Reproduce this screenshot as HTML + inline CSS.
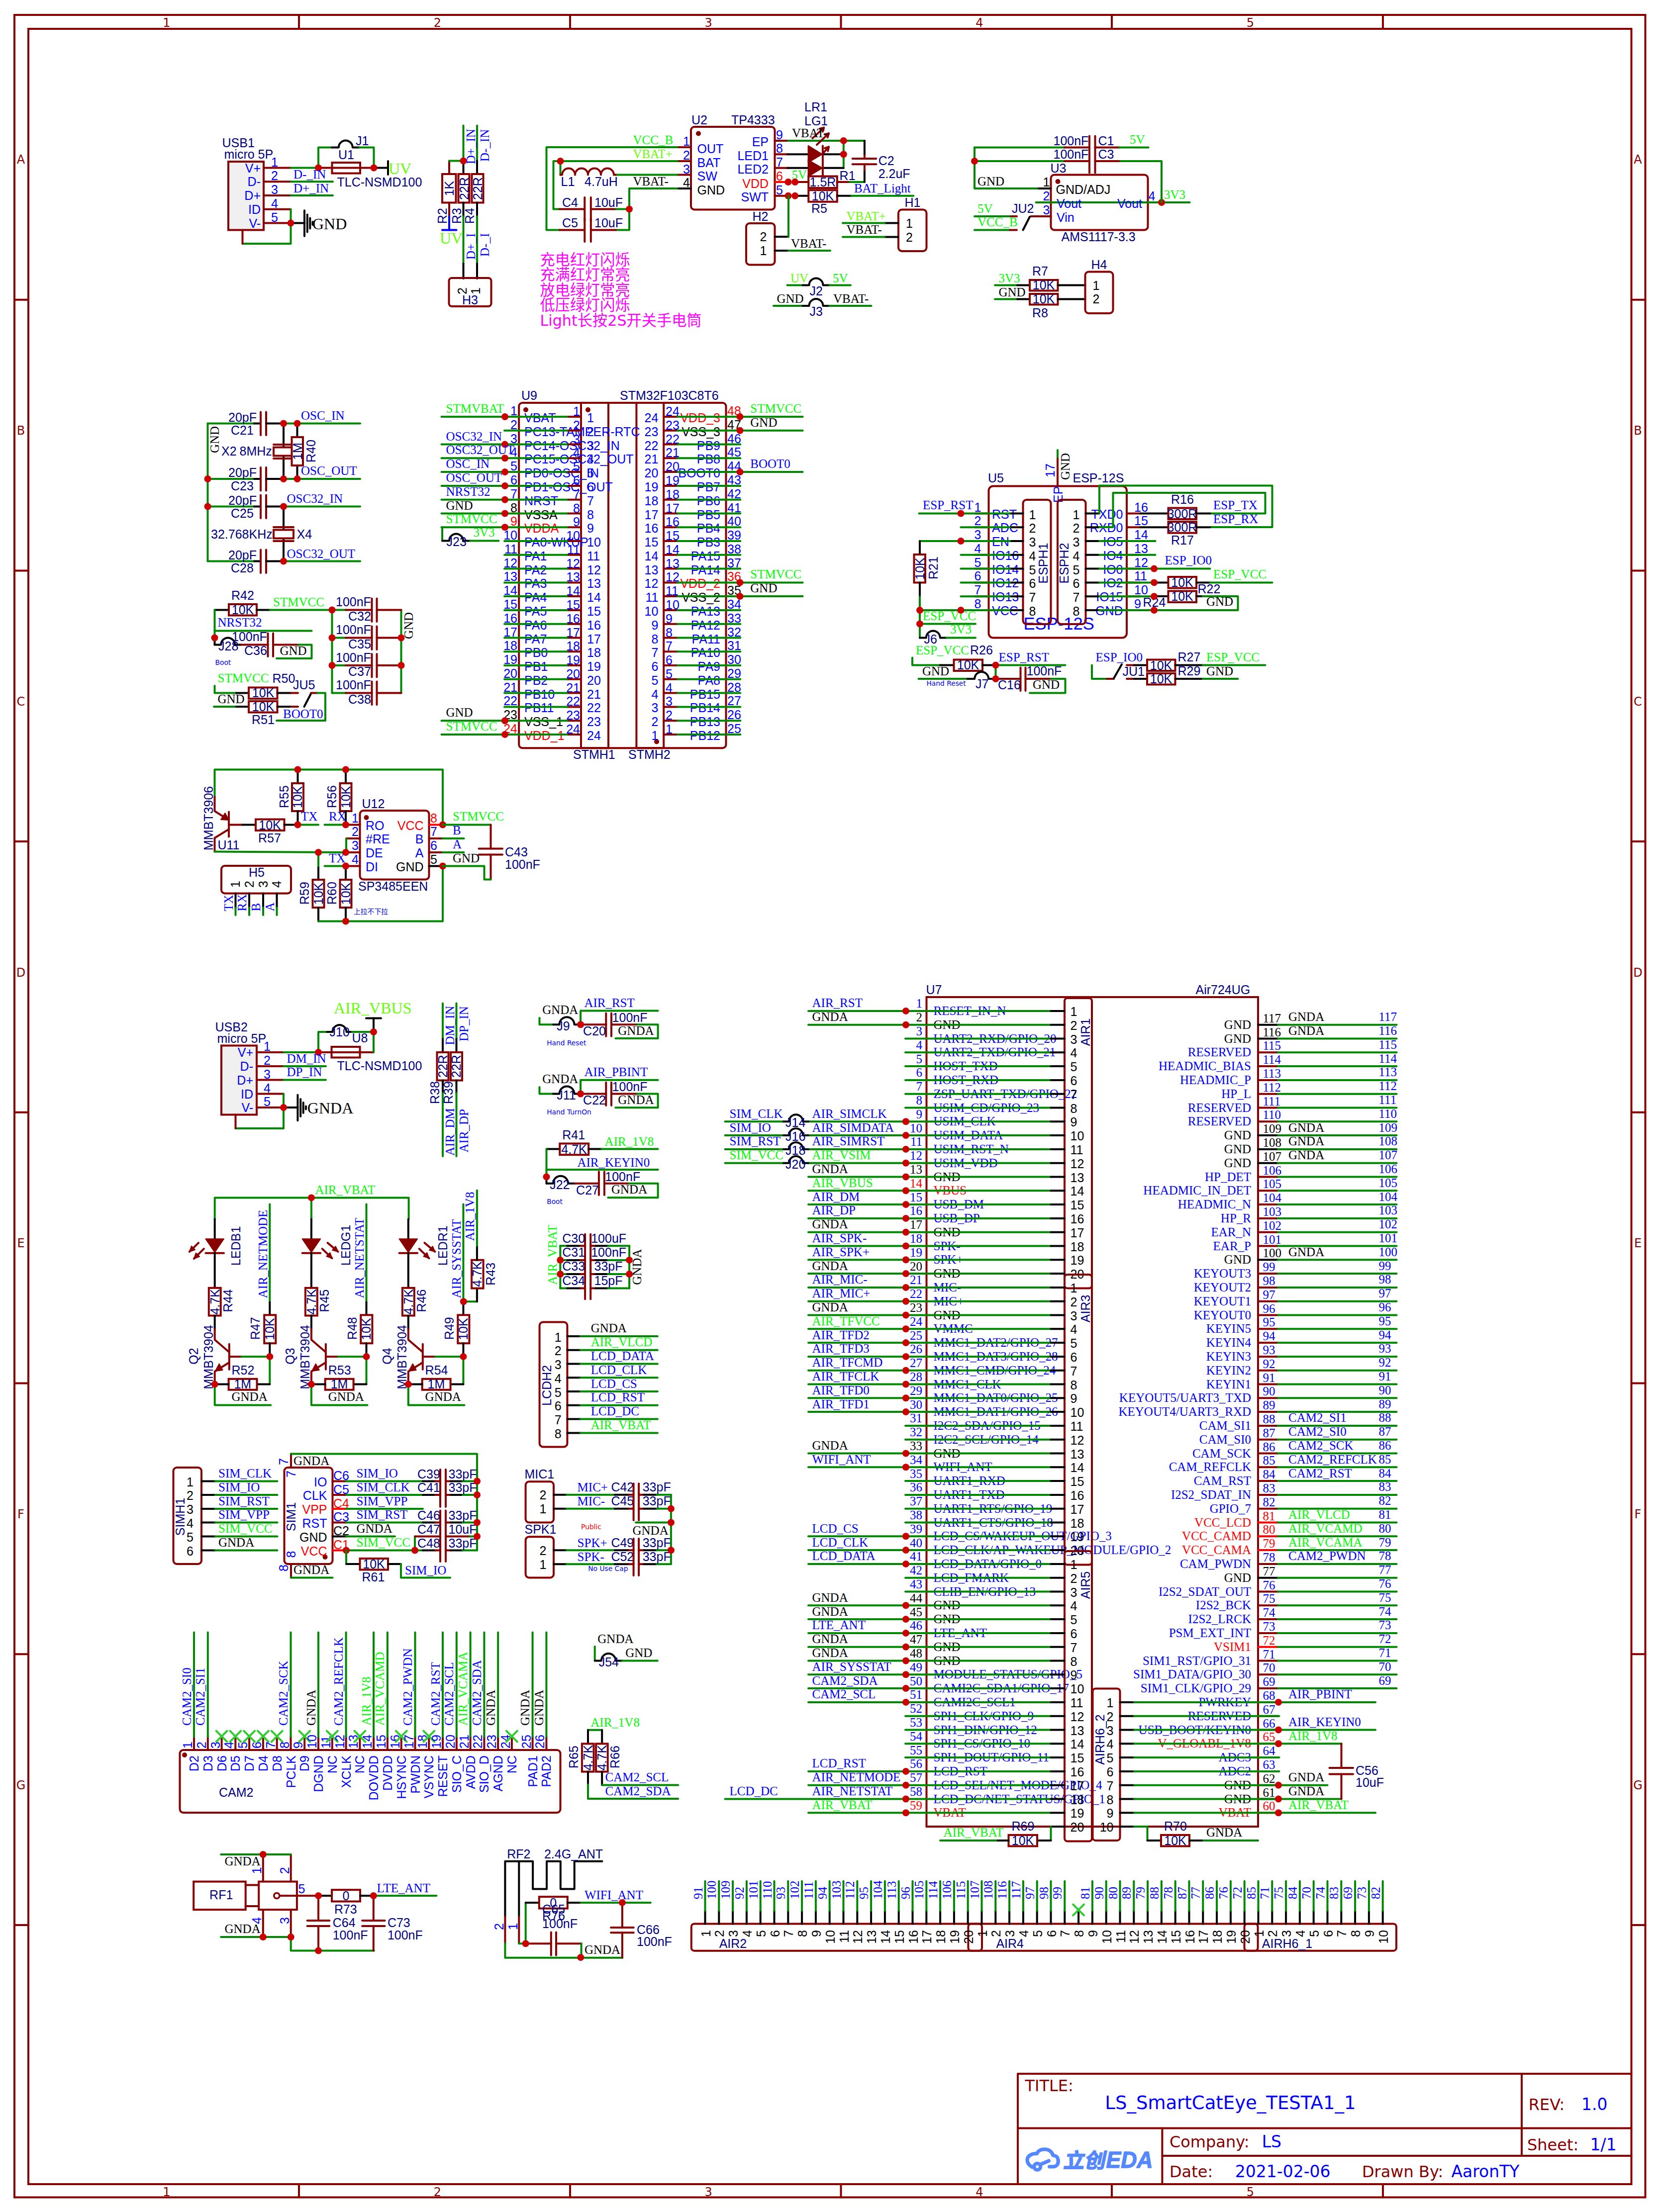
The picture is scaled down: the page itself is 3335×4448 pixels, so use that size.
<!DOCTYPE html>
<html lang="zh"><head><meta charset="utf-8"><title>LS_SmartCatEye_TESTA1_1</title>
<style>
html,body{margin:0;padding:0;background:#fff}
svg{display:block}
path,rect,polyline{fill:none;stroke-width:4;stroke-linecap:round;stroke-linejoin:round}
.g{stroke:#008800}.r{stroke:#880000}.k{stroke:#000}.b{stroke:#0000ff}.R{stroke:#ff0000}.G{stroke:#33cc33}
.j{fill:#cc0000}.fr{fill:#880000}
.tr{fill:#880000;stroke:#880000;stroke-width:2;stroke-linejoin:round}
rect{stroke-linejoin:miter}
text{font-size:25px;white-space:pre}
.s{font-family:"Liberation Sans",sans-serif}
.t{font-family:"Liberation Serif",serif}
.d{font-family:"DejaVu Sans","Liberation Sans",sans-serif}
.c{font-family:"Liberation Sans","Noto Sans CJK SC",sans-serif}
.e{font-family:"DejaVu Sans","Noto Sans CJK SC",sans-serif}
.fn{fill:#000080}.fb{fill:#0000ff}.fk{fill:#000}.fg{fill:#00ff00}.fR{fill:#ff0000}.fm{fill:#ff00ff}.fr{fill:#880000}.fl{fill:#66ff00}.fo{fill:#cc6600}
</style></head>
<body>
<svg width="3335" height="4448" viewBox="0 0 3335 4448">
<rect x="0" y="0" width="3335" height="4448" fill="#fff" stroke="none"/>
<rect class="r" x="29" y="30" width="3278.5" height="4388.5"/>
<rect class="r" x="57" y="58" width="3222.5" height="4334"/>
<path class="r" d="M601 30V58"/>
<path class="r" d="M601 4392V4418.5"/>
<path class="r" d="M1146 30V58"/>
<path class="r" d="M1146 4392V4418.5"/>
<path class="r" d="M1690.5 30V58"/>
<path class="r" d="M1690.5 4392V4418.5"/>
<path class="r" d="M2235 30V58"/>
<path class="r" d="M2235 4392V4418.5"/>
<path class="r" d="M2780 30V58"/>
<path class="r" d="M2780 4392V4418.5"/>
<text class="d fr" style="font-size:24px" text-anchor="middle" x="335" y="54">1</text>
<text class="d fr" style="font-size:24px" text-anchor="middle" x="335" y="4416">1</text>
<text class="d fr" style="font-size:24px" text-anchor="middle" x="879.5" y="54">2</text>
<text class="d fr" style="font-size:24px" text-anchor="middle" x="879.5" y="4416">2</text>
<text class="d fr" style="font-size:24px" text-anchor="middle" x="1424.2" y="54">3</text>
<text class="d fr" style="font-size:24px" text-anchor="middle" x="1424.2" y="4416">3</text>
<text class="d fr" style="font-size:24px" text-anchor="middle" x="1968.8" y="54">4</text>
<text class="d fr" style="font-size:24px" text-anchor="middle" x="1968.8" y="4416">4</text>
<text class="d fr" style="font-size:24px" text-anchor="middle" x="2513.5" y="54">5</text>
<text class="d fr" style="font-size:24px" text-anchor="middle" x="2513.5" y="4416">5</text>
<path class="r" d="M29 602.7H57"/>
<path class="r" d="M3279.5 602.7H3307.5"/>
<path class="r" d="M29 1147.4H57"/>
<path class="r" d="M3279.5 1147.4H3307.5"/>
<path class="r" d="M29 1692.1H57"/>
<path class="r" d="M3279.5 1692.1H3307.5"/>
<path class="r" d="M29 2236.8H57"/>
<path class="r" d="M3279.5 2236.8H3307.5"/>
<path class="r" d="M29 2781.5H57"/>
<path class="r" d="M3279.5 2781.5H3307.5"/>
<path class="r" d="M29 3326.2H57"/>
<path class="r" d="M3279.5 3326.2H3307.5"/>
<path class="r" d="M29 3870.9H57"/>
<path class="r" d="M3279.5 3870.9H3307.5"/>
<text class="d fr" style="font-size:24px" text-anchor="middle" x="42" y="329.4">A</text>
<text class="d fr" style="font-size:24px" text-anchor="middle" x="3292.5" y="329.4">A</text>
<text class="d fr" style="font-size:24px" text-anchor="middle" x="42" y="874.1">B</text>
<text class="d fr" style="font-size:24px" text-anchor="middle" x="3292.5" y="874.1">B</text>
<text class="d fr" style="font-size:24px" text-anchor="middle" x="42" y="1418.8">C</text>
<text class="d fr" style="font-size:24px" text-anchor="middle" x="3292.5" y="1418.8">C</text>
<text class="d fr" style="font-size:24px" text-anchor="middle" x="42" y="1963.5">D</text>
<text class="d fr" style="font-size:24px" text-anchor="middle" x="3292.5" y="1963.5">D</text>
<text class="d fr" style="font-size:24px" text-anchor="middle" x="42" y="2508.2">E</text>
<text class="d fr" style="font-size:24px" text-anchor="middle" x="3292.5" y="2508.2">E</text>
<text class="d fr" style="font-size:24px" text-anchor="middle" x="42" y="3052.9">F</text>
<text class="d fr" style="font-size:24px" text-anchor="middle" x="3292.5" y="3052.9">F</text>
<text class="d fr" style="font-size:24px" text-anchor="middle" x="42" y="3597.6">G</text>
<text class="d fr" style="font-size:24px" text-anchor="middle" x="3292.5" y="3597.6">G</text>
<path class="r" d="M2046 4392V4170H3279.5" stroke-width="3"/>
<path class="r" d="M2046 4279.4H3279.5" stroke-width="3"/>
<path class="r" d="M3059 4170V4335" stroke-width="3"/>
<path class="r" d="M2336.4 4335H3279.5" stroke-width="3"/>
<path class="r" d="M2336.4 4279.4V4392" stroke-width="3"/>
<text class="d fr" style="font-size:32px" x="2060.4" y="4205.4">TITLE:</text>
<text class="d fb" style="font-size:37px" x="2221.3" y="4240.8">LS_SmartCatEye_TESTA1_1</text>
<text class="d fr" style="font-size:32px" x="3072.7" y="4243">REV:</text>
<text class="d fb" style="font-size:33px" x="3178.9" y="4243">1.0</text>
<text class="d fr" style="font-size:32px" x="2350.9" y="4318">Company:</text>
<text class="d fb" style="font-size:33px" x="2536.7" y="4318">LS</text>
<text class="d fr" style="font-size:32px" x="3070" y="4323.6">Sheet:</text>
<text class="d fb" style="font-size:33px" x="3196.6" y="4323.6">1/1</text>
<text class="d fr" style="font-size:32px" x="2350.9" y="4378.4">Date:</text>
<text class="d fb" style="font-size:33px" x="2482.8" y="4378.4">2021-02-06</text>
<text class="d fr" style="font-size:32px" x="2737.9" y="4378.4">Drawn By:</text>
<text class="d fb" style="font-size:33px" x="2917.4" y="4378.4">AaronTY</text>
<rect class="r" x="459" y="325" width="71" height="137.5" style="fill:#f0f0f0"/>
<path class="r" d="M530 337.5H584.5"/>
<text class="s fb" text-anchor="end" x="524" y="346.5">V+</text>
<text class="s fb" x="545" y="334.5">1</text>
<path class="r" d="M530 365.3H584.5"/>
<text class="s fb" text-anchor="end" x="524" y="374.3">D-</text>
<text class="s fb" x="545" y="362.3">2</text>
<path class="r" d="M530 393.1H584.5"/>
<text class="s fb" text-anchor="end" x="524" y="402.1">D+</text>
<text class="s fb" x="545" y="390.1">3</text>
<path class="r" d="M530 420.8H584.5"/>
<text class="s fb" text-anchor="end" x="524" y="429.8">ID</text>
<text class="s fb" x="545" y="417.8">4</text>
<path class="r" d="M530 448.6H584.5"/>
<text class="s fb" text-anchor="end" x="524" y="457.6">V-</text>
<text class="s fb" x="545" y="445.6">5</text>
<text class="s fn" x="446.5" y="296">USB1</text>
<text class="s fn" x="450.5" y="318.5">micro 5P</text>
<path class="g" d="M584.5 337.5H640"/>
<path class="r" d="M640 337.5H751.5"/>
<rect class="r" x="667.5" y="327" width="56.5" height="21.5"/>
<path class="k" d="M751.5 337.5H780"/>
<path class="k" d="M780 324V351"/>
<text class="t fl" style="font-size:32px" x="781" y="350">UV</text>
<path class="g" d="M640 337.5V296.5H667"/>
<path class="k" d="M667 296.5H680.8A14 14 0 0 1 708.8 296.5H722.5"/>
<path class="g" d="M722.5 296.5H751.5V337.5"/>
<circle class="j" cx="640" cy="337.5" r="7"/>
<circle class="j" cx="751.5" cy="337.5" r="7"/>
<text class="s fn" x="715" y="291.5">J1</text>
<text class="s fn" x="680" y="320">U1</text>
<text class="s fn" x="677.5" y="375">TLC-NSMD100</text>
<path class="g" d="M584.5 365.3H669"/>
<path class="g" d="M584.5 393.1H669"/>
<text class="t fb" x="590" y="359">D-_IN</text>
<text class="t fb" x="590" y="387">D+_IN</text>
<path class="g" d="M584.5 420.8V490H487.5"/>
<path class="r" d="M487.5 490V462.5"/>
<path class="k" d="M584.5 448.6H612.5"/>
<path class="k" d="M612 423.2V474.8"/>
<path class="k" d="M617.8 431.5V466.5"/>
<path class="k" d="M623.3 438.5V459.5"/>
<path class="k" d="M628.5 446V452"/>
<text class="t fk" style="font-size:32px" x="628" y="460.5">GND</text>
<circle class="j" cx="584.5" cy="448.6" r="7"/>
<path class="g" d="M931.5 252.5V323.5"/>
<path class="k" d="M931.5 323.5V350"/>
<rect class="r" x="921.5" y="350" width="22" height="57.5" style="fill:#fff"/>
<path class="k" d="M931.5 407.5V435"/>
<path class="g" d="M931.5 435V530"/>
<path class="k" d="M931.5 530V560"/>
<path class="g" d="M959 252.5V323.5"/>
<path class="k" d="M959 323.5V350"/>
<rect class="r" x="948.5" y="350" width="23" height="57.5" style="fill:#fff"/>
<path class="k" d="M959 407.5V435"/>
<path class="g" d="M959 435V530"/>
<path class="k" d="M959 530V560"/>
<rect class="r" x="889" y="350" width="27.5" height="57.5" style="fill:#fff"/>
<path class="r" d="M903 350V323.5"/>
<path class="g" d="M903 323.5H931.5"/>
<path class="r" d="M903 407.5V435"/>
<path class="b" d="M903 435V462.5"/>
<path class="b" d="M889 462.5H917.5" stroke-width="4"/>
<circle class="j" cx="931.5" cy="323.5" r="7"/>
<text class="t fl" style="font-size:32px" x="884" y="490">UV</text>
<text class="s fn" text-anchor="middle" transform="translate(912 379) rotate(-90)">1K</text>
<text class="s fn" text-anchor="middle" transform="translate(941.5 379) rotate(-90)">22R</text>
<text class="s fn" text-anchor="middle" transform="translate(969 379) rotate(-90)">22R</text>
<text class="s fn" transform="translate(898 450) rotate(-90)">R2</text>
<text class="s fn" transform="translate(926.5 450) rotate(-90)">R3</text>
<text class="s fn" transform="translate(953 450) rotate(-90)">R4</text>
<text class="t fb" transform="translate(955 330) rotate(-90)">D+_IN</text>
<text class="t fb" transform="translate(982.5 325) rotate(-90)">D-_IN</text>
<text class="t fb" transform="translate(955 522) rotate(-90)">D+_I</text>
<text class="t fb" transform="translate(982.5 516) rotate(-90)">D-_I</text>
<rect class="r" x="902.5" y="559" width="85" height="57" rx="6"/>
<text class="s fk" transform="translate(937.5 592) rotate(-90)">2</text>
<text class="s fk" transform="translate(965 592) rotate(-90)">1</text>
<text class="s fn" text-anchor="middle" x="945" y="612">H3</text>
<rect class="r" x="1389" y="255" width="168.5" height="166.5" rx="7"/>
<circle class="fr" cx="1404" cy="268.5" r="5"/>
<path class="r" d="M1361.5 296H1389"/>
<text class="s fb" x="1401.5" y="307.5">OUT</text>
<text class="s fb" text-anchor="end" x="1387" y="293">1</text>
<path class="r" d="M1361.5 324H1389"/>
<text class="s fb" x="1401.5" y="335.5">BAT</text>
<text class="s fb" text-anchor="end" x="1387" y="321">2</text>
<path class="r" d="M1361.5 351.5H1389"/>
<text class="s fb" x="1401.5" y="363">SW</text>
<text class="s fb" text-anchor="end" x="1387" y="348.5">3</text>
<path class="k" d="M1361.5 379H1389"/>
<text class="s fk" x="1401.5" y="390.5">GND</text>
<text class="s fk" text-anchor="end" x="1387" y="376">4</text>
<path class="r" d="M1557.5 282.9H1584.5"/>
<text class="s fb" text-anchor="end" x="1545" y="294.4">EP</text>
<text class="s fb" x="1560" y="279.9">9</text>
<path class="r" d="M1557.5 310.2H1584.5"/>
<text class="s fb" text-anchor="end" x="1545" y="321.7">LED1</text>
<text class="s fb" x="1560" y="307.2">8</text>
<path class="r" d="M1557.5 337.8H1584.5"/>
<text class="s fb" text-anchor="end" x="1545" y="349.3">LED2</text>
<text class="s fb" x="1560" y="334.8">7</text>
<path class="R" d="M1557.5 366H1584.5"/>
<text class="s fR" text-anchor="end" x="1545" y="377.5">VDD</text>
<text class="s fR" x="1560" y="363">6</text>
<path class="r" d="M1557.5 393.8H1584.5"/>
<text class="s fb" text-anchor="end" x="1545" y="405.3">SWT</text>
<text class="s fb" x="1560" y="390.8">5</text>
<text class="s fn" x="1390" y="250">U2</text>
<text class="s fn" x="1470" y="250">TP4333</text>
<path class="g" d="M1361.5 296H1098.5V462.5H1125"/>
<path class="g" d="M1238.5 462.5H1265V379H1361.5"/>
<path class="r" d="M1125 462.5H1175.3"/>
<path class="r" d="M1187.8 462.5H1238.1"/>
<path class="r" d="M1175.3 439V486"/>
<path class="r" d="M1187.8 439V486"/>
<path class="g" d="M1361.5 324H1112.5V420.5H1125"/>
<path class="r" d="M1125 420.5H1175.3"/>
<path class="r" d="M1187.8 420.5H1238.1"/>
<path class="r" d="M1175.3 397V444"/>
<path class="r" d="M1187.8 397V444"/>
<path class="g" d="M1238.5 420.5H1265"/>
<path class="g" d="M1126.5 324V351.5"/>
<path class="g" d="M1237.5 351.5H1361.5"/>
<path class="r" d="M1126.5 351.5H1130A13 13 0 0 1 1156 351.5A13 13 0 0 1 1182 351.5A13 13 0 0 1 1208 351.5A13 13 0 0 1 1234 351.5H1237.5"/>
<circle class="j" cx="1126.5" cy="324" r="7"/>
<circle class="j" cx="1265" cy="420.5" r="7"/>
<text class="t fg" x="1272.5" y="290">VCC_B</text>
<text class="t fl" x="1272.5" y="317.5">VBAT+</text>
<text class="t fk" x="1272.5" y="372.5">VBAT-</text>
<text class="s fn" x="1127.5" y="374">L1</text>
<text class="s fn" x="1175" y="374">4.7uH</text>
<text class="s fn" x="1130" y="416">C4</text>
<text class="s fn" x="1195" y="416">10uF</text>
<text class="s fn" x="1130" y="456.5">C5</text>
<text class="s fn" x="1195" y="456.5">10uF</text>
<text class="e fm" style="font-size:30.2px" x="1085.5" y="532.5">充电红灯闪烁</text>
<text class="e fm" style="font-size:30.2px" x="1085.5" y="563">充满红灯常亮</text>
<text class="e fm" style="font-size:30.2px" x="1085.5" y="593.5">放电绿灯常亮</text>
<text class="e fm" style="font-size:30.2px" x="1085.5" y="624">低压绿灯闪烁</text>
<text class="e fm" style="font-size:30.2px" x="1085.5" y="654.5">Light长按2S开关手电筒</text>
<path class="g" d="M1584.5 282.9H1737.9"/>
<path class="g" d="M1695.8 282.9V337.8"/>
<path class="k" d="M1583.4 310.2H1689.7"/>
<path class="k" d="M1583.4 337.8H1695.8"/>
<polygon class="tr" points="1624.6 292.9 1624.6 327 1652.8 310.2"/>
<polygon class="tr" points="1624.6 321.5 1624.6 355.2 1652.8 337.8"/>
<path class="r" d="M1653.9 293.3V355.2"/>
<path class="r" d="M1633.3 278.1L1656.1 256.9"/>
<path class="r" d="M1656.1 256.9L1653.8 264.8"/>
<path class="r" d="M1656.1 256.9L1648 258.6"/>
<path class="r" d="M1642 291.1L1665.9 268.4"/>
<path class="r" d="M1665.9 268.4L1663.7 276.3"/>
<path class="r" d="M1665.9 268.4L1657.8 270.2"/>
<path class="r" d="M1656.1 306.3L1665.9 295.5"/>
<path class="r" d="M1665.9 295.5L1664.3 303.6"/>
<path class="r" d="M1665.9 295.5L1658 297.9"/>
<circle class="j" cx="1695.8" cy="282.9" r="7"/>
<circle class="j" cx="1695.8" cy="310.2" r="7"/>
<text class="s fn" x="1617" y="224.3">LR1</text>
<text class="s fn" x="1617" y="252">LG1</text>
<text class="t fk" x="1592" y="276">VBAT-</text>
<text class="t fg" x="1591.6" y="359.5">5V</text>
<path class="r" d="M1598.2 366H1625.7"/>
<rect class="r" x="1625.3" y="354.5" width="57.5" height="23.5" style="fill:#fff"/>
<path class="r" d="M1682.8 366H1708.2"/>
<path class="g" d="M1708.2 366H1737.9"/>
<circle class="j" cx="1584.5" cy="366" r="7"/>
<circle class="j" cx="1598.2" cy="366" r="7"/>
<text class="s fn" text-anchor="middle" x="1654" y="375">1.5R</text>
<text class="s fn" x="1687.6" y="361.7">R1</text>
<path class="k" d="M1737.9 366V342.1"/>
<path class="r" d="M1737.9 342.1V330.2"/>
<path class="r" d="M1713.6 330.2H1761.4"/>
<path class="r" d="M1713.6 318.9H1761.4"/>
<path class="r" d="M1737.9 318.9V309.6"/>
<path class="k" d="M1737.9 309.6V282.9"/>
<text class="s fn" x="1765.7" y="332">C2</text>
<text class="s fn" x="1765.7" y="358">2.2uF</text>
<path class="k" d="M1598.2 393.8H1625.7"/>
<rect class="r" x="1625.3" y="382.3" width="57.5" height="23.4" style="fill:#fff"/>
<path class="k" d="M1682.8 393.8H1711.4"/>
<path class="g" d="M1711.4 393.8H1836.2"/>
<circle class="j" cx="1584.5" cy="393.8" r="7"/>
<circle class="j" cx="1598.2" cy="393.8" r="7"/>
<text class="s fn" text-anchor="middle" x="1654" y="403">10K</text>
<text class="s fn" x="1631" y="428">R5</text>
<text class="t fb" x="1716.9" y="386.6">BAT_Light</text>
<rect class="r" x="1500" y="449" width="57.5" height="83.5" rx="7"/>
<path class="k" d="M1557.5 476H1585"/>
<path class="k" d="M1557.5 504H1585"/>
<path class="g" d="M1585 476V393.5"/>
<path class="g" d="M1585 504H1669"/>
<text class="s fk" x="1527.5" y="485">2</text>
<text class="s fk" x="1527.5" y="513">1</text>
<text class="t fk" x="1590" y="497.5">VBAT-</text>
<text class="s fn" x="1512.5" y="443.5">H2</text>
<rect class="r" x="1806" y="421.5" width="56.5" height="83.5" rx="7"/>
<path class="k" d="M1806 448.5H1778.5"/>
<path class="k" d="M1806 476.5H1778.5"/>
<path class="g" d="M1778.5 448.5H1694"/>
<path class="g" d="M1778.5 476.5H1694"/>
<text class="s fk" x="1821" y="457.5">1</text>
<text class="s fk" x="1821" y="485.5">2</text>
<text class="t fl" x="1701.5" y="442.5">VBAT+</text>
<text class="t fk" x="1701.5" y="470">VBAT-</text>
<text class="s fn" x="1818.5" y="416">H1</text>
<path class="g" d="M1582.5 573.5H1613.5"/>
<path class="k" d="M1613.5 573.5H1626.5A14 14 0 0 1 1654.5 573.5H1667.5"/>
<path class="g" d="M1667.5 573.5H1710"/>
<text class="t fl" x="1589" y="567.5">UV</text>
<text class="t fg" x="1674" y="567.5">5V</text>
<text class="s fn" x="1627.5" y="593.5">J2</text>
<path class="g" d="M1555 615H1613.5"/>
<path class="k" d="M1613.5 615H1626.5A14 14 0 0 1 1654.5 615H1667.5"/>
<path class="g" d="M1667.5 615H1751.5"/>
<text class="t fk" x="1561.5" y="608.5">GND</text>
<text class="t fk" x="1675" y="608.5">VBAT-</text>
<text class="s fn" x="1627.5" y="635">J3</text>
<rect class="r" x="2112.5" y="351.5" width="195" height="111" rx="7"/>
<circle class="fr" cx="2126.5" cy="365" r="5"/>
<path class="k" d="M2085 379H2112.5"/>
<path class="r" d="M2072.5 435H2112.5"/>
<path class="g" d="M2082.5 407H2391.5"/>
<circle class="j" cx="2335" cy="407" r="7"/>
<text class="s fk" x="2122.5" y="390">GND/ADJ</text>
<text class="s fb" x="2124" y="417.5">Vout</text>
<text class="s fb" x="2124" y="446">Vin</text>
<text class="s fb" text-anchor="end" x="2296" y="417.5">Vout</text>
<text class="s fk" x="2096.5" y="375">1</text>
<text class="s fb" x="2096.5" y="402.5">2</text>
<text class="s fb" x="2096.5" y="431">3</text>
<text class="s fb" x="2308.5" y="402.5">4</text>
<text class="s fn" x="2111.5" y="346.5">U3</text>
<text class="s fn" x="2133.5" y="485">AMS1117-3.3</text>
<path class="g" d="M1959 296.5H2140"/>
<path class="r" d="M2140 296.5H2190"/>
<path class="r" d="M2201.5 296.5H2250"/>
<path class="g" d="M2250 296.5H2308.5"/>
<path class="g" d="M1959 324H2140"/>
<path class="r" d="M2140 324H2190"/>
<path class="r" d="M2201.5 324H2252.5"/>
<path class="g" d="M2252.5 324H2335V407"/>
<path class="r" d="M2190 273.5V347.5"/>
<path class="r" d="M2201.5 273.5V347.5"/>
<path class="g" d="M1959 296.5V379H2085"/>
<circle class="j" cx="1959" cy="324" r="7"/>
<text class="s fn" x="2117.5" y="291.5">100nF</text>
<text class="s fn" x="2207.5" y="291.5">C1</text>
<text class="s fn" x="2117.5" y="319">100nF</text>
<text class="s fn" x="2207.5" y="319">C3</text>
<text class="t fg" x="2271" y="289">5V</text>
<text class="t fk" x="1965" y="372.5">GND</text>
<text class="t fg" x="2340" y="400">3V3</text>
<path class="g" d="M1959 435H2032.5"/>
<path class="r" d="M2032.5 435H2044"/>
<path class="g" d="M1959 462.5H2030"/>
<path class="r" d="M2030 462.5H2044"/>
<path class="k" d="M2056.5 462.5L2070 436" stroke-width="4.5"/>
<text class="t fg" x="1965" y="427.5">5V</text>
<text class="t fg" x="1965" y="455">VCC_B</text>
<text class="s fn" x="2034" y="427.5">JU2</text>
<path class="g" d="M2000 573.5H2045"/>
<path class="k" d="M2045 573.5H2070"/>
<rect class="r" x="2070" y="563" width="56.5" height="21.5" style="fill:#fff"/>
<path class="k" d="M2126.5 573.5H2181.5"/>
<text class="s fn" text-anchor="middle" x="2098" y="582">10K</text>
<text class="t fg" x="2007.5" y="567.5">3V3</text>
<path class="g" d="M2000 601.5H2045"/>
<path class="k" d="M2045 601.5H2070"/>
<rect class="r" x="2070" y="591" width="56.5" height="21.5" style="fill:#fff"/>
<path class="k" d="M2126.5 601.5H2181.5"/>
<text class="s fn" text-anchor="middle" x="2098" y="610">10K</text>
<text class="t fk" x="2007.5" y="595.5">GND</text>
<rect class="r" x="2181.5" y="546.5" width="56" height="83.5" rx="7"/>
<text class="s fk" x="2196.5" y="582.5">1</text>
<text class="s fk" x="2196.5" y="610">2</text>
<text class="s fn" x="2193.5" y="541">H4</text>
<text class="s fn" x="2075" y="553.5">R7</text>
<text class="s fn" x="2075" y="637.5">R8</text>
<path class="g" d="M417.5 851.5V1128.5"/>
<text class="t fk" transform="translate(440 911) rotate(-90)">GND</text>
<path class="g" d="M417.5 851.5H511"/>
<path class="k" d="M511 851.5H524"/>
<path class="r" d="M524 828.5V875"/>
<path class="r" d="M535 828.5V875"/>
<path class="k" d="M535 851.5H570"/>
<text class="s fn" x="459" y="847.5">20pF</text>
<text class="s fn" x="464" y="874">C21</text>
<path class="g" d="M570 851.5H724"/>
<path class="g" d="M417.5 963H511"/>
<path class="k" d="M511 963H524"/>
<path class="r" d="M524 940V986.5"/>
<path class="r" d="M535 940V986.5"/>
<path class="k" d="M535 963H570"/>
<text class="s fn" x="459" y="959">20pF</text>
<text class="s fn" x="464" y="985.5">C23</text>
<path class="g" d="M570 963H724"/>
<path class="g" d="M417.5 1018.5H511"/>
<path class="k" d="M511 1018.5H524"/>
<path class="r" d="M524 995.5V1042"/>
<path class="r" d="M535 995.5V1042"/>
<path class="k" d="M535 1018.5H570"/>
<text class="s fn" x="459" y="1014.5">20pF</text>
<text class="s fn" x="464" y="1041">C25</text>
<path class="g" d="M570 1018.5H724"/>
<path class="g" d="M417.5 1128.5H511"/>
<path class="k" d="M511 1128.5H524"/>
<path class="r" d="M524 1105.5V1152"/>
<path class="r" d="M535 1105.5V1152"/>
<path class="k" d="M535 1128.5H570"/>
<text class="s fn" x="459" y="1124.5">20pF</text>
<text class="s fn" x="464" y="1151">C28</text>
<path class="g" d="M570 1128.5H724"/>
<path class="k" d="M570 851.5V963"/>
<path class="k" d="M570 1018.5V1128.5"/>
<rect class="r" x="550" y="899.5" width="40" height="17" style="fill:#fff"/>
<path class="r" d="M550 894H590"/>
<path class="r" d="M550 922H590"/>
<rect class="r" x="550" y="1065.5" width="40" height="17" style="fill:#fff"/>
<path class="r" d="M550 1060H590"/>
<path class="r" d="M550 1088H590"/>
<path class="k" d="M597.5 851.5V879"/>
<path class="k" d="M597.5 936V963"/>
<rect class="r" x="586.5" y="879" width="22.5" height="57" style="fill:#fff"/>
<text class="s fn" text-anchor="middle" transform="translate(606.5 907.5) rotate(-90)">1M</text>
<text class="s fn" transform="translate(634 930) rotate(-90)">R40</text>
<circle class="j" cx="570" cy="851.5" r="7"/>
<circle class="j" cx="597.5" cy="851.5" r="7"/>
<circle class="j" cx="417.5" cy="963" r="7"/>
<circle class="j" cx="570" cy="963" r="7"/>
<circle class="j" cx="597.5" cy="963" r="7"/>
<circle class="j" cx="417.5" cy="1018.5" r="7"/>
<circle class="j" cx="570" cy="1018.5" r="7"/>
<circle class="j" cx="570" cy="1128.5" r="7"/>
<text class="s fn" x="445" y="916">X2</text>
<text class="s fn" x="481.5" y="916">8MHz</text>
<text class="s fn" x="424" y="1082.5">32.768KHz</text>
<text class="s fn" x="596.5" y="1082.5">X4</text>
<text class="t fb" x="605" y="844">OSC_IN</text>
<text class="t fb" x="605" y="955">OSC_OUT</text>
<text class="t fb" x="576.5" y="1011">OSC32_IN</text>
<text class="t fb" x="576.5" y="1121.5">OSC32_OUT</text>
<rect class="r" x="1043.2" y="810" width="416.3" height="694.2" rx="7"/>
<rect class="r" x="1168" y="810" width="55" height="694.2"/>
<rect class="r" x="1279.4" y="810" width="54.8" height="694.2"/>
<circle class="fr" cx="1057" cy="824" r="5"/>
<circle class="fr" cx="1182" cy="824" r="5"/>
<circle class="fr" cx="1320" cy="1491.4" r="5"/>
<text class="s fn" x="1048" y="804">U9</text>
<text class="s fn" x="1246" y="804">STM32F103C8T6</text>
<text class="s fn" x="1152" y="1526">STMH1</text>
<text class="s fn" x="1263" y="1526">STMH2</text>
<text class="s fb" text-anchor="end" x="1040" y="835">1</text>
<text class="s fb" x="1054" y="849">VBAT</text>
<text class="s fb" text-anchor="end" x="1166" y="836">1</text>
<text class="s fb" x="1180" y="849">1</text>
<text class="s fb" text-anchor="end" x="1323.4" y="849">24</text>
<text class="s fb" x="1338" y="836">24</text>
<text class="s fR" text-anchor="end" x="1448" y="849">VDD_3</text>
<text class="s fR" x="1462" y="835">48</text>
<path class="r" d="M1140 838H1168"/>
<path class="r" d="M1334.2 838H1362"/>
<path class="g" d="M887.5 838H1140"/>
<circle class="j" cx="1015" cy="838" r="7"/>
<text class="t fg" x="896.5" y="830">STMVBAT</text>
<path class="g" d="M1362 838H1613.6"/>
<circle class="j" cx="1487.5" cy="838" r="7"/>
<text class="t fg" x="1508.3" y="830">STMVCC</text>
<text class="s fb" text-anchor="end" x="1040" y="862.8">2</text>
<text class="s fb" x="1054" y="876.8">PC13-TAMPER-RTC</text>
<text class="s fb" text-anchor="end" x="1166" y="863.8">2</text>
<text class="s fb" x="1180" y="876.8">2</text>
<text class="s fb" text-anchor="end" x="1323.4" y="876.8">23</text>
<text class="s fb" x="1338" y="863.8">23</text>
<text class="s fk" text-anchor="end" x="1448" y="876.8">VSS_3</text>
<text class="s fk" x="1462" y="862.8">47</text>
<path class="r" d="M1140 865.8H1168"/>
<path class="r" d="M1334.2 865.8H1362"/>
<path class="g" d="M1014 865.8H1140"/>
<path class="g" d="M1362 865.8H1613.6"/>
<circle class="j" cx="1487.5" cy="865.8" r="7"/>
<text class="t fk" x="1508.3" y="857.8">GND</text>
<text class="s fb" text-anchor="end" x="1040" y="890.6">3</text>
<text class="s fb" x="1054" y="904.6">PC14-OSC32_IN</text>
<text class="s fb" text-anchor="end" x="1166" y="891.6">3</text>
<text class="s fb" x="1180" y="904.6">3</text>
<text class="s fb" text-anchor="end" x="1323.4" y="904.6">22</text>
<text class="s fb" x="1338" y="891.6">22</text>
<text class="s fb" text-anchor="end" x="1448" y="904.6">PB9</text>
<text class="s fb" x="1462" y="890.6">46</text>
<path class="r" d="M1140 893.6H1168"/>
<path class="r" d="M1334.2 893.6H1362"/>
<path class="g" d="M887.5 893.6H1140"/>
<circle class="j" cx="1015" cy="893.6" r="7"/>
<text class="t fb" x="896.5" y="885.6">OSC32_IN</text>
<path class="g" d="M1362 893.6H1488.3"/>
<text class="s fb" text-anchor="end" x="1040" y="918.3">4</text>
<text class="s fb" x="1054" y="932.3">PC15-OSC32_OUT</text>
<text class="s fb" text-anchor="end" x="1166" y="919.3">4</text>
<text class="s fb" x="1180" y="932.3">4</text>
<text class="s fb" text-anchor="end" x="1323.4" y="932.3">21</text>
<text class="s fb" x="1338" y="919.3">21</text>
<text class="s fb" text-anchor="end" x="1448" y="932.3">PB8</text>
<text class="s fb" x="1462" y="918.3">45</text>
<path class="r" d="M1140 921.3H1168"/>
<path class="r" d="M1334.2 921.3H1362"/>
<path class="g" d="M887.5 921.3H1140"/>
<circle class="j" cx="1015" cy="921.3" r="7"/>
<text class="t fb" x="896.5" y="913.3">OSC32_OUT</text>
<path class="g" d="M1362 921.3H1488.3"/>
<text class="s fb" text-anchor="end" x="1040" y="946.1">5</text>
<text class="s fb" x="1054" y="960.1">PD0-OSC_IN</text>
<text class="s fb" text-anchor="end" x="1166" y="947.1">5</text>
<text class="s fb" x="1180" y="960.1">5</text>
<text class="s fb" text-anchor="end" x="1323.4" y="960.1">20</text>
<text class="s fb" x="1338" y="947.1">20</text>
<text class="s fb" text-anchor="end" x="1448" y="960.1">BOOT0</text>
<text class="s fb" x="1462" y="946.1">44</text>
<path class="r" d="M1140 949.1H1168"/>
<path class="r" d="M1334.2 949.1H1362"/>
<path class="g" d="M887.5 949.1H1140"/>
<circle class="j" cx="1015" cy="949.1" r="7"/>
<text class="t fb" x="896.5" y="941.1">OSC_IN</text>
<path class="g" d="M1362 949.1H1613.6"/>
<circle class="j" cx="1487.5" cy="949.1" r="7"/>
<text class="t fb" x="1508.3" y="941.1">BOOT0</text>
<text class="s fb" text-anchor="end" x="1040" y="973.9">6</text>
<text class="s fb" x="1054" y="987.9">PD1-OSC_OUT</text>
<text class="s fb" text-anchor="end" x="1166" y="974.9">6</text>
<text class="s fb" x="1180" y="987.9">6</text>
<text class="s fb" text-anchor="end" x="1323.4" y="987.9">19</text>
<text class="s fb" x="1338" y="974.9">19</text>
<text class="s fb" text-anchor="end" x="1448" y="987.9">PB7</text>
<text class="s fb" x="1462" y="973.9">43</text>
<path class="r" d="M1140 976.9H1168"/>
<path class="r" d="M1334.2 976.9H1362"/>
<path class="g" d="M887.5 976.9H1140"/>
<circle class="j" cx="1015" cy="976.9" r="7"/>
<text class="t fb" x="896.5" y="968.9">OSC_OUT</text>
<path class="g" d="M1362 976.9H1488.3"/>
<text class="s fb" text-anchor="end" x="1040" y="1001.7">7</text>
<text class="s fb" x="1054" y="1015.7">NRST</text>
<text class="s fb" text-anchor="end" x="1166" y="1002.7">7</text>
<text class="s fb" x="1180" y="1015.7">7</text>
<text class="s fb" text-anchor="end" x="1323.4" y="1015.7">18</text>
<text class="s fb" x="1338" y="1002.7">18</text>
<text class="s fb" text-anchor="end" x="1448" y="1015.7">PB6</text>
<text class="s fb" x="1462" y="1001.7">42</text>
<path class="r" d="M1140 1004.7H1168"/>
<path class="r" d="M1334.2 1004.7H1362"/>
<path class="g" d="M887.5 1004.7H1140"/>
<circle class="j" cx="1015" cy="1004.7" r="7"/>
<text class="t fb" x="896.5" y="996.7">NRST32</text>
<path class="g" d="M1362 1004.7H1488.3"/>
<text class="s fk" text-anchor="end" x="1040" y="1029.5">8</text>
<text class="s fk" x="1054" y="1043.5">VSSA</text>
<text class="s fb" text-anchor="end" x="1166" y="1030.5">8</text>
<text class="s fb" x="1180" y="1043.5">8</text>
<text class="s fb" text-anchor="end" x="1323.4" y="1043.5">17</text>
<text class="s fb" x="1338" y="1030.5">17</text>
<text class="s fb" text-anchor="end" x="1448" y="1043.5">PB5</text>
<text class="s fb" x="1462" y="1029.5">41</text>
<path class="r" d="M1140 1032.5H1168"/>
<path class="r" d="M1334.2 1032.5H1362"/>
<path class="g" d="M887.5 1032.5H1140"/>
<circle class="j" cx="1015" cy="1032.5" r="7"/>
<text class="t fk" x="896.5" y="1024.5">GND</text>
<path class="g" d="M1362 1032.5H1488.3"/>
<text class="s fR" text-anchor="end" x="1040" y="1057.2">9</text>
<text class="s fR" x="1054" y="1071.2">VDDA</text>
<text class="s fb" text-anchor="end" x="1166" y="1058.2">9</text>
<text class="s fb" x="1180" y="1071.2">9</text>
<text class="s fb" text-anchor="end" x="1323.4" y="1071.2">16</text>
<text class="s fb" x="1338" y="1058.2">16</text>
<text class="s fb" text-anchor="end" x="1448" y="1071.2">PB4</text>
<text class="s fb" x="1462" y="1057.2">40</text>
<path class="r" d="M1140 1060.2H1168"/>
<path class="r" d="M1334.2 1060.2H1362"/>
<path class="g" d="M887.5 1060.2H1140"/>
<circle class="j" cx="1015" cy="1060.2" r="7"/>
<text class="t fg" x="896.5" y="1052.2">STMVCC</text>
<path class="g" d="M1362 1060.2H1488.3"/>
<text class="s fb" text-anchor="end" x="1040" y="1085">10</text>
<text class="s fb" x="1054" y="1099">PA0-WKUP</text>
<text class="s fb" text-anchor="end" x="1166" y="1086">10</text>
<text class="s fb" x="1180" y="1099">10</text>
<text class="s fb" text-anchor="end" x="1323.4" y="1099">15</text>
<text class="s fb" x="1338" y="1086">15</text>
<text class="s fb" text-anchor="end" x="1448" y="1099">PB3</text>
<text class="s fb" x="1462" y="1085">39</text>
<path class="r" d="M1140 1088H1168"/>
<path class="r" d="M1334.2 1088H1362"/>
<path class="g" d="M1014 1088H1140"/>
<path class="g" d="M1362 1088H1488.3"/>
<text class="s fb" text-anchor="end" x="1040" y="1112.8">11</text>
<text class="s fb" x="1054" y="1126.8">PA1</text>
<text class="s fb" text-anchor="end" x="1166" y="1113.8">11</text>
<text class="s fb" x="1180" y="1126.8">11</text>
<text class="s fb" text-anchor="end" x="1323.4" y="1126.8">14</text>
<text class="s fb" x="1338" y="1113.8">14</text>
<text class="s fb" text-anchor="end" x="1448" y="1126.8">PA15</text>
<text class="s fb" x="1462" y="1112.8">38</text>
<path class="r" d="M1140 1115.8H1168"/>
<path class="r" d="M1334.2 1115.8H1362"/>
<path class="g" d="M1014 1115.8H1140"/>
<path class="g" d="M1362 1115.8H1488.3"/>
<text class="s fb" text-anchor="end" x="1040" y="1140.6">12</text>
<text class="s fb" x="1054" y="1154.6">PA2</text>
<text class="s fb" text-anchor="end" x="1166" y="1141.6">12</text>
<text class="s fb" x="1180" y="1154.6">12</text>
<text class="s fb" text-anchor="end" x="1323.4" y="1154.6">13</text>
<text class="s fb" x="1338" y="1141.6">13</text>
<text class="s fb" text-anchor="end" x="1448" y="1154.6">PA14</text>
<text class="s fb" x="1462" y="1140.6">37</text>
<path class="r" d="M1140 1143.6H1168"/>
<path class="r" d="M1334.2 1143.6H1362"/>
<path class="g" d="M1014 1143.6H1140"/>
<path class="g" d="M1362 1143.6H1488.3"/>
<text class="s fb" text-anchor="end" x="1040" y="1168.4">13</text>
<text class="s fb" x="1054" y="1182.4">PA3</text>
<text class="s fb" text-anchor="end" x="1166" y="1169.4">13</text>
<text class="s fb" x="1180" y="1182.4">13</text>
<text class="s fb" text-anchor="end" x="1323.4" y="1182.4">12</text>
<text class="s fb" x="1338" y="1169.4">12</text>
<text class="s fR" text-anchor="end" x="1448" y="1182.4">VDD_2</text>
<text class="s fR" x="1462" y="1168.4">36</text>
<path class="r" d="M1140 1171.4H1168"/>
<path class="r" d="M1334.2 1171.4H1362"/>
<path class="g" d="M1014 1171.4H1140"/>
<path class="g" d="M1362 1171.4H1613.6"/>
<circle class="j" cx="1487.5" cy="1171.4" r="7"/>
<text class="t fg" x="1508.3" y="1163.4">STMVCC</text>
<text class="s fb" text-anchor="end" x="1040" y="1196.1">14</text>
<text class="s fb" x="1054" y="1210.1">PA4</text>
<text class="s fb" text-anchor="end" x="1166" y="1197.1">14</text>
<text class="s fb" x="1180" y="1210.1">14</text>
<text class="s fb" text-anchor="end" x="1323.4" y="1210.1">11</text>
<text class="s fb" x="1338" y="1197.1">11</text>
<text class="s fk" text-anchor="end" x="1448" y="1210.1">VSS_2</text>
<text class="s fk" x="1462" y="1196.1">35</text>
<path class="r" d="M1140 1199.1H1168"/>
<path class="r" d="M1334.2 1199.1H1362"/>
<path class="g" d="M1014 1199.1H1140"/>
<path class="g" d="M1362 1199.1H1613.6"/>
<circle class="j" cx="1487.5" cy="1199.1" r="7"/>
<text class="t fk" x="1508.3" y="1191.1">GND</text>
<text class="s fb" text-anchor="end" x="1040" y="1223.9">15</text>
<text class="s fb" x="1054" y="1237.9">PA5</text>
<text class="s fb" text-anchor="end" x="1166" y="1224.9">15</text>
<text class="s fb" x="1180" y="1237.9">15</text>
<text class="s fb" text-anchor="end" x="1323.4" y="1237.9">10</text>
<text class="s fb" x="1338" y="1224.9">10</text>
<text class="s fb" text-anchor="end" x="1448" y="1237.9">PA13</text>
<text class="s fb" x="1462" y="1223.9">34</text>
<path class="r" d="M1140 1226.9H1168"/>
<path class="r" d="M1334.2 1226.9H1362"/>
<path class="g" d="M1014 1226.9H1140"/>
<path class="g" d="M1362 1226.9H1488.3"/>
<text class="s fb" text-anchor="end" x="1040" y="1251.7">16</text>
<text class="s fb" x="1054" y="1265.7">PA6</text>
<text class="s fb" text-anchor="end" x="1166" y="1252.7">16</text>
<text class="s fb" x="1180" y="1265.7">16</text>
<text class="s fb" text-anchor="end" x="1323.4" y="1265.7">9</text>
<text class="s fb" x="1338" y="1252.7">9</text>
<text class="s fb" text-anchor="end" x="1448" y="1265.7">PA12</text>
<text class="s fb" x="1462" y="1251.7">33</text>
<path class="r" d="M1140 1254.7H1168"/>
<path class="r" d="M1334.2 1254.7H1362"/>
<path class="g" d="M1014 1254.7H1140"/>
<path class="g" d="M1362 1254.7H1488.3"/>
<text class="s fb" text-anchor="end" x="1040" y="1279.5">17</text>
<text class="s fb" x="1054" y="1293.5">PA7</text>
<text class="s fb" text-anchor="end" x="1166" y="1280.5">17</text>
<text class="s fb" x="1180" y="1293.5">17</text>
<text class="s fb" text-anchor="end" x="1323.4" y="1293.5">8</text>
<text class="s fb" x="1338" y="1280.5">8</text>
<text class="s fb" text-anchor="end" x="1448" y="1293.5">PA11</text>
<text class="s fb" x="1462" y="1279.5">32</text>
<path class="r" d="M1140 1282.5H1168"/>
<path class="r" d="M1334.2 1282.5H1362"/>
<path class="g" d="M1014 1282.5H1140"/>
<path class="g" d="M1362 1282.5H1488.3"/>
<text class="s fb" text-anchor="end" x="1040" y="1307.3">18</text>
<text class="s fb" x="1054" y="1321.3">PB0</text>
<text class="s fb" text-anchor="end" x="1166" y="1308.3">18</text>
<text class="s fb" x="1180" y="1321.3">18</text>
<text class="s fb" text-anchor="end" x="1323.4" y="1321.3">7</text>
<text class="s fb" x="1338" y="1308.3">7</text>
<text class="s fb" text-anchor="end" x="1448" y="1321.3">PA10</text>
<text class="s fb" x="1462" y="1307.3">31</text>
<path class="r" d="M1140 1310.3H1168"/>
<path class="r" d="M1334.2 1310.3H1362"/>
<path class="g" d="M1014 1310.3H1140"/>
<path class="g" d="M1362 1310.3H1488.3"/>
<text class="s fb" text-anchor="end" x="1040" y="1335">19</text>
<text class="s fb" x="1054" y="1349">PB1</text>
<text class="s fb" text-anchor="end" x="1166" y="1336">19</text>
<text class="s fb" x="1180" y="1349">19</text>
<text class="s fb" text-anchor="end" x="1323.4" y="1349">6</text>
<text class="s fb" x="1338" y="1336">6</text>
<text class="s fb" text-anchor="end" x="1448" y="1349">PA9</text>
<text class="s fb" x="1462" y="1335">30</text>
<path class="r" d="M1140 1338H1168"/>
<path class="r" d="M1334.2 1338H1362"/>
<path class="g" d="M1014 1338H1140"/>
<path class="g" d="M1362 1338H1488.3"/>
<text class="s fb" text-anchor="end" x="1040" y="1362.8">20</text>
<text class="s fb" x="1054" y="1376.8">PB2</text>
<text class="s fb" text-anchor="end" x="1166" y="1363.8">20</text>
<text class="s fb" x="1180" y="1376.8">20</text>
<text class="s fb" text-anchor="end" x="1323.4" y="1376.8">5</text>
<text class="s fb" x="1338" y="1363.8">5</text>
<text class="s fb" text-anchor="end" x="1448" y="1376.8">PA8</text>
<text class="s fb" x="1462" y="1362.8">29</text>
<path class="r" d="M1140 1365.8H1168"/>
<path class="r" d="M1334.2 1365.8H1362"/>
<path class="g" d="M1014 1365.8H1140"/>
<path class="g" d="M1362 1365.8H1488.3"/>
<text class="s fb" text-anchor="end" x="1040" y="1390.6">21</text>
<text class="s fb" x="1054" y="1404.6">PB10</text>
<text class="s fb" text-anchor="end" x="1166" y="1391.6">21</text>
<text class="s fb" x="1180" y="1404.6">21</text>
<text class="s fb" text-anchor="end" x="1323.4" y="1404.6">4</text>
<text class="s fb" x="1338" y="1391.6">4</text>
<text class="s fb" text-anchor="end" x="1448" y="1404.6">PB15</text>
<text class="s fb" x="1462" y="1390.6">28</text>
<path class="r" d="M1140 1393.6H1168"/>
<path class="r" d="M1334.2 1393.6H1362"/>
<path class="g" d="M1014 1393.6H1140"/>
<path class="g" d="M1362 1393.6H1488.3"/>
<text class="s fb" text-anchor="end" x="1040" y="1418.4">22</text>
<text class="s fb" x="1054" y="1432.4">PB11</text>
<text class="s fb" text-anchor="end" x="1166" y="1419.4">22</text>
<text class="s fb" x="1180" y="1432.4">22</text>
<text class="s fb" text-anchor="end" x="1323.4" y="1432.4">3</text>
<text class="s fb" x="1338" y="1419.4">3</text>
<text class="s fb" text-anchor="end" x="1448" y="1432.4">PB14</text>
<text class="s fb" x="1462" y="1418.4">27</text>
<path class="r" d="M1140 1421.4H1168"/>
<path class="r" d="M1334.2 1421.4H1362"/>
<path class="g" d="M1014 1421.4H1140"/>
<path class="g" d="M1362 1421.4H1488.3"/>
<text class="s fk" text-anchor="end" x="1040" y="1446.2">23</text>
<text class="s fk" x="1054" y="1460.2">VSS_1</text>
<text class="s fb" text-anchor="end" x="1166" y="1447.2">23</text>
<text class="s fb" x="1180" y="1460.2">23</text>
<text class="s fb" text-anchor="end" x="1323.4" y="1460.2">2</text>
<text class="s fb" x="1338" y="1447.2">2</text>
<text class="s fb" text-anchor="end" x="1448" y="1460.2">PB13</text>
<text class="s fb" x="1462" y="1446.2">26</text>
<path class="r" d="M1140 1449.2H1168"/>
<path class="r" d="M1334.2 1449.2H1362"/>
<path class="g" d="M887.5 1449.2H1140"/>
<circle class="j" cx="1015" cy="1449.2" r="7"/>
<text class="t fk" x="896.5" y="1441.2">GND</text>
<path class="g" d="M1362 1449.2H1488.3"/>
<text class="s fR" text-anchor="end" x="1040" y="1473.9">24</text>
<text class="s fR" x="1054" y="1487.9">VDD_1</text>
<text class="s fb" text-anchor="end" x="1166" y="1474.9">24</text>
<text class="s fb" x="1180" y="1487.9">24</text>
<text class="s fb" text-anchor="end" x="1323.4" y="1487.9">1</text>
<text class="s fb" x="1338" y="1474.9">1</text>
<text class="s fb" text-anchor="end" x="1448" y="1487.9">PB12</text>
<text class="s fb" x="1462" y="1473.9">25</text>
<path class="r" d="M1140 1476.9H1168"/>
<path class="r" d="M1334.2 1476.9H1362"/>
<path class="g" d="M887.5 1476.9H1140"/>
<circle class="j" cx="1015" cy="1476.9" r="7"/>
<text class="t fg" x="896.5" y="1468.9">STMVCC</text>
<path class="g" d="M1362 1476.9H1488.3"/>
<path class="g" d="M889 1060V1087.5"/>
<path class="k" d="M889 1087.5H903A14 14 0 0 1 931 1087.5H945"/>
<path class="g" d="M945 1087.5H1002.5"/>
<text class="t fg" x="951.5" y="1079">3V3</text>
<text class="s fn" x="897.5" y="1097.5">J23</text>
<path class="k" d="M431.5 1226.5H460"/>
<rect class="r" x="460" y="1215" width="56" height="22.5" style="fill:#fff"/>
<path class="k" d="M516 1226.5H542.5"/>
<path class="g" d="M542.5 1226.5H667.5"/>
<text class="s fn" text-anchor="middle" x="488" y="1235">10K</text>
<text class="s fn" x="465" y="1206">R42</text>
<text class="t fg" x="549" y="1219">STMVCC</text>
<path class="g" d="M431.5 1226.5V1282.5"/>
<path class="g" d="M431.5 1268.5H626.5"/>
<text class="t fb" x="437.5" y="1260">NRST32</text>
<path class="k" d="M431.5 1296.5H444.2A14 14 0 0 1 472.2 1296.5H485"/>
<path class="k" d="M431.5 1282.5V1296.5"/>
<path class="r" d="M485 1296.5H538.5"/>
<path class="r" d="M538.5 1273.5V1320"/>
<path class="r" d="M549 1273.5V1320"/>
<path class="r" d="M549 1296.5H600"/>
<path class="g" d="M600 1296.5H626.5V1324H556"/>
<text class="s fn" x="466" y="1289">100nF</text>
<text class="s fn" x="491" y="1316.5">C36</text>
<text class="s fn" x="439" y="1307.5">J28</text>
<text class="t fk" x="562.5" y="1316.5">GND</text>
<text class="d fb" style="font-size:13.8px" x="432.5" y="1336.5">Boot</text>
<circle class="j" cx="431.5" cy="1282.5" r="7"/>
<path class="g" d="M667.5 1226.5V1393.5"/>
<path class="g" d="M806.5 1226.5V1393.5"/>
<path class="g" d="M667.5 1226.5H695"/>
<path class="r" d="M695 1226.5H747.5"/>
<path class="r" d="M747.5 1203.5V1250"/>
<path class="r" d="M757.5 1203.5V1250"/>
<path class="r" d="M757.5 1226.5H806.5"/>
<text class="s fn" x="675" y="1219">100nF</text>
<text class="s fn" x="700" y="1247.5">C32</text>
<path class="g" d="M667.5 1282.5H695"/>
<path class="r" d="M695 1282.5H747.5"/>
<path class="r" d="M747.5 1259.5V1306"/>
<path class="r" d="M757.5 1259.5V1306"/>
<path class="r" d="M757.5 1282.5H806.5"/>
<text class="s fn" x="675" y="1275">100nF</text>
<text class="s fn" x="700" y="1303.5">C35</text>
<path class="g" d="M667.5 1338H695"/>
<path class="r" d="M695 1338H747.5"/>
<path class="r" d="M747.5 1315V1361.5"/>
<path class="r" d="M757.5 1315V1361.5"/>
<path class="r" d="M757.5 1338H806.5"/>
<text class="s fn" x="675" y="1330.5">100nF</text>
<text class="s fn" x="700" y="1359">C37</text>
<path class="g" d="M667.5 1393.5H695"/>
<path class="r" d="M695 1393.5H747.5"/>
<path class="r" d="M747.5 1370.5V1417"/>
<path class="r" d="M757.5 1370.5V1417"/>
<path class="r" d="M757.5 1393.5H806.5"/>
<text class="s fn" x="675" y="1386">100nF</text>
<text class="s fn" x="700" y="1414.5">C38</text>
<circle class="j" cx="667.5" cy="1226.5" r="7"/>
<circle class="j" cx="667.5" cy="1282.5" r="7"/>
<circle class="j" cx="667.5" cy="1338" r="7"/>
<circle class="j" cx="806.5" cy="1282.5" r="7"/>
<circle class="j" cx="806.5" cy="1338" r="7"/>
<text class="t fk" transform="translate(830 1285) rotate(-90)">GND</text>
<text class="t fg" x="437.5" y="1371.5">STMVCC</text>
<path class="g" d="M431.5 1379V1393.5H475"/>
<path class="k" d="M475 1393.5H500"/>
<rect class="r" x="500" y="1382.5" width="57.5" height="22.5" style="fill:#fff"/>
<path class="k" d="M557.5 1393.5H585"/>
<path class="r" d="M585 1393.5H599"/>
<text class="t fk" x="437.5" y="1413.5">GND</text>
<path class="g" d="M430 1421H475"/>
<path class="k" d="M475 1421H500"/>
<rect class="r" x="500" y="1410" width="57.5" height="22.5" style="fill:#fff"/>
<path class="k" d="M557.5 1421H585"/>
<path class="r" d="M585 1421H599"/>
<text class="s fn" text-anchor="middle" x="529" y="1402">10K</text>
<text class="s fn" text-anchor="middle" x="529" y="1429.5">10K</text>
<text class="s fn" x="547.5" y="1372.5">R50</text>
<text class="s fn" x="589" y="1386">JU5</text>
<text class="s fn" x="506" y="1456">R51</text>
<path class="k" d="M611.5 1421L625 1395" stroke-width="4.5"/>
<path class="r" d="M625 1393.5H637.5"/>
<path class="g" d="M637.5 1393.5H654V1449H556"/>
<text class="t fb" x="569" y="1443.5">BOOT0</text>
<rect class="r" x="1987.5" y="977.5" width="277.5" height="305" rx="9"/>
<text class="s fn" x="1986" y="970">U5</text>
<text class="s fn" x="2156.5" y="970">ESP-12S</text>
<text class="s fb" style="font-size:34.6px" x="2057.5" y="1266">ESP-12S</text>
<path class="g" d="M2126 905V922.5"/>
<path class="r" d="M2126 922.5V977.5"/>
<text class="s fb" transform="translate(2120 960) rotate(-90)">17</text>
<text class="t fk" transform="translate(2150 965) rotate(-90)">GND</text>
<text class="s fb" transform="translate(2136 1011) rotate(-90)">EP</text>
<rect class="r" x="2056.5" y="1005" width="56" height="250" rx="7"/>
<rect class="r" x="2126" y="1005" width="56.5" height="250" rx="7"/>
<text class="s fn" text-anchor="middle" transform="translate(2106 1132.5) rotate(-90)">ESPH1</text>
<text class="s fn" text-anchor="middle" transform="translate(2147.5 1132.5) rotate(-90)">ESPH2</text>
<text class="s fb" text-anchor="end" x="1972.5" y="1028.5">1</text>
<text class="s fb" x="1994" y="1042.5">RST</text>
<text class="s fk" x="2068.5" y="1043.5">1</text>
<text class="s fk" x="2156.5" y="1043.5">1</text>
<text class="s fb" text-anchor="end" x="2257.5" y="1042.5">TXD0</text>
<text class="s fb" x="2280" y="1028.5">16</text>
<path class="r" d="M1960 1032.5H1987.5"/>
<path class="r" d="M2265 1032.5H2292.5"/>
<path class="k" d="M2030 1032.5H2056.5"/>
<path class="k" d="M2182.5 1032.5H2210"/>
<text class="s fb" text-anchor="end" x="1972.5" y="1056.3">2</text>
<text class="s fb" x="1994" y="1070.3">ADC</text>
<text class="s fk" x="2068.5" y="1071.3">2</text>
<text class="s fk" x="2156.5" y="1071.3">2</text>
<text class="s fb" text-anchor="end" x="2257.5" y="1070.3">RXD0</text>
<text class="s fb" x="2280" y="1056.3">15</text>
<path class="r" d="M1960 1060.3H1987.5"/>
<path class="r" d="M2265 1060.3H2292.5"/>
<path class="k" d="M2030 1060.3H2056.5"/>
<path class="k" d="M2182.5 1060.3H2210"/>
<text class="s fb" text-anchor="end" x="1972.5" y="1084.1">3</text>
<text class="s fb" x="1994" y="1098.1">EN</text>
<text class="s fk" x="2068.5" y="1099.1">3</text>
<text class="s fk" x="2156.5" y="1099.1">3</text>
<text class="s fb" text-anchor="end" x="2257.5" y="1098.1">IO5</text>
<text class="s fb" x="2280" y="1084.1">14</text>
<path class="r" d="M1960 1088.1H1987.5"/>
<path class="r" d="M2265 1088.1H2292.5"/>
<path class="k" d="M2030 1088.1H2056.5"/>
<path class="k" d="M2182.5 1088.1H2210"/>
<text class="s fb" text-anchor="end" x="1972.5" y="1111.8">4</text>
<text class="s fb" x="1994" y="1125.8">IO16</text>
<text class="s fk" x="2068.5" y="1126.8">4</text>
<text class="s fk" x="2156.5" y="1126.8">4</text>
<text class="s fb" text-anchor="end" x="2257.5" y="1125.8">IO4</text>
<text class="s fb" x="2280" y="1111.8">13</text>
<path class="r" d="M1960 1115.8H1987.5"/>
<path class="r" d="M2265 1115.8H2292.5"/>
<path class="k" d="M2030 1115.8H2056.5"/>
<path class="k" d="M2182.5 1115.8H2210"/>
<text class="s fb" text-anchor="end" x="1972.5" y="1139.6">5</text>
<text class="s fb" x="1994" y="1153.6">IO14</text>
<text class="s fk" x="2068.5" y="1154.6">5</text>
<text class="s fk" x="2156.5" y="1154.6">5</text>
<text class="s fb" text-anchor="end" x="2257.5" y="1153.6">IO0</text>
<text class="s fb" x="2280" y="1139.6">12</text>
<path class="r" d="M1960 1143.6H1987.5"/>
<path class="r" d="M2265 1143.6H2292.5"/>
<path class="k" d="M2030 1143.6H2056.5"/>
<path class="k" d="M2182.5 1143.6H2210"/>
<text class="s fb" text-anchor="end" x="1972.5" y="1167.4">6</text>
<text class="s fb" x="1994" y="1181.4">IO12</text>
<text class="s fk" x="2068.5" y="1182.4">6</text>
<text class="s fk" x="2156.5" y="1182.4">6</text>
<text class="s fb" text-anchor="end" x="2257.5" y="1181.4">IO2</text>
<text class="s fb" x="2280" y="1167.4">11</text>
<path class="r" d="M1960 1171.4H1987.5"/>
<path class="r" d="M2265 1171.4H2292.5"/>
<path class="k" d="M2030 1171.4H2056.5"/>
<path class="k" d="M2182.5 1171.4H2210"/>
<text class="s fb" text-anchor="end" x="1972.5" y="1195.2">7</text>
<text class="s fb" x="1994" y="1209.2">IO13</text>
<text class="s fk" x="2068.5" y="1210.2">7</text>
<text class="s fk" x="2156.5" y="1210.2">7</text>
<text class="s fb" text-anchor="end" x="2257.5" y="1209.2">IO15</text>
<text class="s fb" x="2280" y="1195.2">10</text>
<path class="r" d="M1960 1199.2H1987.5"/>
<path class="r" d="M2265 1199.2H2292.5"/>
<path class="k" d="M2030 1199.2H2056.5"/>
<path class="k" d="M2182.5 1199.2H2210"/>
<text class="s fb" text-anchor="end" x="1972.5" y="1223">8</text>
<text class="s fb" x="1994" y="1237">VCC</text>
<text class="s fk" x="2068.5" y="1238">8</text>
<text class="s fk" x="2156.5" y="1238">8</text>
<text class="s fb" text-anchor="end" x="2257.5" y="1237">GND</text>
<text class="s fb" x="2280" y="1223">9</text>
<path class="r" d="M1960 1227H1987.5"/>
<path class="r" d="M2265 1227H2292.5"/>
<path class="k" d="M2030 1227H2056.5"/>
<path class="k" d="M2182.5 1227H2210"/>
<path class="g" d="M1847.5 1032.5H2030"/>
<text class="t fb" x="1855" y="1024">ESP_RST</text>
<path class="g" d="M1931.5 1060.3H2030"/>
<path class="g" d="M1931.5 1115.8H2030"/>
<path class="g" d="M1931.5 1143.6H2030"/>
<path class="g" d="M1931.5 1171.4H2030"/>
<path class="g" d="M1931.5 1199.2H2030"/>
<path class="g" d="M2030 1088.1H1849"/>
<path class="k" d="M1849 1088V1115"/>
<rect class="r" x="1837.5" y="1115" width="22.5" height="56.5" style="fill:#fff"/>
<path class="k" d="M1849 1171.5V1200"/>
<path class="g" d="M1849 1200V1282.5"/>
<text class="s fn" text-anchor="middle" transform="translate(1857.5 1143.5) rotate(-90)">10K</text>
<text class="s fn" transform="translate(1885 1165) rotate(-90)">R21</text>
<path class="g" d="M1849 1227H2030"/>
<path class="g" d="M1849 1254.5H1961"/>
<path class="k" d="M1849 1282.5H1861.8A14 14 0 0 1 1889.8 1282.5H1902.5"/>
<path class="g" d="M1902.5 1282.5H1961"/>
<text class="t fg" x="1855" y="1246.5">ESP_VCC</text>
<text class="t fg" x="1910" y="1274">3V3</text>
<text class="s fn" x="1857.5" y="1294">J6</text>
<circle class="j" cx="1931.5" cy="1032.5" r="7"/>
<circle class="j" cx="1931.5" cy="1088" r="7"/>
<circle class="j" cx="1849" cy="1227" r="7"/>
<circle class="j" cx="1931.5" cy="1227" r="7"/>
<circle class="j" cx="1849" cy="1254.5" r="7"/>
<path class="g" d="M2210 1088.1H2322.5"/>
<path class="g" d="M2210 1115.8H2322.5"/>
<path class="g" d="M2210 1143.6H2432.5"/>
<text class="t fb" x="2341.5" y="1135">ESP_IO0</text>
<path class="g" d="M2210 1171.4H2320"/>
<path class="k" d="M2320 1171.5H2348.5"/>
<rect class="r" x="2348.5" y="1160" width="56.5" height="22.5" style="fill:#fff"/>
<path class="k" d="M2405 1171.5H2432.5"/>
<path class="g" d="M2432.5 1171.5H2557.5"/>
<text class="s fn" text-anchor="middle" x="2376.5" y="1180">10K</text>
<text class="t fg" x="2439" y="1162.5">ESP_VCC</text>
<text class="s fn" x="2407.5" y="1192.5">R22</text>
<path class="g" d="M2210 1199.2H2320"/>
<path class="k" d="M2320 1199H2348.5"/>
<rect class="r" x="2348.5" y="1188.5" width="56.5" height="22.5" style="fill:#fff"/>
<path class="k" d="M2405 1199H2417.5"/>
<path class="g" d="M2417.5 1199H2488.5V1227H2210"/>
<text class="s fn" text-anchor="middle" x="2376.5" y="1208">10K</text>
<text class="t fk" x="2425" y="1217.5">GND</text>
<text class="s fn" x="2297.5" y="1220">R24</text>
<circle class="j" cx="2320" cy="1143.6" r="7"/>
<circle class="j" cx="2320" cy="1171.4" r="7"/>
<circle class="j" cx="2320" cy="1199.2" r="7"/>
<circle class="j" cx="2320" cy="1227" r="7"/>
<path class="g" d="M2210 1032.5V976.5H2557.5V1060H2432.5"/>
<path class="g" d="M2210 1060H2237.5V991H2543.5V1032.5H2432.5"/>
<path class="k" d="M2292.5 1032.5H2348.5"/>
<rect class="r" x="2348.5" y="1021.5" width="56.5" height="22.5" style="fill:#fff"/>
<path class="k" d="M2405 1032.5H2432.5"/>
<text class="s fn" text-anchor="middle" x="2376.5" y="1041.5">300R</text>
<text class="t fb" x="2439" y="1024">ESP_TX</text>
<text class="s fn" x="2354" y="1012.5">R16</text>
<path class="k" d="M2292.5 1060.2H2348.5"/>
<rect class="r" x="2348.5" y="1049.2" width="56.5" height="22.5" style="fill:#fff"/>
<path class="k" d="M2405 1060.2H2432.5"/>
<text class="s fn" text-anchor="middle" x="2376.5" y="1069.2">300R</text>
<text class="t fb" x="2439" y="1051.8">ESP_RX</text>
<text class="s fn" x="2354" y="1095">R17</text>
<text class="t fg" x="1841" y="1316">ESP_VCC</text>
<path class="g" d="M1834 1322.5V1337.5H1890"/>
<path class="k" d="M1890 1337.5H1917.5"/>
<rect class="r" x="1917.5" y="1326.5" width="57.5" height="22.5" style="fill:#fff"/>
<path class="k" d="M1975 1337.5H2001.5"/>
<path class="g" d="M2001.5 1337.5H2141.5"/>
<text class="s fn" text-anchor="middle" x="1946" y="1346">10K</text>
<text class="s fn" x="1950" y="1316">R26</text>
<text class="t fb" x="2007.5" y="1330">ESP_RST</text>
<text class="t fk" x="1854" y="1357.5">GND</text>
<path class="g" d="M1846.5 1365H1945"/>
<path class="k" d="M1945 1365H1959.2A14 14 0 0 1 1987.2 1365H2001.5"/>
<path class="g" d="M2001.5 1337.5V1365"/>
<text class="s fn" x="1961" y="1384">J7</text>
<text class="d fb" style="font-size:13.8px" x="1862.5" y="1379">Hand Reset</text>
<path class="r" d="M2001.5 1365H2051.5"/>
<path class="r" d="M2051.5 1342.5V1389"/>
<path class="r" d="M2061.5 1342.5V1389"/>
<path class="r" d="M2061.5 1365H2112.5"/>
<path class="g" d="M2112.5 1365H2141.5V1393.5H2070"/>
<text class="s fn" x="2063.5" y="1357.5">100nF</text>
<text class="s fn" x="2006" y="1386">C16</text>
<text class="t fk" x="2076" y="1385">GND</text>
<circle class="j" cx="2001.5" cy="1337.5" r="7"/>
<circle class="j" cx="2001.5" cy="1365" r="7"/>
<text class="t fb" x="2202.5" y="1330">ESP_IO0</text>
<path class="g" d="M2195 1337.5V1365H2225"/>
<path class="r" d="M2225 1365H2239"/>
<path class="k" d="M2239 1364L2255 1336" stroke-width="4.5"/>
<path class="r" d="M2265 1337.5H2280"/>
<path class="r" d="M2265 1365H2280"/>
<text class="s fn" x="2256.5" y="1359">JU1</text>
<path class="k" d="M2280 1337.5H2306"/>
<rect class="r" x="2306" y="1326.5" width="56.5" height="22.5" style="fill:#fff"/>
<path class="k" d="M2362.5 1337.5H2417.5"/>
<path class="g" d="M2417.5 1337.5H2543.5"/>
<text class="s fn" text-anchor="middle" x="2334" y="1346.5">10K</text>
<text class="s fn" x="2367.5" y="1330">R27</text>
<text class="t fg" x="2425" y="1330">ESP_VCC</text>
<path class="k" d="M2280 1365H2306"/>
<rect class="r" x="2306" y="1354" width="56.5" height="22.5" style="fill:#fff"/>
<path class="k" d="M2362.5 1365H2417.5"/>
<path class="g" d="M2417.5 1365H2488.5"/>
<text class="s fn" text-anchor="middle" x="2334" y="1374">10K</text>
<text class="s fn" x="2367.5" y="1357.5">R29</text>
<text class="t fk" x="2425" y="1357.5">GND</text>
<rect class="r" x="723.5" y="1630" width="139" height="138.5" rx="7"/>
<circle class="fr" cx="736.5" cy="1644" r="5"/>
<path class="r" d="M696 1658.5H723.5"/>
<text class="s fb" text-anchor="end" x="721" y="1653.5">1</text>
<text class="s fb" x="735" y="1668.5">RO</text>
<path class="r" d="M696 1686H723.5"/>
<text class="s fb" text-anchor="end" x="721" y="1681">2</text>
<text class="s fb" x="735" y="1696">#RE</text>
<path class="r" d="M696 1714H723.5"/>
<text class="s fb" text-anchor="end" x="721" y="1709">3</text>
<text class="s fb" x="735" y="1724">DE</text>
<path class="r" d="M696 1741.5H723.5"/>
<text class="s fb" text-anchor="end" x="721" y="1736.5">4</text>
<text class="s fb" x="735" y="1751.5">DI</text>
<path class="R" d="M862.5 1658.5H890"/>
<text class="s fR" text-anchor="end" x="851.5" y="1668.5">VCC</text>
<text class="s fR" x="865" y="1653.5">8</text>
<path class="r" d="M862.5 1686H890"/>
<text class="s fb" text-anchor="end" x="851.5" y="1696">B</text>
<text class="s fb" x="865" y="1681">7</text>
<path class="r" d="M862.5 1714H890"/>
<text class="s fb" text-anchor="end" x="851.5" y="1724">A</text>
<text class="s fb" x="865" y="1709">6</text>
<path class="k" d="M862.5 1741.5H890"/>
<text class="s fk" text-anchor="end" x="851.5" y="1751.5">GND</text>
<text class="s fk" x="865" y="1736.5">5</text>
<text class="s fn" x="727.5" y="1625">U12</text>
<text class="s fn" x="720" y="1791">SP3485EEN</text>
<path class="g" d="M431.5 1602.5V1547.5H890V1658.5"/>
<path class="r" d="M431.5 1602.5V1631L460 1649"/>
<path class="r" d="M460 1667.5L431.5 1685V1712.5"/>
<path class="r" d="M460 1632.5V1682.5" stroke-width="5"/>
<path class="r" d="M460 1658.5H487.5"/>
<polygon class="tr" points="460 1649 444 1648 452.5 1635"/>
<path class="g" d="M431.5 1712.5L696 1714"/>
<path class="k" d="M487.5 1658.5H514"/>
<rect class="r" x="514" y="1647.5" width="57.5" height="22.5" style="fill:#fff"/>
<path class="k" d="M571.5 1658.5H598.5"/>
<text class="s fn" text-anchor="middle" x="542.5" y="1667.5">10K</text>
<text class="s fn" x="519" y="1694">R57</text>
<text class="s fn" x="437.5" y="1707.5">U11</text>
<text class="s fn" transform="translate(427.5 1710) rotate(-90)">MMBT3906</text>
<path class="k" d="M598.5 1547.5V1575"/>
<rect class="r" x="587" y="1575" width="23" height="56" style="fill:#fff"/>
<path class="k" d="M598.5 1631V1658.5"/>
<text class="s fn" text-anchor="middle" transform="translate(607 1603) rotate(-90)">10K</text>
<text class="s fn" transform="translate(579.5 1625) rotate(-90)">R55</text>
<path class="k" d="M695 1547.5V1575"/>
<rect class="r" x="683.5" y="1575" width="23" height="56" style="fill:#fff"/>
<path class="k" d="M695 1631V1658.5"/>
<text class="s fn" text-anchor="middle" transform="translate(703.5 1603) rotate(-90)">10K</text>
<text class="s fn" transform="translate(676 1625) rotate(-90)">R56</text>
<path class="k" d="M640 1741.5V1769"/>
<rect class="r" x="628.5" y="1769" width="23" height="56" style="fill:#fff"/>
<path class="k" d="M640 1825V1852.5"/>
<text class="s fn" text-anchor="middle" transform="translate(648.5 1797) rotate(-90)">10K</text>
<text class="s fn" transform="translate(621 1819) rotate(-90)">R59</text>
<path class="k" d="M695 1741.5V1769"/>
<rect class="r" x="683.5" y="1769" width="23" height="56" style="fill:#fff"/>
<path class="k" d="M695 1825V1852.5"/>
<text class="s fn" text-anchor="middle" transform="translate(703.5 1797) rotate(-90)">10K</text>
<text class="s fn" transform="translate(676 1819) rotate(-90)">R60</text>
<path class="g" d="M598.5 1658.5H640"/>
<text class="t fb" x="605" y="1650">TX</text>
<path class="g" d="M652.5 1658.5H696"/>
<text class="t fb" x="661" y="1650">RX</text>
<path class="g" d="M696 1686V1714"/>
<path class="g" d="M652.5 1741.5H696"/>
<text class="t fb" x="661" y="1733.5">TX</text>
<path class="g" d="M640 1714V1741.5"/>
<path class="g" d="M640 1852.5H890V1741.5"/>
<text class="c fb" style="font-size:13.8px" x="711" y="1837.5">上拉不下拉</text>
<circle class="j" cx="598.5" cy="1547.5" r="7"/>
<circle class="j" cx="695" cy="1547.5" r="7"/>
<circle class="j" cx="598.5" cy="1658.5" r="7"/>
<circle class="j" cx="695" cy="1658.5" r="7"/>
<circle class="j" cx="640" cy="1714" r="7"/>
<circle class="j" cx="695" cy="1714" r="7"/>
<circle class="j" cx="695" cy="1741.5" r="7"/>
<circle class="j" cx="695" cy="1852.5" r="7"/>
<circle class="j" cx="890" cy="1658.5" r="7"/>
<circle class="j" cx="890" cy="1741.5" r="7"/>
<path class="g" d="M890 1658.5H986.5"/>
<path class="r" d="M986.5 1658.5V1706.5"/>
<path class="r" d="M962.5 1706.5H1010"/>
<path class="r" d="M962.5 1718.5H1010"/>
<path class="r" d="M986.5 1718.5V1768.5"/>
<path class="g" d="M986.5 1768.5H973.5V1741.5H890"/>
<path class="g" d="M890 1686H932.5"/>
<path class="g" d="M890 1714H932.5"/>
<text class="t fg" x="910" y="1650">STMVCC</text>
<text class="t fb" x="910" y="1677.5">B</text>
<text class="t fb" x="910" y="1706">A</text>
<text class="t fk" x="910" y="1733.5">GND</text>
<text class="s fn" x="1015" y="1721.5">C43</text>
<text class="s fn" x="1015" y="1746.5">100nF</text>
<rect class="r" x="445" y="1741" width="140" height="55.5" rx="7"/>
<text class="s fn" x="500" y="1762.5">H5</text>
<path class="k" d="M473.5 1796.5V1825"/>
<path class="g" d="M473.5 1825V1840"/>
<text class="s fk" transform="translate(482 1785) rotate(-90)">1</text>
<text class="t fb" transform="translate(467.5 1832.5) rotate(-90)">TX</text>
<path class="k" d="M501 1796.5V1825"/>
<path class="g" d="M501 1825V1840"/>
<text class="s fk" transform="translate(509.5 1785) rotate(-90)">2</text>
<text class="t fb" transform="translate(495 1832.5) rotate(-90)">RX</text>
<path class="k" d="M529 1796.5V1825"/>
<path class="g" d="M529 1825V1840"/>
<text class="s fk" transform="translate(537.5 1785) rotate(-90)">3</text>
<text class="t fb" transform="translate(523 1832.5) rotate(-90)">B</text>
<path class="k" d="M556.5 1796.5V1825"/>
<path class="g" d="M556.5 1825V1840"/>
<text class="s fk" transform="translate(565 1785) rotate(-90)">4</text>
<text class="t fb" transform="translate(550.5 1832.5) rotate(-90)">A</text>
<rect class="r" x="445" y="2102.5" width="71" height="139" style="fill:#f0f0f0"/>
<path class="r" d="M516 2116H570"/>
<text class="s fb" text-anchor="end" x="509" y="2125">V+</text>
<text class="s fb" x="530" y="2113">1</text>
<path class="r" d="M516 2144H570"/>
<text class="s fb" text-anchor="end" x="509" y="2153">D-</text>
<text class="s fb" x="530" y="2141">2</text>
<path class="r" d="M516 2171.5H570"/>
<text class="s fb" text-anchor="end" x="509" y="2180.5">D+</text>
<text class="s fb" x="530" y="2168.5">3</text>
<path class="r" d="M516 2199.5H570"/>
<text class="s fb" text-anchor="end" x="509" y="2208.5">ID</text>
<text class="s fb" x="530" y="2196.5">4</text>
<path class="r" d="M516 2227H570"/>
<text class="s fb" text-anchor="end" x="509" y="2236">V-</text>
<text class="s fb" x="530" y="2224">5</text>
<text class="s fn" x="432.5" y="2074">USB2</text>
<text class="s fn" x="436.5" y="2096.5">micro 5P</text>
<path class="g" d="M570 2116H640"/>
<path class="r" d="M640 2116H751"/>
<rect class="r" x="666.5" y="2105" width="57" height="21.5"/>
<path class="g" d="M751 2116V2075"/>
<path class="k" d="M751 2075V2047.5"/>
<path class="k" d="M736 2047.5H766" stroke-width="4"/>
<text class="t fl" style="font-size:32px" x="671" y="2037.5">AIR_VBUS</text>
<path class="g" d="M640 2116V2075H657.5"/>
<path class="k" d="M657.5 2075H668.5A14 14 0 0 1 696.5 2075H707.5"/>
<path class="g" d="M707.5 2075H751"/>
<text class="s fn" x="662.5" y="2084">J10</text>
<text class="s fn" x="707.5" y="2096">U8</text>
<text class="s fn" x="677.5" y="2151.5">TLC-NSMD100</text>
<circle class="j" cx="640" cy="2116" r="7"/>
<circle class="j" cx="751" cy="2075" r="7"/>
<path class="g" d="M570 2144H655"/>
<path class="g" d="M570 2171.5H655"/>
<text class="t fb" x="576.5" y="2136.5">DM_IN</text>
<text class="t fb" x="576.5" y="2164">DP_IN</text>
<path class="g" d="M570 2199.5V2269H473.5"/>
<path class="r" d="M473.5 2269V2241.5"/>
<path class="k" d="M570 2227H598.5"/>
<path class="k" d="M598.4 2201.8V2253.2"/>
<path class="k" d="M604.2 2210V2245"/>
<path class="k" d="M609.7 2217V2238"/>
<path class="k" d="M614.9 2224.5V2230.5"/>
<text class="t fk" style="font-size:32px" x="617.8" y="2238.5">GNDA</text>
<circle class="j" cx="570" cy="2227" r="7"/>
<path class="g" d="M890 2017.5V2089"/>
<path class="k" d="M890 2089V2116"/>
<rect class="r" x="878.5" y="2116" width="23" height="56.5" style="fill:#fff"/>
<path class="k" d="M890 2172.5V2197.5"/>
<path class="g" d="M890 2197.5V2325"/>
<text class="s fn" text-anchor="middle" transform="translate(898.5 2144) rotate(-90)">22R</text>
<text class="s fn" transform="translate(882.5 2220) rotate(-90)">R38</text>
<text class="t fb" transform="translate(913 2101.5) rotate(-90)">DM_IN</text>
<text class="t fb" transform="translate(913 2324) rotate(-90)">AIR_DM</text>
<path class="g" d="M917.5 2017.5V2089"/>
<path class="k" d="M917.5 2089V2116"/>
<rect class="r" x="906" y="2116" width="23" height="56.5" style="fill:#fff"/>
<path class="k" d="M917.5 2172.5V2197.5"/>
<path class="g" d="M917.5 2197.5V2325"/>
<text class="s fn" text-anchor="middle" transform="translate(926 2144) rotate(-90)">22R</text>
<text class="s fn" transform="translate(910 2220) rotate(-90)">R39</text>
<text class="t fb" transform="translate(940.5 2094) rotate(-90)">DP_IN</text>
<text class="t fb" transform="translate(940.5 2317.5) rotate(-90)">AIR_DP</text>
<text class="t fk" x="1090.2" y="2038.6">GNDA</text>
<path class="g" d="M1084.5 2047V2060.3H1111.9"/>
<path class="k" d="M1111.9 2060.3H1124.5A15 15 0 0 1 1154.5 2060.3H1167.1"/>
<path class="g" d="M1167.1 2060.3V2032.6H1322.6"/>
<text class="t fb" x="1174.4" y="2025.2">AIR_RST</text>
<path class="r" d="M1167.1 2060.3H1218.3"/>
<path class="r" d="M1218.3 2037.6V2083.7"/>
<path class="r" d="M1229 2037.6V2083.7"/>
<path class="r" d="M1229 2060.3H1280.8"/>
<path class="g" d="M1280.8 2060.3H1322.6V2088.1H1237.3"/>
<text class="s fn" x="1230.6" y="2055.3">100nF</text>
<text class="s fn" x="1172.1" y="2082.1">C20</text>
<text class="t fk" x="1242.3" y="2081.1">GNDA</text>
<text class="s fn" x="1119.3" y="2072">J9</text>
<text class="d fb" style="font-size:13.8px" x="1099.2" y="2101.5">Hand Reset</text>
<circle class="j" cx="1167.1" cy="2060.3" r="7"/>
<text class="t fk" x="1090.2" y="2177.7">GNDA</text>
<path class="g" d="M1084.5 2186.1V2199.5H1111.9"/>
<path class="k" d="M1111.9 2199.5H1124.5A15 15 0 0 1 1154.5 2199.5H1167.1"/>
<path class="g" d="M1167.1 2199.5V2171.7H1322.6"/>
<text class="t fb" x="1174.4" y="2164.3">AIR_PBINT</text>
<path class="r" d="M1167.1 2199.5H1218.3"/>
<path class="r" d="M1218.3 2176.7V2222.9"/>
<path class="r" d="M1229 2176.7V2222.9"/>
<path class="r" d="M1229 2199.5H1280.8"/>
<path class="g" d="M1280.8 2199.5H1322.6V2227.2H1237.3"/>
<text class="s fn" x="1230.6" y="2194.4">100nF</text>
<text class="s fn" x="1172.1" y="2221.2">C22</text>
<text class="t fk" x="1242.3" y="2220.2">GNDA</text>
<text class="s fn" x="1119.3" y="2211.2">J11</text>
<text class="d fb" style="font-size:13.8px" x="1099.2" y="2240.6">Hand TurnOn</text>
<circle class="j" cx="1167.1" cy="2199.5" r="7"/>
<path class="k" d="M1098.5 2310.5H1125.3"/>
<rect class="r" x="1125.3" y="2299.5" width="57.9" height="22.7" style="fill:#fff"/>
<path class="k" d="M1183.1 2310.5H1208.9"/>
<path class="g" d="M1208.9 2310.5H1322.6"/>
<text class="s fn" text-anchor="middle" x="1154" y="2319.5">4.7K</text>
<text class="s fn" x="1130.3" y="2291.1">R41</text>
<text class="t fg" x="1215.6" y="2303.8">AIR_1V8</text>
<path class="g" d="M1098.5 2310.5V2366.4"/>
<path class="g" d="M1098.5 2352H1322.6"/>
<text class="t fb" x="1160.4" y="2346.3">AIR_KEYIN0</text>
<path class="k" d="M1098.5 2366.4V2379.7"/>
<path class="k" d="M1098.5 2379.7H1112A15 15 0 0 1 1142 2379.7H1155.4"/>
<path class="r" d="M1155.4 2379.7H1203.9"/>
<path class="r" d="M1203.9 2356.3V2403.1"/>
<path class="r" d="M1214.9 2356.3V2403.1"/>
<path class="r" d="M1214.9 2379.7H1264.1"/>
<path class="g" d="M1264.1 2379.7H1322.6V2408.2H1222.3"/>
<text class="s fn" x="1216.3" y="2374.7">100nF</text>
<text class="s fn" x="1158.1" y="2401.5">C27</text>
<text class="t fk" x="1229" y="2399.8">GNDA</text>
<text class="s fn" x="1105.2" y="2391.4">J22</text>
<text class="d fb" style="font-size:13.8px" x="1099.2" y="2420.9">Boot</text>
<circle class="j" cx="1098.5" cy="2366.4" r="7"/>
<text class="t fg" transform="translate(1118.6 2583.7) rotate(-90)">AIR_VBAT</text>
<text class="t fk" transform="translate(1289.2 2583.7) rotate(-90)">GNDA</text>
<path class="g" d="M1126.3 2505.2V2590.4"/>
<path class="g" d="M1265.1 2505.2V2590.4"/>
<path class="r" d="M1176.1 2481.7V2612.2"/>
<path class="r" d="M1187.2 2481.7V2612.2"/>
<path class="g" d="M1126.3 2505.2H1140.3"/>
<path class="k" d="M1140.3 2505.2H1167.1"/>
<path class="r" d="M1167.1 2505.2H1176.1"/>
<path class="r" d="M1187.2 2505.2H1197.2"/>
<path class="k" d="M1197.2 2505.2H1222.3"/>
<path class="g" d="M1222.3 2505.2H1265.1"/>
<text class="s fn" x="1130.3" y="2498.5">C30</text>
<text class="s fn" x="1188.2" y="2498.5">100uF</text>
<path class="g" d="M1126.3 2533.9H1140.3"/>
<path class="k" d="M1140.3 2533.9H1167.1"/>
<path class="r" d="M1167.1 2533.9H1176.1"/>
<path class="r" d="M1187.2 2533.9H1197.2"/>
<path class="k" d="M1197.2 2533.9H1222.3"/>
<path class="g" d="M1222.3 2533.9H1265.1"/>
<text class="s fn" x="1130.3" y="2527.2">C31</text>
<text class="s fn" x="1188.2" y="2527.2">100nF</text>
<path class="g" d="M1126.3 2562H1140.3"/>
<path class="k" d="M1140.3 2562H1167.1"/>
<path class="r" d="M1167.1 2562H1176.1"/>
<path class="r" d="M1187.2 2562H1197.2"/>
<path class="k" d="M1197.2 2562H1222.3"/>
<path class="g" d="M1222.3 2562H1265.1"/>
<text class="s fn" x="1130.3" y="2555.3">C33</text>
<text class="s fn" x="1194.5" y="2555.3">33pF</text>
<path class="g" d="M1126.3 2590.4H1140.3"/>
<path class="k" d="M1140.3 2590.4H1167.1"/>
<path class="r" d="M1167.1 2590.4H1176.1"/>
<path class="r" d="M1187.2 2590.4H1197.2"/>
<path class="k" d="M1197.2 2590.4H1222.3"/>
<path class="g" d="M1222.3 2590.4H1265.1"/>
<text class="s fn" x="1130.3" y="2583.7">C34</text>
<text class="s fn" x="1194.5" y="2583.7">15pF</text>
<circle class="j" cx="1126.3" cy="2533.9" r="7"/>
<circle class="j" cx="1126.3" cy="2562" r="7"/>
<circle class="j" cx="1265.1" cy="2533.9" r="7"/>
<circle class="j" cx="1265.1" cy="2562" r="7"/>
<path class="g" d="M431.7 2451.4V2408.4H821.6V2451.4"/>
<path class="g" d="M625.9 2408.4V2451.4"/>
<circle class="j" cx="625.9" cy="2408.4" r="7"/>
<text class="t fg" x="633.4" y="2400.5">AIR_VBAT</text>
<path class="k" d="M431.7 2451.4V2491.2"/>
<polygon class="tr" points="413.4 2491.2 450 2491.2 431.7 2518.2"/>
<path class="r" d="M413.4 2519.8H450"/>
<path class="k" d="M431.7 2519.8V2589.8"/>
<rect class="r" x="419.8" y="2589.8" width="23.9" height="55.7" style="fill:#fff"/>
<path class="k" d="M431.7 2645.5V2672.2"/>
<text class="s fn" text-anchor="middle" transform="translate(440.5 2617.7) rotate(-90)">4.7K</text>
<text class="s fn" transform="translate(466.7 2638.4) rotate(-90)">R44</text>
<text class="s fn" transform="translate(482.6 2544.9) rotate(-90)">LEDB1</text>
<path class="r" d="M399.1 2499.1L380.8 2517"/>
<polygon class="tr" points="380.8 2517 384.9 2505.8 392.1 2513.1"/>
<path class="r" d="M409.8 2511.1L389.9 2531"/>
<polygon class="tr" points="389.9 2531 394 2519.7 401.2 2526.9"/>
<path class="r" d="M431.7 2672.2V2694.1L459.6 2717.9"/>
<path class="r" d="M460.8 2702.8V2753.7" stroke-width="5"/>
<path class="r" d="M460.8 2739.8L431.7 2757.7V2783.6"/>
<path class="r" d="M460.8 2727.9H485.4"/>
<polygon class="tr" points="432.9 2756.9 447.6 2754.9 440.5 2742.6"/>
<path class="g" d="M485.4 2727.9H542.3"/>
<path class="g" d="M542.3 2421.6V2618.5"/>
<path class="k" d="M542.3 2618.5V2644.3"/>
<rect class="r" x="531.2" y="2644.3" width="23.1" height="56.9" style="fill:#fff"/>
<path class="k" d="M542.3 2701.2V2727.9"/>
<text class="s fn" text-anchor="middle" transform="translate(551.1 2672.6) rotate(-90)">10K</text>
<text class="s fn" transform="translate(522.4 2694.1) rotate(-90)">R47</text>
<text class="t fb" transform="translate(537.1 2610.5) rotate(-90)">AIR_NETMODE</text>
<path class="g" d="M542.3 2727.9V2783.6"/>
<path class="k" d="M542.3 2783.6H516.5"/>
<rect class="r" x="459.6" y="2772.8" width="56.9" height="21.9" style="fill:#fff"/>
<path class="k" d="M459.6 2783.6H431.7"/>
<text class="s fn" text-anchor="middle" x="487.8" y="2792.3">1M</text>
<text class="s fn" x="465.5" y="2763.7">R52</text>
<path class="g" d="M431.7 2783.6V2825.4H544.3"/>
<text class="t fk" x="465.5" y="2817.4">GNDA</text>
<text class="s fn" transform="translate(397.9 2743.8) rotate(-90)">Q2</text>
<text class="s fn" transform="translate(427.7 2793.5) rotate(-90)">MMBT3904</text>
<circle class="j" cx="542.3" cy="2727.9" r="7"/>
<circle class="j" cx="431.7" cy="2783.6" r="7"/>
<path class="k" d="M625.9 2451.4V2491.2"/>
<polygon class="tr" points="607.6 2491.2 644.2 2491.2 625.9 2518.2"/>
<path class="r" d="M607.6 2519.8H644.2"/>
<path class="k" d="M625.9 2519.8V2589.8"/>
<rect class="r" x="613.9" y="2589.8" width="23.9" height="55.7" style="fill:#fff"/>
<path class="k" d="M625.9 2645.5V2672.2"/>
<text class="s fn" text-anchor="middle" transform="translate(634.6 2617.7) rotate(-90)">4.7K</text>
<text class="s fn" transform="translate(660.9 2638.4) rotate(-90)">R45</text>
<text class="s fn" transform="translate(703.8 2544.9) rotate(-90)">LEDG1</text>
<path class="r" d="M658.5 2499.1L679.6 2517"/>
<polygon class="tr" points="679.6 2517 668 2513.9 674.6 2506.2"/>
<path class="r" d="M647.7 2511.1L667.6 2530.2"/>
<polygon class="tr" points="667.6 2530.2 656.3 2526.4 663.4 2519"/>
<path class="r" d="M625.9 2672.2V2694.1L653.7 2717.9"/>
<path class="r" d="M654.9 2702.8V2753.7" stroke-width="5"/>
<path class="r" d="M654.9 2739.8L625.9 2757.7V2783.6"/>
<path class="r" d="M654.9 2727.9H679.6"/>
<polygon class="tr" points="627.1 2756.9 641.8 2754.9 634.6 2742.6"/>
<path class="g" d="M679.6 2727.9H736.5"/>
<path class="g" d="M736.5 2421.6V2618.5"/>
<path class="k" d="M736.5 2618.5V2644.3"/>
<rect class="r" x="725.3" y="2644.3" width="23.1" height="56.9" style="fill:#fff"/>
<path class="k" d="M736.5 2701.2V2727.9"/>
<text class="s fn" text-anchor="middle" transform="translate(745.2 2672.6) rotate(-90)">10K</text>
<text class="s fn" transform="translate(716.6 2694.1) rotate(-90)">R48</text>
<text class="t fb" transform="translate(731.3 2610.5) rotate(-90)">AIR_NETSTAT</text>
<path class="g" d="M736.5 2727.9V2783.6"/>
<path class="k" d="M736.5 2783.6H710.6"/>
<rect class="r" x="653.7" y="2772.8" width="56.9" height="21.9" style="fill:#fff"/>
<path class="k" d="M653.7 2783.6H625.9"/>
<text class="s fn" text-anchor="middle" x="682" y="2792.3">1M</text>
<text class="s fn" x="659.7" y="2763.7">R53</text>
<path class="g" d="M625.9 2783.6V2825.4H738.5"/>
<text class="t fk" x="659.7" y="2817.4">GNDA</text>
<text class="s fn" transform="translate(592 2743.8) rotate(-90)">Q3</text>
<text class="s fn" transform="translate(621.9 2793.5) rotate(-90)">MMBT3904</text>
<circle class="j" cx="736.5" cy="2727.9" r="7"/>
<circle class="j" cx="625.9" cy="2783.6" r="7"/>
<path class="k" d="M820.8 2451.4V2491.2"/>
<polygon class="tr" points="802.5 2491.2 839.1 2491.2 820.8 2518.2"/>
<path class="r" d="M802.5 2519.8H839.1"/>
<path class="k" d="M820.8 2519.8V2589.8"/>
<rect class="r" x="808.9" y="2589.8" width="23.9" height="55.7" style="fill:#fff"/>
<path class="k" d="M820.8 2645.5V2672.2"/>
<text class="s fn" text-anchor="middle" transform="translate(829.6 2617.7) rotate(-90)">4.7K</text>
<text class="s fn" transform="translate(855.8 2638.4) rotate(-90)">R46</text>
<text class="s fn" transform="translate(898.8 2544.9) rotate(-90)">LEDR1</text>
<path class="r" d="M853.4 2499.1L874.5 2517"/>
<polygon class="tr" points="874.5 2517 863 2513.9 869.6 2506.2"/>
<path class="r" d="M842.7 2511.1L862.6 2530.2"/>
<polygon class="tr" points="862.6 2530.2 851.3 2526.4 858.3 2519"/>
<path class="r" d="M820.8 2672.2V2694.1L848.7 2717.9"/>
<path class="r" d="M849.8 2702.8V2753.7" stroke-width="5"/>
<path class="r" d="M849.8 2739.8L820.8 2757.7V2783.6"/>
<path class="r" d="M849.8 2727.9H874.5"/>
<polygon class="tr" points="822 2756.9 836.7 2754.9 829.6 2742.6"/>
<path class="g" d="M874.5 2727.9H931.4"/>
<path class="g" d="M931.4 2421.6V2618.5"/>
<path class="k" d="M931.4 2618.5V2644.3"/>
<rect class="r" x="920.3" y="2644.3" width="23.1" height="56.9" style="fill:#fff"/>
<path class="k" d="M931.4 2701.2V2727.9"/>
<text class="s fn" text-anchor="middle" transform="translate(940.2 2672.6) rotate(-90)">10K</text>
<text class="s fn" transform="translate(911.5 2694.1) rotate(-90)">R49</text>
<text class="t fb" transform="translate(926.2 2610.5) rotate(-90)">AIR_SYSSTAT</text>
<path class="g" d="M931.4 2727.9V2783.6"/>
<path class="k" d="M931.4 2783.6H905.5"/>
<rect class="r" x="848.7" y="2772.8" width="56.9" height="21.9" style="fill:#fff"/>
<path class="k" d="M848.7 2783.6H820.8"/>
<text class="s fn" text-anchor="middle" x="876.9" y="2792.3">1M</text>
<text class="s fn" x="854.6" y="2763.7">R54</text>
<path class="g" d="M820.8 2783.6V2825.4H933.4"/>
<text class="t fk" x="854.6" y="2817.4">GNDA</text>
<text class="s fn" transform="translate(787 2743.8) rotate(-90)">Q4</text>
<text class="s fn" transform="translate(816.8 2793.5) rotate(-90)">MMBT3904</text>
<circle class="j" cx="931.4" cy="2727.9" r="7"/>
<circle class="j" cx="820.8" cy="2783.6" r="7"/>
<path class="g" d="M931.8 2617.3H958.9"/>
<circle class="j" cx="931.8" cy="2617.3" r="7"/>
<path class="k" d="M958.9 2617.3V2590.6"/>
<rect class="r" x="948.1" y="2533.7" width="23.5" height="56.9" style="fill:#fff"/>
<path class="k" d="M958.9 2533.7V2505.1"/>
<path class="g" d="M958.9 2505.1V2393.7"/>
<text class="s fn" text-anchor="middle" transform="translate(968 2562) rotate(-90)">4.7K</text>
<text class="s fn" transform="translate(994.7 2584.7) rotate(-90)">R43</text>
<text class="t fb" transform="translate(952.9 2495.2) rotate(-90)">AIR_1V8</text>
<rect class="r" x="348.5" y="2951" width="56.5" height="194" rx="7"/>
<text class="s fn" text-anchor="middle" transform="translate(371 3050) rotate(-90)">SIMH1</text>
<path class="k" d="M405 2978.5H432.5"/>
<path class="g" d="M432.5 2978.5H557.5"/>
<text class="s fk" x="375" y="2988.5">1</text>
<text class="t fb" x="439" y="2971">SIM_CLK</text>
<path class="k" d="M405 3006H432.5"/>
<path class="g" d="M432.5 3006H557.5"/>
<text class="s fk" x="375" y="3016">2</text>
<text class="t fb" x="439" y="2998.5">SIM_IO</text>
<path class="k" d="M405 3034H432.5"/>
<path class="g" d="M432.5 3034H557.5"/>
<text class="s fk" x="375" y="3044">3</text>
<text class="t fb" x="439" y="3026.5">SIM_RST</text>
<path class="k" d="M405 3061.5H432.5"/>
<path class="g" d="M432.5 3061.5H557.5"/>
<text class="s fk" x="375" y="3071.5">4</text>
<text class="t fb" x="439" y="3054">SIM_VPP</text>
<path class="k" d="M405 3089.5H432.5"/>
<path class="g" d="M432.5 3089.5H557.5"/>
<text class="s fk" x="375" y="3099.5">5</text>
<text class="t fg" x="439" y="3082">SIM_VCC</text>
<path class="k" d="M405 3117.5H432.5"/>
<path class="g" d="M432.5 3117.5H557.5"/>
<text class="s fk" x="375" y="3127.5">6</text>
<text class="t fk" x="439" y="3110">GNDA</text>
<rect class="r" x="571.5" y="2951" width="97" height="194" rx="7"/>
<circle class="fr" cx="653.5" cy="3131" r="5"/>
<text class="s fn" text-anchor="middle" transform="translate(593.5 3050) rotate(-90)">SIM1</text>
<text class="s fb" transform="translate(593.5 2971) rotate(-90)">7</text>
<text class="s fb" transform="translate(593.5 3132.5) rotate(-90)">8</text>
<text class="s fb" text-anchor="end" x="657.5" y="2988.5">IO</text>
<text class="s fb" x="670" y="2976">C6</text>
<path class="r" d="M668.5 2978.5H696"/>
<text class="s fb" text-anchor="end" x="657.5" y="3016">CLK</text>
<text class="s fb" x="670" y="3003.5">C5</text>
<path class="r" d="M668.5 3006H696"/>
<text class="s fR" text-anchor="end" x="657.5" y="3044">VPP</text>
<text class="s fR" x="670" y="3031.5">C4</text>
<path class="R" d="M668.5 3034H696"/>
<text class="s fb" text-anchor="end" x="657.5" y="3071.5">RST</text>
<text class="s fb" x="670" y="3059">C3</text>
<path class="r" d="M668.5 3061.5H696"/>
<text class="s fk" text-anchor="end" x="657.5" y="3099.5">GND</text>
<text class="s fk" x="670" y="3087">C2</text>
<path class="k" d="M668.5 3089.5H696"/>
<text class="s fR" text-anchor="end" x="657.5" y="3127.5">VCC</text>
<text class="s fR" x="670" y="3115">C1</text>
<path class="R" d="M668.5 3117.5H696"/>
<path class="r" d="M585 2951V2923.5"/>
<path class="g" d="M585 2923.5H959V3117.5"/>
<text class="s fb" transform="translate(578.5 2946) rotate(-90)">7</text>
<text class="t fk" x="590" y="2946">GNDA</text>
<path class="r" d="M585 3145V3172.5"/>
<path class="g" d="M585 3172.5H668.5"/>
<text class="s fb" transform="translate(578.5 3160) rotate(-90)">8</text>
<text class="t fk" x="590" y="3165">GNDA</text>
<text class="t fb" x="716.5" y="2971">SIM_IO</text>
<text class="t fb" x="716.5" y="2998.5">SIM_CLK</text>
<text class="t fb" x="716.5" y="3026.5">SIM_VPP</text>
<text class="t fb" x="716.5" y="3054">SIM_RST</text>
<text class="t fk" x="716.5" y="3082">GNDA</text>
<text class="t fg" x="716.5" y="3110">SIM_VCC</text>
<path class="g" d="M696 2978.5H850"/>
<path class="g" d="M696 3006H850"/>
<path class="g" d="M696 3061.5H850"/>
<path class="g" d="M696 3117.5H850"/>
<path class="g" d="M696 3034H850"/>
<path class="g" d="M696 3089.5H794"/>
<path class="k" d="M850 2978.5H875"/>
<path class="r" d="M875 2978.5H885"/>
<path class="r" d="M896 2978.5H906"/>
<path class="k" d="M906 2978.5H930"/>
<path class="g" d="M930 2978.5H959"/>
<text class="s fn" x="839" y="2972.5">C39</text>
<text class="s fn" x="901.5" y="2972.5">33pF</text>
<path class="k" d="M850 3006H875"/>
<path class="r" d="M875 3006H885"/>
<path class="r" d="M896 3006H906"/>
<path class="k" d="M906 3006H930"/>
<path class="g" d="M930 3006H959"/>
<text class="s fn" x="839" y="3000">C41</text>
<text class="s fn" x="901.5" y="3000">33pF</text>
<path class="k" d="M850 3061.5H875"/>
<path class="r" d="M875 3061.5H885"/>
<path class="r" d="M896 3061.5H906"/>
<path class="k" d="M906 3061.5H930"/>
<path class="g" d="M930 3061.5H959"/>
<text class="s fn" x="839" y="3055.5">C46</text>
<text class="s fn" x="901.5" y="3055.5">33pF</text>
<path class="k" d="M850 3117.5H875"/>
<path class="r" d="M875 3117.5H885"/>
<path class="r" d="M896 3117.5H906"/>
<path class="k" d="M906 3117.5H930"/>
<path class="g" d="M930 3117.5H959"/>
<text class="s fn" x="839" y="3111.5">C48</text>
<text class="s fn" x="901.5" y="3111.5">33pF</text>
<path class="g" d="M834 3117.5V3089.5"/>
<path class="r" d="M834 3089.5H885"/>
<path class="r" d="M896 3089.5H944"/>
<path class="g" d="M944 3089.5H959"/>
<text class="s fn" x="839" y="3083.5">C47</text>
<text class="s fn" x="901.5" y="3083.5">10uF</text>
<path class="r" d="M885 2955V3030"/>
<path class="r" d="M885 3037.5V3140"/>
<path class="r" d="M896 2955V3030"/>
<path class="r" d="M896 3037.5V3140"/>
<circle class="j" cx="959" cy="2978.5" r="7"/>
<circle class="j" cx="959" cy="3006" r="7"/>
<circle class="j" cx="959" cy="3061.5" r="7"/>
<circle class="j" cx="959" cy="3089.5" r="7"/>
<circle class="j" cx="696" cy="3117.5" r="7"/>
<circle class="j" cx="834" cy="3117.5" r="7"/>
<path class="g" d="M696 3117.5V3145"/>
<path class="k" d="M696 3145H723.5"/>
<rect class="r" x="723.5" y="3134" width="56.5" height="22.5" style="fill:#fff"/>
<path class="k" d="M780 3145H806"/>
<path class="g" d="M806 3145V3172.5H905"/>
<text class="s fn" text-anchor="middle" x="751.5" y="3154">10K</text>
<text class="t fb" x="814" y="3166">SIM_IO</text>
<text class="s fn" x="727.5" y="3180">R61</text>
<rect class="r" x="1084.6" y="2658.6" width="55.8" height="250.8" rx="7"/>
<text class="s fn" text-anchor="middle" transform="translate(1107.8 2785.8) rotate(-90)">LCDH2</text>
<path class="k" d="M1140.4 2686.9H1166.6"/>
<path class="g" d="M1166.6 2686.9H1321.8"/>
<text class="s fk" x="1114.7" y="2697.5">1</text>
<text class="t fk" x="1187.7" y="2679.4">GNDA</text>
<path class="k" d="M1140.4 2714.7H1166.6"/>
<path class="g" d="M1166.6 2714.7H1321.8"/>
<text class="s fk" x="1114.7" y="2725.2">2</text>
<text class="t fg" x="1187.7" y="2707.2">AIR_VLCD</text>
<path class="k" d="M1140.4 2742.5H1166.6"/>
<path class="g" d="M1166.6 2742.5H1321.8"/>
<text class="s fk" x="1114.7" y="2753">3</text>
<text class="t fb" x="1187.7" y="2734.9">LCD_DATA</text>
<path class="k" d="M1140.4 2770.3H1166.6"/>
<path class="g" d="M1166.6 2770.3H1321.8"/>
<text class="s fk" x="1114.7" y="2780.8">4</text>
<text class="t fb" x="1187.7" y="2762.7">LCD_CLK</text>
<path class="k" d="M1140.4 2798.1H1166.6"/>
<path class="g" d="M1166.6 2798.1H1321.8"/>
<text class="s fk" x="1114.7" y="2808.6">5</text>
<text class="t fb" x="1187.7" y="2790.5">LCD_CS</text>
<path class="k" d="M1140.4 2825.8H1166.6"/>
<path class="g" d="M1166.6 2825.8H1321.8"/>
<text class="s fk" x="1114.7" y="2836.4">6</text>
<text class="t fb" x="1187.7" y="2818.3">LCD_RST</text>
<path class="k" d="M1140.4 2853.6H1166.6"/>
<path class="g" d="M1166.6 2853.6H1321.8"/>
<text class="s fk" x="1114.7" y="2864.2">7</text>
<text class="t fb" x="1187.7" y="2846.1">LCD_DC</text>
<path class="k" d="M1140.4 2881.4H1166.6"/>
<path class="g" d="M1166.6 2881.4H1321.8"/>
<text class="s fk" x="1114.7" y="2892">8</text>
<text class="t fg" x="1187.7" y="2873.9">AIR_VBAT</text>
<text class="s fn" x="1054.5" y="2973.2">MIC1</text>
<rect class="r" x="1056.6" y="2979.3" width="56.4" height="82.3" rx="7"/>
<text class="s fk" x="1084.6" y="3015.4">2</text>
<path class="k" d="M1112.9 3005.8H1138.9"/>
<path class="g" d="M1138.9 3005.8H1235.9"/>
<path class="k" d="M1235.9 3005.8H1264.5"/>
<path class="r" d="M1264.5 3005.8H1273.6"/>
<path class="r" d="M1284.1 3005.8H1294.7"/>
<path class="k" d="M1294.7 3005.8H1320.3"/>
<path class="g" d="M1320.3 3005.8H1348.9"/>
<text class="t fb" x="1160.6" y="2999.1">MIC+</text>
<text class="s fn" x="1228.4" y="2999.1">C42</text>
<text class="s fn" x="1291.7" y="2999.1">33pF</text>
<text class="s fk" x="1084.6" y="3043.4">1</text>
<path class="k" d="M1112.9 3033.8H1138.9"/>
<path class="g" d="M1138.9 3033.8H1235.9"/>
<path class="k" d="M1235.9 3033.8H1264.5"/>
<path class="r" d="M1264.5 3033.8H1273.6"/>
<path class="r" d="M1284.1 3033.8H1294.7"/>
<path class="k" d="M1294.7 3033.8H1320.3"/>
<path class="g" d="M1320.3 3033.8H1348.9"/>
<text class="t fb" x="1160.6" y="3027.2">MIC-</text>
<text class="s fn" x="1228.4" y="3027.2">C45</text>
<text class="s fn" x="1291.7" y="3027.2">33pF</text>
<path class="r" d="M1273.6 2983.2V3057"/>
<path class="r" d="M1284.1 2983.2V3057"/>
<text class="s fn" x="1054.5" y="3084.1">SPK1</text>
<rect class="r" x="1056.6" y="3090.2" width="56.4" height="82.3" rx="7"/>
<text class="s fk" x="1084.6" y="3126.9">2</text>
<path class="k" d="M1112.9 3117.3H1138.9"/>
<path class="g" d="M1138.9 3117.3H1235.9"/>
<path class="k" d="M1235.9 3117.3H1264.5"/>
<path class="r" d="M1264.5 3117.3H1273.6"/>
<path class="r" d="M1284.1 3117.3H1294.7"/>
<path class="k" d="M1294.7 3117.3H1320.3"/>
<path class="g" d="M1320.3 3117.3H1348.9"/>
<text class="t fb" x="1160.6" y="3110.7">SPK+</text>
<text class="s fn" x="1228.4" y="3110.7">C49</text>
<text class="s fn" x="1291.7" y="3110.7">33pF</text>
<text class="s fk" x="1084.6" y="3155">1</text>
<path class="k" d="M1112.9 3145.3H1138.9"/>
<path class="g" d="M1138.9 3145.3H1235.9"/>
<path class="k" d="M1235.9 3145.3H1264.5"/>
<path class="r" d="M1264.5 3145.3H1273.6"/>
<path class="r" d="M1284.1 3145.3H1294.7"/>
<path class="k" d="M1294.7 3145.3H1320.3"/>
<path class="g" d="M1320.3 3145.3H1348.9"/>
<text class="t fb" x="1160.6" y="3138.7">SPK-</text>
<text class="s fn" x="1228.4" y="3138.7">C52</text>
<text class="s fn" x="1291.7" y="3138.7">33pF</text>
<path class="r" d="M1273.6 3094.1V3167.9"/>
<path class="r" d="M1284.1 3094.1V3167.9"/>
<path class="g" d="M1348.9 3005.8V3145.3"/>
<path class="g" d="M1278.1 3061.5H1348.9"/>
<text class="t fk" x="1271.5" y="3085.6">GNDA</text>
<circle class="j" cx="1348.9" cy="3033.8" r="7"/>
<circle class="j" cx="1348.9" cy="3061.5" r="7"/>
<circle class="j" cx="1348.9" cy="3117.3" r="7"/>
<text class="d fR" style="font-size:13.8px" x="1168.1" y="3075.1">Public</text>
<text class="d fb" style="font-size:13.8px" x="1182.3" y="3158.6">No Use Cap</text>
<rect class="r" x="361.5" y="3519" width="765" height="126" rx="7"/>
<circle class="fr" cx="371" cy="3529" r="5"/>
<text class="s fn" x="440" y="3612.5">CAM2</text>
<text class="s fb" transform="translate(386 3516) rotate(-90)">1</text>
<text class="s fb" text-anchor="end" transform="translate(399 3530) rotate(-90)">D2</text>
<path class="r" d="M390 3519V3492.5"/>
<path class="g" d="M390 3492.5V3282.5"/>
<text class="t fb" transform="translate(383.5 3470) rotate(-90)">CAM2_SI0</text>
<text class="s fb" transform="translate(413.8 3516) rotate(-90)">2</text>
<text class="s fb" text-anchor="end" transform="translate(426.8 3530) rotate(-90)">D3</text>
<path class="r" d="M417.8 3519V3492.5"/>
<path class="g" d="M417.8 3492.5V3282.5"/>
<text class="t fb" transform="translate(411.3 3470) rotate(-90)">CAM2_SI1</text>
<text class="s fb" transform="translate(441.6 3516) rotate(-90)">3</text>
<text class="s fb" text-anchor="end" transform="translate(454.6 3530) rotate(-90)">D6</text>
<path class="r" d="M445.6 3519V3492.5"/>
<path class="G" d="M434.6 3480.5L456.6 3502.5"/>
<path class="G" d="M434.6 3502.5L456.6 3480.5"/>
<text class="s fb" transform="translate(469.3 3516) rotate(-90)">4</text>
<text class="s fb" text-anchor="end" transform="translate(482.3 3530) rotate(-90)">D5</text>
<path class="r" d="M473.3 3519V3492.5"/>
<path class="G" d="M462.3 3480.5L484.3 3502.5"/>
<path class="G" d="M462.3 3502.5L484.3 3480.5"/>
<text class="s fb" transform="translate(497.1 3516) rotate(-90)">5</text>
<text class="s fb" text-anchor="end" transform="translate(510.1 3530) rotate(-90)">D7</text>
<path class="r" d="M501.1 3519V3492.5"/>
<path class="G" d="M490.1 3480.5L512.1 3502.5"/>
<path class="G" d="M490.1 3502.5L512.1 3480.5"/>
<text class="s fb" transform="translate(524.9 3516) rotate(-90)">6</text>
<text class="s fb" text-anchor="end" transform="translate(537.9 3530) rotate(-90)">D4</text>
<path class="r" d="M528.9 3519V3492.5"/>
<path class="G" d="M517.9 3480.5L539.9 3502.5"/>
<path class="G" d="M517.9 3502.5L539.9 3480.5"/>
<text class="s fb" transform="translate(552.7 3516) rotate(-90)">7</text>
<text class="s fb" text-anchor="end" transform="translate(565.7 3530) rotate(-90)">D8</text>
<path class="r" d="M556.7 3519V3492.5"/>
<path class="G" d="M545.7 3480.5L567.7 3502.5"/>
<path class="G" d="M545.7 3502.5L567.7 3480.5"/>
<text class="s fb" transform="translate(580.5 3516) rotate(-90)">8</text>
<text class="s fb" text-anchor="end" transform="translate(593.5 3530) rotate(-90)">PCLK</text>
<path class="r" d="M584.5 3519V3492.5"/>
<path class="g" d="M584.5 3492.5V3282.5"/>
<text class="t fb" transform="translate(578 3470) rotate(-90)">CAM2_SCK</text>
<text class="s fb" transform="translate(608.2 3516) rotate(-90)">9</text>
<text class="s fb" text-anchor="end" transform="translate(621.2 3530) rotate(-90)">D9</text>
<path class="r" d="M612.2 3519V3492.5"/>
<path class="G" d="M601.2 3480.5L623.2 3502.5"/>
<path class="G" d="M601.2 3502.5L623.2 3480.5"/>
<text class="s fb" transform="translate(636 3516) rotate(-90)">10</text>
<text class="s fb" text-anchor="end" transform="translate(649 3530) rotate(-90)">DGND</text>
<path class="r" d="M640 3519V3492.5"/>
<path class="g" d="M640 3492.5V3282.5"/>
<text class="t fk" transform="translate(633.5 3470) rotate(-90)">GNDA</text>
<text class="s fb" transform="translate(663.8 3516) rotate(-90)">11</text>
<text class="s fb" text-anchor="end" transform="translate(676.8 3530) rotate(-90)">NC</text>
<path class="r" d="M667.8 3519V3492.5"/>
<path class="G" d="M656.8 3480.5L678.8 3502.5"/>
<path class="G" d="M656.8 3502.5L678.8 3480.5"/>
<text class="s fb" transform="translate(691.6 3516) rotate(-90)">12</text>
<text class="s fb" text-anchor="end" transform="translate(704.6 3530) rotate(-90)">XCLK</text>
<path class="r" d="M695.6 3519V3492.5"/>
<path class="g" d="M695.6 3492.5V3282.5"/>
<text class="t fb" transform="translate(689.1 3470) rotate(-90)">CAM2_REFCLK</text>
<text class="s fb" transform="translate(719.4 3516) rotate(-90)">13</text>
<text class="s fb" text-anchor="end" transform="translate(732.4 3530) rotate(-90)">NC</text>
<path class="r" d="M723.4 3519V3492.5"/>
<path class="G" d="M712.4 3480.5L734.4 3502.5"/>
<path class="G" d="M712.4 3502.5L734.4 3480.5"/>
<text class="s fb" transform="translate(747.1 3516) rotate(-90)">14</text>
<text class="s fb" text-anchor="end" transform="translate(760.1 3530) rotate(-90)">DOVDD</text>
<path class="r" d="M751.1 3519V3492.5"/>
<path class="g" d="M751.1 3492.5V3282.5"/>
<text class="t fg" transform="translate(744.6 3470) rotate(-90)">AIR_1V8</text>
<text class="s fb" transform="translate(774.9 3516) rotate(-90)">15</text>
<text class="s fb" text-anchor="end" transform="translate(787.9 3530) rotate(-90)">DVDD</text>
<path class="r" d="M778.9 3519V3492.5"/>
<path class="g" d="M778.9 3492.5V3282.5"/>
<text class="t fg" transform="translate(772.4 3470) rotate(-90)">AIR_VCAMD</text>
<text class="s fb" transform="translate(802.7 3516) rotate(-90)">16</text>
<text class="s fb" text-anchor="end" transform="translate(815.7 3530) rotate(-90)">HSYNC</text>
<path class="r" d="M806.7 3519V3492.5"/>
<path class="G" d="M795.7 3480.5L817.7 3502.5"/>
<path class="G" d="M795.7 3502.5L817.7 3480.5"/>
<text class="s fb" transform="translate(830.5 3516) rotate(-90)">17</text>
<text class="s fb" text-anchor="end" transform="translate(843.5 3530) rotate(-90)">PWDN</text>
<path class="r" d="M834.5 3519V3492.5"/>
<path class="g" d="M834.5 3492.5V3282.5"/>
<text class="t fb" transform="translate(828 3470) rotate(-90)">CAM2_PWDN</text>
<text class="s fb" transform="translate(858.3 3516) rotate(-90)">18</text>
<text class="s fb" text-anchor="end" transform="translate(871.3 3530) rotate(-90)">VSYNC</text>
<path class="r" d="M862.3 3519V3492.5"/>
<path class="G" d="M851.3 3480.5L873.3 3502.5"/>
<path class="G" d="M851.3 3502.5L873.3 3480.5"/>
<text class="s fb" transform="translate(886 3516) rotate(-90)">19</text>
<text class="s fb" text-anchor="end" transform="translate(899 3530) rotate(-90)">RESET</text>
<path class="r" d="M890 3519V3492.5"/>
<path class="g" d="M890 3492.5V3282.5"/>
<text class="t fb" transform="translate(883.5 3470) rotate(-90)">CAM2_RST</text>
<text class="s fb" transform="translate(913.8 3516) rotate(-90)">20</text>
<text class="s fb" text-anchor="end" transform="translate(926.8 3530) rotate(-90)">SIO_C</text>
<path class="r" d="M917.8 3519V3492.5"/>
<path class="g" d="M917.8 3492.5V3282.5"/>
<text class="t fb" transform="translate(911.3 3470) rotate(-90)">CAM2_SCL</text>
<text class="s fb" transform="translate(941.6 3516) rotate(-90)">21</text>
<text class="s fb" text-anchor="end" transform="translate(954.6 3530) rotate(-90)">AVDD</text>
<path class="r" d="M945.6 3519V3492.5"/>
<path class="g" d="M945.6 3492.5V3282.5"/>
<text class="t fg" transform="translate(939.1 3470) rotate(-90)">AIR_VCAMA</text>
<text class="s fb" transform="translate(969.4 3516) rotate(-90)">22</text>
<text class="s fb" text-anchor="end" transform="translate(982.4 3530) rotate(-90)">SIO_D</text>
<path class="r" d="M973.4 3519V3492.5"/>
<path class="g" d="M973.4 3492.5V3282.5"/>
<text class="t fb" transform="translate(966.9 3470) rotate(-90)">CAM2_SDA</text>
<text class="s fb" transform="translate(997.2 3516) rotate(-90)">23</text>
<text class="s fb" text-anchor="end" transform="translate(1010.2 3530) rotate(-90)">AGND</text>
<path class="r" d="M1001.2 3519V3492.5"/>
<path class="g" d="M1001.2 3492.5V3282.5"/>
<text class="t fk" transform="translate(994.7 3470) rotate(-90)">GNDA</text>
<text class="s fb" transform="translate(1024.9 3516) rotate(-90)">24</text>
<text class="s fb" text-anchor="end" transform="translate(1037.9 3530) rotate(-90)">NC</text>
<path class="r" d="M1028.9 3519V3492.5"/>
<path class="G" d="M1017.9 3480.5L1039.9 3502.5"/>
<path class="G" d="M1017.9 3502.5L1039.9 3480.5"/>
<text class="s fb" transform="translate(1066.6 3516) rotate(-90)">25</text>
<text class="s fb" text-anchor="end" transform="translate(1079.6 3530) rotate(-90)">PAD1</text>
<path class="r" d="M1070.6 3519V3492.5"/>
<path class="g" d="M1070.6 3492.5V3282.5"/>
<text class="t fk" transform="translate(1064.1 3470) rotate(-90)">GNDA</text>
<text class="s fb" transform="translate(1094.4 3516) rotate(-90)">26</text>
<text class="s fb" text-anchor="end" transform="translate(1107.4 3530) rotate(-90)">PAD2</text>
<path class="r" d="M1098.4 3519V3492.5"/>
<path class="g" d="M1098.4 3492.5V3282.5"/>
<text class="t fk" transform="translate(1091.9 3470) rotate(-90)">GNDA</text>
<text class="t fk" x="1201.3" y="3303.9">GNDA</text>
<path class="g" d="M1195.7 3311.1V3339.6"/>
<path class="k" d="M1195.7 3339.6H1208.7A14.5 14.5 0 0 1 1237.7 3339.6H1250.7"/>
<path class="g" d="M1250.7 3339.6H1321.8"/>
<text class="t fk" x="1257.2" y="3332.1">GND</text>
<text class="s fn" x="1203.7" y="3351.4">J54</text>
<text class="t fg" x="1187.3" y="3471.5">AIR_1V8</text>
<path class="g" d="M1182 3478.7H1210.2"/>
<path class="k" d="M1182 3478.7V3506.4"/>
<rect class="r" x="1169.9" y="3506.4" width="23.6" height="56.2" style="fill:#fff"/>
<path class="k" d="M1182 3562.6V3588.4"/>
<path class="g" d="M1182 3588.4V3616.9H1363.3"/>
<path class="k" d="M1210.2 3478.7V3506.4"/>
<rect class="r" x="1198.1" y="3506.4" width="23.6" height="56.2" style="fill:#fff"/>
<path class="k" d="M1210.2 3562.6V3589.6"/>
<path class="g" d="M1210.2 3589.6H1363.3"/>
<text class="s fn" text-anchor="middle" transform="translate(1190.9 3534.6) rotate(-90)">4.7K</text>
<text class="s fn" text-anchor="middle" transform="translate(1219.1 3534.6) rotate(-90)">4.7K</text>
<text class="s fn" transform="translate(1162.2 3555.9) rotate(-90)">R65</text>
<text class="s fn" transform="translate(1244.7 3555.9) rotate(-90)">R66</text>
<text class="t fb" x="1216.5" y="3582.4">CAM2_SCL</text>
<text class="t fb" x="1216.5" y="3610.1">CAM2_SDA</text>
<rect class="r" x="389.2" y="3783.6" width="104.5" height="56.5"/>
<text class="s fn" x="421.1" y="3819.4">RF1</text>
<path class="r" d="M493.6 3790.6H520.2"/>
<path class="r" d="M493.6 3833.1H520.2"/>
<rect class="r" x="520.2" y="3783.6" width="76.7" height="56.5"/>
<path class="r" d="M561.7 3812H640"/>
<circle cx="556.3" cy="3812" r="5.5" style="fill:#fff;stroke:#880000;stroke-width:3.6"/>
<text class="s fb" x="599.4" y="3807.2">5</text>
<path class="r" d="M528.8 3783.6V3729"/>
<path class="r" d="M584.7 3783.6V3729"/>
<path class="g" d="M444.1 3729H584.7"/>
<text class="t fk" x="451.5" y="3751.3">GNDA</text>
<path class="r" d="M528.8 3840.2V3895.1"/>
<path class="r" d="M584.7 3840.2V3895.1"/>
<path class="g" d="M444.1 3895.1H584.7"/>
<text class="t fk" x="451.5" y="3886.5">GNDA</text>
<text class="s fb" transform="translate(524.9 3768.3) rotate(-90)">1</text>
<text class="s fb" transform="translate(580.8 3768.3) rotate(-90)">2</text>
<text class="s fb" transform="translate(524.9 3868.9) rotate(-90)">4</text>
<text class="s fb" transform="translate(580.8 3868.9) rotate(-90)">3</text>
<path class="g" d="M584.7 3895.1V3922.6H751.8"/>
<path class="k" d="M640 3812H667.1"/>
<rect class="r" x="667.1" y="3800.2" width="56.9" height="23.3" style="fill:#fff"/>
<path class="k" d="M724 3812H750.8"/>
<path class="g" d="M750.8 3812H877.3"/>
<text class="s fn" text-anchor="middle" x="695.5" y="3821">0</text>
<text class="s fn" x="671.9" y="3847.5">R73</text>
<text class="t fb" x="757.5" y="3805">LTE_ANT</text>
<path class="r" d="M640 3812V3861.9"/>
<path class="r" d="M617.6 3861.9H662.3"/>
<path class="r" d="M617.6 3873.1H662.3"/>
<path class="r" d="M640 3873.1V3922.6"/>
<path class="r" d="M750.8 3812V3861.9"/>
<path class="r" d="M728.1 3861.9H773.5"/>
<path class="r" d="M728.1 3873.1H773.5"/>
<path class="r" d="M750.8 3873.1V3922.6"/>
<text class="s fn" x="668.7" y="3875.3">C64</text>
<text class="s fn" x="668.7" y="3900.2">100nF</text>
<text class="s fn" x="778.9" y="3875.3">C73</text>
<text class="s fn" x="778.9" y="3900.2">100nF</text>
<circle class="j" cx="528.8" cy="3729" r="7"/>
<circle class="j" cx="528.8" cy="3895.1" r="7"/>
<circle class="j" cx="584.7" cy="3895.1" r="7"/>
<circle class="j" cx="640" cy="3812" r="7"/>
<circle class="j" cx="750.8" cy="3812" r="7"/>
<circle class="j" cx="640" cy="3922.6" r="7"/>
<path class="k" d="M1015.4 3854.6V3742.7H1071.1V3798.4H1099V3742.7H1126.8V3798.4H1154.7V3742.7H1210.4"/>
<path class="k" d="M1043.3 3742.7V3854.6"/>
<path class="r" d="M1015.4 3854.6V3907.7"/>
<path class="r" d="M1043.3 3854.6V3908.2"/>
<text class="s fn" x="1019.2" y="3736.8">RF2</text>
<text class="s fn" x="1093.9" y="3736.8">2.4G_ANT</text>
<text class="s fb" transform="translate(1011.6 3881.1) rotate(-90)">2</text>
<text class="s fb" transform="translate(1039.5 3881.1) rotate(-90)">1</text>
<path class="g" d="M1043.3 3908.2H1056.7V3825.9"/>
<path class="k" d="M1056.7 3825.9H1083.8"/>
<rect class="r" x="1083.8" y="3814.1" width="57" height="23.5" style="fill:#fff"/>
<path class="k" d="M1140.8 3825.9H1167.3"/>
<path class="g" d="M1167.3 3825.9H1307.8"/>
<text class="s fn" text-anchor="middle" x="1112.2" y="3834.8">0</text>
<text class="t fb" x="1174.9" y="3819.1">WIFI_ANT</text>
<text class="s fn" x="1090.1" y="3848.2">C65</text>
<text class="s fn" x="1090.1" y="3860.9">R76</text>
<text class="s fn" x="1090.1" y="3877.3">100nF</text>
<path class="r" d="M1056.7 3908.2H1107.8"/>
<path class="r" d="M1107.8 3885.4V3931.8"/>
<path class="r" d="M1118 3885.4V3931.8"/>
<path class="r" d="M1118 3908.2H1168.6"/>
<path class="g" d="M1168.6 3908.2V3936.1"/>
<path class="g" d="M1015.4 3907.7V3936.8H1250.9"/>
<path class="r" d="M1250.9 3825.9V3876.1"/>
<path class="r" d="M1228.1 3876.1H1273.7"/>
<path class="r" d="M1228.1 3886.2H1273.7"/>
<path class="r" d="M1250.9 3886.2V3936.8"/>
<text class="t fk" x="1174.9" y="3929.2">GNDA</text>
<text class="s fn" x="1280" y="3888.7">C66</text>
<text class="s fn" x="1280" y="3912.8">100nF</text>
<circle class="j" cx="1056.7" cy="3908.2" r="7"/>
<circle class="j" cx="1250.9" cy="3825.9" r="7"/>
<circle class="j" cx="1167.3" cy="3936.1" r="7"/>
<rect class="r" x="1862.5" y="2005" width="666.5" height="1668"/>
<text class="s fn" x="1861.5" y="1999">U7</text>
<text class="s fn" x="2403.5" y="1999">Air724UG</text>
<text class="t fb" text-anchor="end" x="1854" y="2026.4">1</text>
<text class="t fb" x="1876.5" y="2040.9">RESET_IN_N</text>
<path class="g" d="M1625 2032.9H2112.5"/>
<circle class="j" cx="1821" cy="2032.9" r="7"/>
<text class="t fb" x="1632.5" y="2025.4">AIR_RST</text>
<text class="t fk" text-anchor="end" x="1854" y="2054.2">2</text>
<text class="t fk" x="1876.5" y="2068.7">GND</text>
<path class="g" d="M1625 2060.7H2112.5"/>
<circle class="j" cx="1821" cy="2060.7" r="7"/>
<text class="t fk" x="1632.5" y="2053.2">GNDA</text>
<text class="t fb" text-anchor="end" x="1854" y="2082">3</text>
<text class="t fb" x="1876.5" y="2096.5">UART2_RXD/GPIO_20</text>
<path class="g" d="M1820 2088.5H2112.5"/>
<text class="t fb" text-anchor="end" x="1854" y="2109.8">4</text>
<text class="t fb" x="1876.5" y="2124.3">UART2_TXD/GPIO_21</text>
<path class="g" d="M1820 2116.3H2112.5"/>
<text class="t fb" text-anchor="end" x="1854" y="2137.6">5</text>
<text class="t fb" x="1876.5" y="2152.1">HOST_TXD</text>
<path class="g" d="M1820 2144.1H2112.5"/>
<text class="t fb" text-anchor="end" x="1854" y="2165.4">6</text>
<text class="t fb" x="1876.5" y="2179.9">HOST_RXD</text>
<path class="g" d="M1820 2171.9H2112.5"/>
<text class="t fb" text-anchor="end" x="1854" y="2193.2">7</text>
<text class="t fb" x="1876.5" y="2207.7">ZSP_UART_TXD/GPIO_22</text>
<path class="g" d="M1820 2199.7H2112.5"/>
<text class="t fb" text-anchor="end" x="1854" y="2221">8</text>
<text class="t fb" x="1876.5" y="2235.5">USIM_CD/GPIO_23</text>
<path class="g" d="M1820 2227.5H2112.5"/>
<text class="t fb" text-anchor="end" x="1854" y="2248.8">9</text>
<text class="t fb" x="1876.5" y="2263.3">USIM_CLK</text>
<path class="g" d="M1625 2255.3H2112.5"/>
<circle class="j" cx="1821" cy="2255.3" r="7"/>
<text class="t fb" x="1632.5" y="2247.8">AIR_SIMCLK</text>
<text class="t fb" text-anchor="end" x="1854" y="2276.6">10</text>
<text class="t fb" x="1876.5" y="2291.1">USIM_DATA</text>
<path class="g" d="M1625 2283.1H2112.5"/>
<circle class="j" cx="1821" cy="2283.1" r="7"/>
<text class="t fb" x="1632.5" y="2275.6">AIR_SIMDATA</text>
<text class="t fb" text-anchor="end" x="1854" y="2304.4">11</text>
<text class="t fb" x="1876.5" y="2318.9">USIM_RST_N</text>
<path class="g" d="M1625 2310.9H2112.5"/>
<circle class="j" cx="1821" cy="2310.9" r="7"/>
<text class="t fb" x="1632.5" y="2303.4">AIR_SIMRST</text>
<text class="t fb" text-anchor="end" x="1854" y="2332.2">12</text>
<text class="t fb" x="1876.5" y="2346.7">USIM_VDD</text>
<path class="g" d="M1625 2338.7H2112.5"/>
<circle class="j" cx="1821" cy="2338.7" r="7"/>
<text class="t fg" x="1632.5" y="2331.2">AIR_VSIM</text>
<text class="t fk" text-anchor="end" x="1854" y="2360">13</text>
<text class="t fk" x="1876.5" y="2374.5">GND</text>
<path class="g" d="M1625 2366.5H2112.5"/>
<circle class="j" cx="1821" cy="2366.5" r="7"/>
<text class="t fk" x="1632.5" y="2359">GNDA</text>
<text class="t fR" text-anchor="end" x="1854" y="2387.8">14</text>
<text class="t fR" x="1876.5" y="2402.3">VBUS</text>
<path class="g" d="M1625 2394.3H2112.5"/>
<circle class="j" cx="1821" cy="2394.3" r="7"/>
<text class="t fg" x="1632.5" y="2386.8">AIR_VBUS</text>
<text class="t fb" text-anchor="end" x="1854" y="2415.6">15</text>
<text class="t fb" x="1876.5" y="2430.1">USB_DM</text>
<path class="g" d="M1625 2422.1H2112.5"/>
<circle class="j" cx="1821" cy="2422.1" r="7"/>
<text class="t fb" x="1632.5" y="2414.6">AIR_DM</text>
<text class="t fb" text-anchor="end" x="1854" y="2443.4">16</text>
<text class="t fb" x="1876.5" y="2457.9">USB_DP</text>
<path class="g" d="M1625 2449.9H2112.5"/>
<circle class="j" cx="1821" cy="2449.9" r="7"/>
<text class="t fb" x="1632.5" y="2442.4">AIR_DP</text>
<text class="t fk" text-anchor="end" x="1854" y="2471.2">17</text>
<text class="t fk" x="1876.5" y="2485.7">GND</text>
<path class="g" d="M1625 2477.7H2112.5"/>
<circle class="j" cx="1821" cy="2477.7" r="7"/>
<text class="t fk" x="1632.5" y="2470.2">GNDA</text>
<text class="t fb" text-anchor="end" x="1854" y="2499">18</text>
<text class="t fb" x="1876.5" y="2513.5">SPK-</text>
<path class="g" d="M1625 2505.5H2112.5"/>
<circle class="j" cx="1821" cy="2505.5" r="7"/>
<text class="t fb" x="1632.5" y="2498">AIR_SPK-</text>
<text class="t fb" text-anchor="end" x="1854" y="2526.8">19</text>
<text class="t fb" x="1876.5" y="2541.3">SPK+</text>
<path class="g" d="M1625 2533.3H2112.5"/>
<circle class="j" cx="1821" cy="2533.3" r="7"/>
<text class="t fb" x="1632.5" y="2525.8">AIR_SPK+</text>
<text class="t fk" text-anchor="end" x="1854" y="2554.6">20</text>
<text class="t fk" x="1876.5" y="2569.1">GND</text>
<path class="g" d="M1625 2561.1H2112.5"/>
<circle class="j" cx="1821" cy="2561.1" r="7"/>
<text class="t fk" x="1632.5" y="2553.6">GNDA</text>
<text class="t fb" text-anchor="end" x="1854" y="2582.4">21</text>
<text class="t fb" x="1876.5" y="2596.9">MIC-</text>
<path class="g" d="M1625 2588.9H2112.5"/>
<circle class="j" cx="1821" cy="2588.9" r="7"/>
<text class="t fb" x="1632.5" y="2581.4">AIR_MIC-</text>
<text class="t fb" text-anchor="end" x="1854" y="2610.2">22</text>
<text class="t fb" x="1876.5" y="2624.7">MIC+</text>
<path class="g" d="M1625 2616.7H2112.5"/>
<circle class="j" cx="1821" cy="2616.7" r="7"/>
<text class="t fb" x="1632.5" y="2609.2">AIR_MIC+</text>
<text class="t fk" text-anchor="end" x="1854" y="2638">23</text>
<text class="t fk" x="1876.5" y="2652.5">GND</text>
<path class="g" d="M1625 2644.5H2112.5"/>
<circle class="j" cx="1821" cy="2644.5" r="7"/>
<text class="t fk" x="1632.5" y="2637">GNDA</text>
<text class="t fb" text-anchor="end" x="1854" y="2665.8">24</text>
<text class="t fb" x="1876.5" y="2680.3">VMMC</text>
<path class="g" d="M1625 2672.3H2112.5"/>
<circle class="j" cx="1821" cy="2672.3" r="7"/>
<text class="t fg" x="1632.5" y="2664.8">AIR_TFVCC</text>
<text class="t fb" text-anchor="end" x="1854" y="2693.6">25</text>
<text class="t fb" x="1876.5" y="2708.1">MMC1_DAT2/GPIO_27</text>
<path class="g" d="M1625 2700.1H2112.5"/>
<circle class="j" cx="1821" cy="2700.1" r="7"/>
<text class="t fb" x="1632.5" y="2692.6">AIR_TFD2</text>
<text class="t fb" text-anchor="end" x="1854" y="2721.4">26</text>
<text class="t fb" x="1876.5" y="2735.9">MMC1_DAT3/GPIO_28</text>
<path class="g" d="M1625 2727.9H2112.5"/>
<circle class="j" cx="1821" cy="2727.9" r="7"/>
<text class="t fb" x="1632.5" y="2720.4">AIR_TFD3</text>
<text class="t fb" text-anchor="end" x="1854" y="2749.2">27</text>
<text class="t fb" x="1876.5" y="2763.7">MMC1_CMD/GPIO_24</text>
<path class="g" d="M1625 2755.7H2112.5"/>
<circle class="j" cx="1821" cy="2755.7" r="7"/>
<text class="t fb" x="1632.5" y="2748.2">AIR_TFCMD</text>
<text class="t fb" text-anchor="end" x="1854" y="2777">28</text>
<text class="t fb" x="1876.5" y="2791.5">MMC1_CLK</text>
<path class="g" d="M1625 2783.5H2112.5"/>
<circle class="j" cx="1821" cy="2783.5" r="7"/>
<text class="t fb" x="1632.5" y="2776">AIR_TFCLK</text>
<text class="t fb" text-anchor="end" x="1854" y="2804.8">29</text>
<text class="t fb" x="1876.5" y="2819.3">MMC1_DAT0/GPIO_25</text>
<path class="g" d="M1625 2811.3H2112.5"/>
<circle class="j" cx="1821" cy="2811.3" r="7"/>
<text class="t fb" x="1632.5" y="2803.8">AIR_TFD0</text>
<text class="t fb" text-anchor="end" x="1854" y="2832.6">30</text>
<text class="t fb" x="1876.5" y="2847.1">MMC1_DAT1/GPIO_26</text>
<path class="g" d="M1625 2839.1H2112.5"/>
<circle class="j" cx="1821" cy="2839.1" r="7"/>
<text class="t fb" x="1632.5" y="2831.6">AIR_TFD1</text>
<text class="t fb" text-anchor="end" x="1854" y="2860.4">31</text>
<text class="t fb" x="1876.5" y="2874.9">I2C2_SDA/GPIO_15</text>
<path class="g" d="M1820 2866.9H2112.5"/>
<text class="t fb" text-anchor="end" x="1854" y="2888.2">32</text>
<text class="t fb" x="1876.5" y="2902.7">I2C2_SCL/GPIO_14</text>
<path class="g" d="M1820 2894.7H2112.5"/>
<text class="t fk" text-anchor="end" x="1854" y="2916">33</text>
<text class="t fk" x="1876.5" y="2930.5">GND</text>
<path class="g" d="M1625 2922.5H2112.5"/>
<circle class="j" cx="1821" cy="2922.5" r="7"/>
<text class="t fk" x="1632.5" y="2915">GNDA</text>
<text class="t fb" text-anchor="end" x="1854" y="2943.8">34</text>
<text class="t fb" x="1876.5" y="2958.3">WIFI_ANT</text>
<path class="g" d="M1625 2950.3H2112.5"/>
<circle class="j" cx="1821" cy="2950.3" r="7"/>
<text class="t fb" x="1632.5" y="2942.8">WIFI_ANT</text>
<text class="t fb" text-anchor="end" x="1854" y="2971.6">35</text>
<text class="t fb" x="1876.5" y="2986.1">UART1_RXD</text>
<path class="g" d="M1820 2978.1H2112.5"/>
<text class="t fb" text-anchor="end" x="1854" y="2999.4">36</text>
<text class="t fb" x="1876.5" y="3013.9">UART1_TXD</text>
<path class="g" d="M1820 3005.9H2112.5"/>
<text class="t fb" text-anchor="end" x="1854" y="3027.2">37</text>
<text class="t fb" x="1876.5" y="3041.7">UART1_RTS/GPIO_19</text>
<path class="g" d="M1820 3033.7H2112.5"/>
<text class="t fb" text-anchor="end" x="1854" y="3055">38</text>
<text class="t fb" x="1876.5" y="3069.5">UART1_CTS/GPIO_18</text>
<path class="g" d="M1820 3061.5H2112.5"/>
<text class="t fb" text-anchor="end" x="1854" y="3082.8">39</text>
<text class="t fb" x="1876.5" y="3097.3">LCD_CS/WAKEUP_OUT/GPIO_3</text>
<path class="g" d="M1625 3089.3H2112.5"/>
<circle class="j" cx="1821" cy="3089.3" r="7"/>
<text class="t fb" x="1632.5" y="3081.8">LCD_CS</text>
<text class="t fb" text-anchor="end" x="1854" y="3110.6">40</text>
<text class="t fb" x="1876.5" y="3125.1">LCD_CLK/AP_WAKEUP_MODULE/GPIO_2</text>
<path class="g" d="M1625 3117.1H2112.5"/>
<circle class="j" cx="1821" cy="3117.1" r="7"/>
<text class="t fb" x="1632.5" y="3109.6">LCD_CLK</text>
<text class="t fb" text-anchor="end" x="1854" y="3138.4">41</text>
<text class="t fb" x="1876.5" y="3152.9">LCD_DATA/GPIO_0</text>
<path class="g" d="M1625 3144.9H2112.5"/>
<circle class="j" cx="1821" cy="3144.9" r="7"/>
<text class="t fb" x="1632.5" y="3137.4">LCD_DATA</text>
<text class="t fb" text-anchor="end" x="1854" y="3166.2">42</text>
<text class="t fb" x="1876.5" y="3180.7">LCD_FMARK</text>
<path class="g" d="M1820 3172.7H2112.5"/>
<text class="t fb" text-anchor="end" x="1854" y="3194">43</text>
<text class="t fb" x="1876.5" y="3208.5">CLIB_EN/GPIO_13</text>
<path class="g" d="M1820 3200.5H2112.5"/>
<text class="t fk" text-anchor="end" x="1854" y="3221.8">44</text>
<text class="t fk" x="1876.5" y="3236.3">GND</text>
<path class="g" d="M1625 3228.3H2112.5"/>
<circle class="j" cx="1821" cy="3228.3" r="7"/>
<text class="t fk" x="1632.5" y="3220.8">GNDA</text>
<text class="t fk" text-anchor="end" x="1854" y="3249.6">45</text>
<text class="t fk" x="1876.5" y="3264.1">GND</text>
<path class="g" d="M1625 3256.1H2112.5"/>
<circle class="j" cx="1821" cy="3256.1" r="7"/>
<text class="t fk" x="1632.5" y="3248.6">GNDA</text>
<text class="t fb" text-anchor="end" x="1854" y="3277.4">46</text>
<text class="t fb" x="1876.5" y="3291.9">LTE_ANT</text>
<path class="g" d="M1625 3283.9H2112.5"/>
<circle class="j" cx="1821" cy="3283.9" r="7"/>
<text class="t fb" x="1632.5" y="3276.4">LTE_ANT</text>
<text class="t fk" text-anchor="end" x="1854" y="3305.2">47</text>
<text class="t fk" x="1876.5" y="3319.7">GND</text>
<path class="g" d="M1625 3311.7H2112.5"/>
<circle class="j" cx="1821" cy="3311.7" r="7"/>
<text class="t fk" x="1632.5" y="3304.2">GNDA</text>
<text class="t fk" text-anchor="end" x="1854" y="3333">48</text>
<text class="t fk" x="1876.5" y="3347.5">GND</text>
<path class="g" d="M1625 3339.5H2112.5"/>
<circle class="j" cx="1821" cy="3339.5" r="7"/>
<text class="t fk" x="1632.5" y="3332">GNDA</text>
<text class="t fb" text-anchor="end" x="1854" y="3360.8">49</text>
<text class="t fb" x="1876.5" y="3375.3">MODULE_STATUS/GPIO_5</text>
<path class="g" d="M1625 3367.3H2112.5"/>
<circle class="j" cx="1821" cy="3367.3" r="7"/>
<text class="t fb" x="1632.5" y="3359.8">AIR_SYSSTAT</text>
<text class="t fb" text-anchor="end" x="1854" y="3388.6">50</text>
<text class="t fb" x="1876.5" y="3403.1">CAMI2C_SDA1/GPIO_17</text>
<path class="g" d="M1625 3395.1H2112.5"/>
<circle class="j" cx="1821" cy="3395.1" r="7"/>
<text class="t fb" x="1632.5" y="3387.6">CAM2_SDA</text>
<text class="t fb" text-anchor="end" x="1854" y="3416.4">51</text>
<text class="t fb" x="1876.5" y="3430.9">CAMI2C_SCL1</text>
<path class="g" d="M1625 3422.9H2112.5"/>
<circle class="j" cx="1821" cy="3422.9" r="7"/>
<text class="t fb" x="1632.5" y="3415.4">CAM2_SCL</text>
<text class="t fb" text-anchor="end" x="1854" y="3444.2">52</text>
<text class="t fb" x="1876.5" y="3458.7">SPI1_CLK/GPIO_9</text>
<path class="g" d="M1820 3450.7H2112.5"/>
<text class="t fb" text-anchor="end" x="1854" y="3472">53</text>
<text class="t fb" x="1876.5" y="3486.5">SPI1_DIN/GPIO_12</text>
<path class="g" d="M1820 3478.5H2112.5"/>
<text class="t fb" text-anchor="end" x="1854" y="3499.8">54</text>
<text class="t fb" x="1876.5" y="3514.3">SPI1_CS/GPIO_10</text>
<path class="g" d="M1820 3506.3H2112.5"/>
<text class="t fb" text-anchor="end" x="1854" y="3527.6">55</text>
<text class="t fb" x="1876.5" y="3542.1">SPI1_DOUT/GPIO_11</text>
<path class="g" d="M1820 3534.1H2112.5"/>
<text class="t fb" text-anchor="end" x="1854" y="3555.4">56</text>
<text class="t fb" x="1876.5" y="3569.9">LCD_RST</text>
<path class="g" d="M1625 3561.9H2112.5"/>
<circle class="j" cx="1821" cy="3561.9" r="7"/>
<text class="t fb" x="1632.5" y="3554.4">LCD_RST</text>
<text class="t fb" text-anchor="end" x="1854" y="3583.2">57</text>
<text class="t fb" x="1876.5" y="3597.7">LCD_SEL/NET_MODE/GPIO_4</text>
<path class="g" d="M1625 3589.7H2112.5"/>
<circle class="j" cx="1821" cy="3589.7" r="7"/>
<text class="t fb" x="1632.5" y="3582.2">AIR_NETMODE</text>
<text class="t fb" text-anchor="end" x="1854" y="3611">58</text>
<text class="t fb" x="1876.5" y="3625.5">LCD_DC/NET_STATUS/GPIO_1</text>
<path class="g" d="M1457.5 3617.5H2112.5"/>
<circle class="j" cx="1821" cy="3617.5" r="7"/>
<text class="t fb" x="1632.5" y="3610">AIR_NETSTAT</text>
<text class="t fR" text-anchor="end" x="1854" y="3638.8">59</text>
<text class="t fR" x="1876.5" y="3653.3">VBAT</text>
<path class="g" d="M1625 3645.3H2112.5"/>
<circle class="j" cx="1821" cy="3645.3" r="7"/>
<text class="t fg" x="1632.5" y="3637.8">AIR_VBAT</text>
<text class="t fb" x="1466.5" y="3610">LCD_DC</text>
<path class="g" d="M1457.5 2255.3H1575"/>
<path class="k" d="M1575 2255.3H1586A14 14 0 0 1 1614 2255.3H1625"/>
<text class="t fb" x="1466.5" y="2247.8">SIM_CLK</text>
<text class="s fn" x="1579" y="2266.3">J14</text>
<path class="g" d="M1457.5 2283.1H1575"/>
<path class="k" d="M1575 2283.1H1586A14 14 0 0 1 1614 2283.1H1625"/>
<text class="t fb" x="1466.5" y="2275.6">SIM_IO</text>
<text class="s fn" x="1579" y="2294.1">J16</text>
<path class="g" d="M1457.5 2310.9H1575"/>
<path class="k" d="M1575 2310.9H1586A14 14 0 0 1 1614 2310.9H1625"/>
<text class="t fb" x="1466.5" y="2303.4">SIM_RST</text>
<text class="s fn" x="1579" y="2321.9">J18</text>
<path class="g" d="M1457.5 2338.7H1575"/>
<path class="k" d="M1575 2338.7H1586A14 14 0 0 1 1614 2338.7H1625"/>
<text class="t fg" x="1466.5" y="2331.2">SIM_VCC</text>
<text class="s fn" x="1579" y="2349.7">J20</text>
<rect class="r" x="2140" y="2006.9" width="55" height="583.7" rx="6"/>
<text class="s fn" text-anchor="middle" transform="translate(2191 2075.4) rotate(-90)">AIR1</text>
<path class="k" d="M2112.5 2032.9H2140"/>
<text class="s fk" x="2151.5" y="2042.9">1</text>
<path class="k" d="M2112.5 2060.7H2140"/>
<text class="s fk" x="2151.5" y="2070.7">2</text>
<path class="k" d="M2112.5 2088.5H2140"/>
<text class="s fk" x="2151.5" y="2098.5">3</text>
<path class="k" d="M2112.5 2116.3H2140"/>
<text class="s fk" x="2151.5" y="2126.3">4</text>
<path class="k" d="M2112.5 2144.1H2140"/>
<text class="s fk" x="2151.5" y="2154.1">5</text>
<path class="k" d="M2112.5 2171.9H2140"/>
<text class="s fk" x="2151.5" y="2181.9">6</text>
<path class="k" d="M2112.5 2199.7H2140"/>
<text class="s fk" x="2151.5" y="2209.7">7</text>
<path class="k" d="M2112.5 2227.5H2140"/>
<text class="s fk" x="2151.5" y="2237.5">8</text>
<path class="k" d="M2112.5 2255.3H2140"/>
<text class="s fk" x="2151.5" y="2265.3">9</text>
<path class="k" d="M2112.5 2283.1H2140"/>
<text class="s fk" x="2151.5" y="2293.1">10</text>
<path class="k" d="M2112.5 2310.9H2140"/>
<text class="s fk" x="2151.5" y="2320.9">11</text>
<path class="k" d="M2112.5 2338.7H2140"/>
<text class="s fk" x="2151.5" y="2348.7">12</text>
<path class="k" d="M2112.5 2366.5H2140"/>
<text class="s fk" x="2151.5" y="2376.5">13</text>
<path class="k" d="M2112.5 2394.3H2140"/>
<text class="s fk" x="2151.5" y="2404.3">14</text>
<path class="k" d="M2112.5 2422.1H2140"/>
<text class="s fk" x="2151.5" y="2432.1">15</text>
<path class="k" d="M2112.5 2449.9H2140"/>
<text class="s fk" x="2151.5" y="2459.9">16</text>
<path class="k" d="M2112.5 2477.7H2140"/>
<text class="s fk" x="2151.5" y="2487.7">17</text>
<path class="k" d="M2112.5 2505.5H2140"/>
<text class="s fk" x="2151.5" y="2515.5">18</text>
<path class="k" d="M2112.5 2533.3H2140"/>
<text class="s fk" x="2151.5" y="2543.3">19</text>
<path class="k" d="M2112.5 2561.1H2140"/>
<text class="s fk" x="2151.5" y="2571.1">20</text>
<rect class="r" x="2140" y="2562.9" width="55" height="583.7" rx="6"/>
<text class="s fn" text-anchor="middle" transform="translate(2191 2631.4) rotate(-90)">AIR3</text>
<path class="k" d="M2112.5 2588.9H2140"/>
<text class="s fk" x="2151.5" y="2598.9">1</text>
<path class="k" d="M2112.5 2616.7H2140"/>
<text class="s fk" x="2151.5" y="2626.7">2</text>
<path class="k" d="M2112.5 2644.5H2140"/>
<text class="s fk" x="2151.5" y="2654.5">3</text>
<path class="k" d="M2112.5 2672.3H2140"/>
<text class="s fk" x="2151.5" y="2682.3">4</text>
<path class="k" d="M2112.5 2700.1H2140"/>
<text class="s fk" x="2151.5" y="2710.1">5</text>
<path class="k" d="M2112.5 2727.9H2140"/>
<text class="s fk" x="2151.5" y="2737.9">6</text>
<path class="k" d="M2112.5 2755.7H2140"/>
<text class="s fk" x="2151.5" y="2765.7">7</text>
<path class="k" d="M2112.5 2783.5H2140"/>
<text class="s fk" x="2151.5" y="2793.5">8</text>
<path class="k" d="M2112.5 2811.3H2140"/>
<text class="s fk" x="2151.5" y="2821.3">9</text>
<path class="k" d="M2112.5 2839.1H2140"/>
<text class="s fk" x="2151.5" y="2849.1">10</text>
<path class="k" d="M2112.5 2866.9H2140"/>
<text class="s fk" x="2151.5" y="2876.9">11</text>
<path class="k" d="M2112.5 2894.7H2140"/>
<text class="s fk" x="2151.5" y="2904.7">12</text>
<path class="k" d="M2112.5 2922.5H2140"/>
<text class="s fk" x="2151.5" y="2932.5">13</text>
<path class="k" d="M2112.5 2950.3H2140"/>
<text class="s fk" x="2151.5" y="2960.3">14</text>
<path class="k" d="M2112.5 2978.1H2140"/>
<text class="s fk" x="2151.5" y="2988.1">15</text>
<path class="k" d="M2112.5 3005.9H2140"/>
<text class="s fk" x="2151.5" y="3015.9">16</text>
<path class="k" d="M2112.5 3033.7H2140"/>
<text class="s fk" x="2151.5" y="3043.7">17</text>
<path class="k" d="M2112.5 3061.5H2140"/>
<text class="s fk" x="2151.5" y="3071.5">18</text>
<path class="k" d="M2112.5 3089.3H2140"/>
<text class="s fk" x="2151.5" y="3099.3">19</text>
<path class="k" d="M2112.5 3117.1H2140"/>
<text class="s fk" x="2151.5" y="3127.1">20</text>
<rect class="r" x="2140" y="3118.9" width="55" height="583.7" rx="6"/>
<text class="s fn" text-anchor="middle" transform="translate(2191 3187.4) rotate(-90)">AIR5</text>
<path class="k" d="M2112.5 3144.9H2140"/>
<text class="s fk" x="2151.5" y="3154.9">1</text>
<path class="k" d="M2112.5 3172.7H2140"/>
<text class="s fk" x="2151.5" y="3182.7">2</text>
<path class="k" d="M2112.5 3200.5H2140"/>
<text class="s fk" x="2151.5" y="3210.5">3</text>
<path class="k" d="M2112.5 3228.3H2140"/>
<text class="s fk" x="2151.5" y="3238.3">4</text>
<path class="k" d="M2112.5 3256.1H2140"/>
<text class="s fk" x="2151.5" y="3266.1">5</text>
<path class="k" d="M2112.5 3283.9H2140"/>
<text class="s fk" x="2151.5" y="3293.9">6</text>
<path class="k" d="M2112.5 3311.7H2140"/>
<text class="s fk" x="2151.5" y="3321.7">7</text>
<path class="k" d="M2112.5 3339.5H2140"/>
<text class="s fk" x="2151.5" y="3349.5">8</text>
<path class="k" d="M2112.5 3367.3H2140"/>
<text class="s fk" x="2151.5" y="3377.3">9</text>
<path class="k" d="M2112.5 3395.1H2140"/>
<text class="s fk" x="2151.5" y="3405.1">10</text>
<path class="k" d="M2112.5 3422.9H2140"/>
<text class="s fk" x="2151.5" y="3432.9">11</text>
<path class="k" d="M2112.5 3450.7H2140"/>
<text class="s fk" x="2151.5" y="3460.7">12</text>
<path class="k" d="M2112.5 3478.5H2140"/>
<text class="s fk" x="2151.5" y="3488.5">13</text>
<path class="k" d="M2112.5 3506.3H2140"/>
<text class="s fk" x="2151.5" y="3516.3">14</text>
<path class="k" d="M2112.5 3534.1H2140"/>
<text class="s fk" x="2151.5" y="3544.1">15</text>
<path class="k" d="M2112.5 3561.9H2140"/>
<text class="s fk" x="2151.5" y="3571.9">16</text>
<path class="k" d="M2112.5 3589.7H2140"/>
<text class="s fk" x="2151.5" y="3599.7">17</text>
<path class="k" d="M2112.5 3617.5H2140"/>
<text class="s fk" x="2151.5" y="3627.5">18</text>
<path class="k" d="M2112.5 3645.3H2140"/>
<text class="s fk" x="2151.5" y="3655.3">19</text>
<path class="k" d="M2112.5 3673.1H2140"/>
<text class="s fk" x="2151.5" y="3683.1">20</text>
<path class="g" d="M2112.5 3673.1V3700.9"/>
<path class="k" d="M2112.5 3700.9H2085"/>
<rect class="r" x="2027.5" y="3689.9" width="57.5" height="22.5" style="fill:#fff"/>
<path class="k" d="M2027.5 3700.9H2002.5"/>
<path class="g" d="M2002.5 3700.9H1890"/>
<text class="s fn" text-anchor="middle" x="2056" y="3709.9">10K</text>
<text class="s fn" x="2033.5" y="3680.9">R69</text>
<text class="t fg" x="1896.5" y="3693.4">AIR_VBAT</text>
<text class="t fk" text-anchor="end" x="2515" y="2068.7">GND</text>
<text class="t fk" x="2538.5" y="2055.7">117</text>
<path class="k" d="M2529 2060.7H2569"/>
<path class="g" d="M2569 2060.7H2807.5"/>
<text class="t fb" x="2771.5" y="2053.2">117</text>
<text class="t fk" x="2590" y="2053.2">GNDA</text>
<text class="t fk" text-anchor="end" x="2515" y="2096.5">GND</text>
<text class="t fk" x="2538.5" y="2083.5">116</text>
<path class="k" d="M2529 2088.5H2569"/>
<path class="g" d="M2569 2088.5H2807.5"/>
<text class="t fb" x="2771.5" y="2081">116</text>
<text class="t fk" x="2590" y="2081">GNDA</text>
<text class="t fb" text-anchor="end" x="2515" y="2124.3">RESERVED</text>
<text class="t fb" x="2538.5" y="2111.3">115</text>
<path class="r" d="M2529 2116.3H2569"/>
<path class="g" d="M2569 2116.3H2807.5"/>
<text class="t fb" x="2771.5" y="2108.8">115</text>
<text class="t fb" text-anchor="end" x="2515" y="2152.1">HEADMIC_BIAS</text>
<text class="t fb" x="2538.5" y="2139.1">114</text>
<path class="r" d="M2529 2144.1H2569"/>
<path class="g" d="M2569 2144.1H2807.5"/>
<text class="t fb" x="2771.5" y="2136.6">114</text>
<text class="t fb" text-anchor="end" x="2515" y="2179.9">HEADMIC_P</text>
<text class="t fb" x="2538.5" y="2166.9">113</text>
<path class="r" d="M2529 2171.9H2569"/>
<path class="g" d="M2569 2171.9H2807.5"/>
<text class="t fb" x="2771.5" y="2164.4">113</text>
<text class="t fb" text-anchor="end" x="2515" y="2207.7">HP_L</text>
<text class="t fb" x="2538.5" y="2194.7">112</text>
<path class="r" d="M2529 2199.7H2569"/>
<path class="g" d="M2569 2199.7H2807.5"/>
<text class="t fb" x="2771.5" y="2192.2">112</text>
<text class="t fb" text-anchor="end" x="2515" y="2235.5">RESERVED</text>
<text class="t fb" x="2538.5" y="2222.5">111</text>
<path class="r" d="M2529 2227.5H2569"/>
<path class="g" d="M2569 2227.5H2807.5"/>
<text class="t fb" x="2771.5" y="2220">111</text>
<text class="t fb" text-anchor="end" x="2515" y="2263.3">RESERVED</text>
<text class="t fb" x="2538.5" y="2250.3">110</text>
<path class="r" d="M2529 2255.3H2569"/>
<path class="g" d="M2569 2255.3H2807.5"/>
<text class="t fb" x="2771.5" y="2247.8">110</text>
<text class="t fk" text-anchor="end" x="2515" y="2291.1">GND</text>
<text class="t fk" x="2538.5" y="2278.1">109</text>
<path class="k" d="M2529 2283.1H2569"/>
<path class="g" d="M2569 2283.1H2807.5"/>
<text class="t fb" x="2771.5" y="2275.6">109</text>
<text class="t fk" x="2590" y="2275.6">GNDA</text>
<text class="t fk" text-anchor="end" x="2515" y="2318.9">GND</text>
<text class="t fk" x="2538.5" y="2305.9">108</text>
<path class="k" d="M2529 2310.9H2569"/>
<path class="g" d="M2569 2310.9H2807.5"/>
<text class="t fb" x="2771.5" y="2303.4">108</text>
<text class="t fk" x="2590" y="2303.4">GNDA</text>
<text class="t fk" text-anchor="end" x="2515" y="2346.7">GND</text>
<text class="t fk" x="2538.5" y="2333.7">107</text>
<path class="k" d="M2529 2338.7H2569"/>
<path class="g" d="M2569 2338.7H2807.5"/>
<text class="t fb" x="2771.5" y="2331.2">107</text>
<text class="t fk" x="2590" y="2331.2">GNDA</text>
<text class="t fb" text-anchor="end" x="2515" y="2374.5">HP_DET</text>
<text class="t fb" x="2538.5" y="2361.5">106</text>
<path class="r" d="M2529 2366.5H2569"/>
<path class="g" d="M2569 2366.5H2807.5"/>
<text class="t fb" x="2771.5" y="2359">106</text>
<text class="t fb" text-anchor="end" x="2515" y="2402.3">HEADMIC_IN_DET</text>
<text class="t fb" x="2538.5" y="2389.3">105</text>
<path class="r" d="M2529 2394.3H2569"/>
<path class="g" d="M2569 2394.3H2807.5"/>
<text class="t fb" x="2771.5" y="2386.8">105</text>
<text class="t fb" text-anchor="end" x="2515" y="2430.1">HEADMIC_N</text>
<text class="t fb" x="2538.5" y="2417.1">104</text>
<path class="r" d="M2529 2422.1H2569"/>
<path class="g" d="M2569 2422.1H2807.5"/>
<text class="t fb" x="2771.5" y="2414.6">104</text>
<text class="t fb" text-anchor="end" x="2515" y="2457.9">HP_R</text>
<text class="t fb" x="2538.5" y="2444.9">103</text>
<path class="r" d="M2529 2449.9H2569"/>
<path class="g" d="M2569 2449.9H2807.5"/>
<text class="t fb" x="2771.5" y="2442.4">103</text>
<text class="t fb" text-anchor="end" x="2515" y="2485.7">EAR_N</text>
<text class="t fb" x="2538.5" y="2472.7">102</text>
<path class="r" d="M2529 2477.7H2569"/>
<path class="g" d="M2569 2477.7H2807.5"/>
<text class="t fb" x="2771.5" y="2470.2">102</text>
<text class="t fb" text-anchor="end" x="2515" y="2513.5">EAR_P</text>
<text class="t fb" x="2538.5" y="2500.5">101</text>
<path class="r" d="M2529 2505.5H2569"/>
<path class="g" d="M2569 2505.5H2807.5"/>
<text class="t fb" x="2771.5" y="2498">101</text>
<text class="t fk" text-anchor="end" x="2515" y="2541.3">GND</text>
<text class="t fk" x="2538.5" y="2528.3">100</text>
<path class="k" d="M2529 2533.3H2569"/>
<path class="g" d="M2569 2533.3H2807.5"/>
<text class="t fb" x="2771.5" y="2525.8">100</text>
<text class="t fk" x="2590" y="2525.8">GNDA</text>
<text class="t fb" text-anchor="end" x="2515" y="2569.1">KEYOUT3</text>
<text class="t fb" x="2538.5" y="2556.1">99</text>
<path class="r" d="M2529 2561.1H2569"/>
<path class="g" d="M2569 2561.1H2807.5"/>
<text class="t fb" x="2771.5" y="2553.6">99</text>
<text class="t fb" text-anchor="end" x="2515" y="2596.9">KEYOUT2</text>
<text class="t fb" x="2538.5" y="2583.9">98</text>
<path class="r" d="M2529 2588.9H2569"/>
<path class="g" d="M2569 2588.9H2807.5"/>
<text class="t fb" x="2771.5" y="2581.4">98</text>
<text class="t fb" text-anchor="end" x="2515" y="2624.7">KEYOUT1</text>
<text class="t fb" x="2538.5" y="2611.7">97</text>
<path class="r" d="M2529 2616.7H2569"/>
<path class="g" d="M2569 2616.7H2807.5"/>
<text class="t fb" x="2771.5" y="2609.2">97</text>
<text class="t fb" text-anchor="end" x="2515" y="2652.5">KEYOUT0</text>
<text class="t fb" x="2538.5" y="2639.5">96</text>
<path class="r" d="M2529 2644.5H2569"/>
<path class="g" d="M2569 2644.5H2807.5"/>
<text class="t fb" x="2771.5" y="2637">96</text>
<text class="t fb" text-anchor="end" x="2515" y="2680.3">KEYIN5</text>
<text class="t fb" x="2538.5" y="2667.3">95</text>
<path class="r" d="M2529 2672.3H2569"/>
<path class="g" d="M2569 2672.3H2807.5"/>
<text class="t fb" x="2771.5" y="2664.8">95</text>
<text class="t fb" text-anchor="end" x="2515" y="2708.1">KEYIN4</text>
<text class="t fb" x="2538.5" y="2695.1">94</text>
<path class="r" d="M2529 2700.1H2569"/>
<path class="g" d="M2569 2700.1H2807.5"/>
<text class="t fb" x="2771.5" y="2692.6">94</text>
<text class="t fb" text-anchor="end" x="2515" y="2735.9">KEYIN3</text>
<text class="t fb" x="2538.5" y="2722.9">93</text>
<path class="r" d="M2529 2727.9H2569"/>
<path class="g" d="M2569 2727.9H2807.5"/>
<text class="t fb" x="2771.5" y="2720.4">93</text>
<text class="t fb" text-anchor="end" x="2515" y="2763.7">KEYIN2</text>
<text class="t fb" x="2538.5" y="2750.7">92</text>
<path class="r" d="M2529 2755.7H2569"/>
<path class="g" d="M2569 2755.7H2807.5"/>
<text class="t fb" x="2771.5" y="2748.2">92</text>
<text class="t fb" text-anchor="end" x="2515" y="2791.5">KEYIN1</text>
<text class="t fb" x="2538.5" y="2778.5">91</text>
<path class="r" d="M2529 2783.5H2569"/>
<path class="g" d="M2569 2783.5H2807.5"/>
<text class="t fb" x="2771.5" y="2776">91</text>
<text class="t fb" text-anchor="end" x="2515" y="2819.3">KEYOUT5/UART3_TXD</text>
<text class="t fb" x="2538.5" y="2806.3">90</text>
<path class="r" d="M2529 2811.3H2569"/>
<path class="g" d="M2569 2811.3H2807.5"/>
<text class="t fb" x="2771.5" y="2803.8">90</text>
<text class="t fb" text-anchor="end" x="2515" y="2847.1">KEYOUT4/UART3_RXD</text>
<text class="t fb" x="2538.5" y="2834.1">89</text>
<path class="r" d="M2529 2839.1H2569"/>
<path class="g" d="M2569 2839.1H2807.5"/>
<text class="t fb" x="2771.5" y="2831.6">89</text>
<text class="t fb" text-anchor="end" x="2515" y="2874.9">CAM_SI1</text>
<text class="t fb" x="2538.5" y="2861.9">88</text>
<path class="r" d="M2529 2866.9H2569"/>
<path class="g" d="M2569 2866.9H2807.5"/>
<text class="t fb" x="2771.5" y="2859.4">88</text>
<text class="t fb" x="2590" y="2859.4">CAM2_SI1</text>
<text class="t fb" text-anchor="end" x="2515" y="2902.7">CAM_SI0</text>
<text class="t fb" x="2538.5" y="2889.7">87</text>
<path class="r" d="M2529 2894.7H2569"/>
<path class="g" d="M2569 2894.7H2807.5"/>
<text class="t fb" x="2771.5" y="2887.2">87</text>
<text class="t fb" x="2590" y="2887.2">CAM2_SI0</text>
<text class="t fb" text-anchor="end" x="2515" y="2930.5">CAM_SCK</text>
<text class="t fb" x="2538.5" y="2917.5">86</text>
<path class="r" d="M2529 2922.5H2569"/>
<path class="g" d="M2569 2922.5H2807.5"/>
<text class="t fb" x="2771.5" y="2915">86</text>
<text class="t fb" x="2590" y="2915">CAM2_SCK</text>
<text class="t fb" text-anchor="end" x="2515" y="2958.3">CAM_REFCLK</text>
<text class="t fb" x="2538.5" y="2945.3">85</text>
<path class="r" d="M2529 2950.3H2569"/>
<path class="g" d="M2569 2950.3H2807.5"/>
<text class="t fb" x="2771.5" y="2942.8">85</text>
<text class="t fb" x="2590" y="2942.8">CAM2_REFCLK</text>
<text class="t fb" text-anchor="end" x="2515" y="2986.1">CAM_RST</text>
<text class="t fb" x="2538.5" y="2973.1">84</text>
<path class="r" d="M2529 2978.1H2569"/>
<path class="g" d="M2569 2978.1H2807.5"/>
<text class="t fb" x="2771.5" y="2970.6">84</text>
<text class="t fb" x="2590" y="2970.6">CAM2_RST</text>
<text class="t fb" text-anchor="end" x="2515" y="3013.9">I2S2_SDAT_IN</text>
<text class="t fb" x="2538.5" y="3000.9">83</text>
<path class="r" d="M2529 3005.9H2569"/>
<path class="g" d="M2569 3005.9H2807.5"/>
<text class="t fb" x="2771.5" y="2998.4">83</text>
<text class="t fb" text-anchor="end" x="2515" y="3041.7">GPIO_7</text>
<text class="t fb" x="2538.5" y="3028.7">82</text>
<path class="r" d="M2529 3033.7H2569"/>
<path class="g" d="M2569 3033.7H2807.5"/>
<text class="t fb" x="2771.5" y="3026.2">82</text>
<text class="t fR" text-anchor="end" x="2515" y="3069.5">VCC_LCD</text>
<text class="t fR" x="2538.5" y="3056.5">81</text>
<path class="R" d="M2529 3061.5H2569"/>
<path class="g" d="M2569 3061.5H2807.5"/>
<text class="t fb" x="2771.5" y="3054">81</text>
<text class="t fg" x="2590" y="3054">AIR_VLCD</text>
<text class="t fR" text-anchor="end" x="2515" y="3097.3">VCC_CAMD</text>
<text class="t fR" x="2538.5" y="3084.3">80</text>
<path class="R" d="M2529 3089.3H2569"/>
<path class="g" d="M2569 3089.3H2807.5"/>
<text class="t fb" x="2771.5" y="3081.8">80</text>
<text class="t fg" x="2590" y="3081.8">AIR_VCAMD</text>
<text class="t fR" text-anchor="end" x="2515" y="3125.1">VCC_CAMA</text>
<text class="t fR" x="2538.5" y="3112.1">79</text>
<path class="R" d="M2529 3117.1H2569"/>
<path class="g" d="M2569 3117.1H2807.5"/>
<text class="t fb" x="2771.5" y="3109.6">79</text>
<text class="t fg" x="2590" y="3109.6">AIR_VCAMA</text>
<text class="t fb" text-anchor="end" x="2515" y="3152.9">CAM_PWDN</text>
<text class="t fb" x="2538.5" y="3139.9">78</text>
<path class="r" d="M2529 3144.9H2569"/>
<path class="g" d="M2569 3144.9H2807.5"/>
<text class="t fb" x="2771.5" y="3137.4">78</text>
<text class="t fb" x="2590" y="3137.4">CAM2_PWDN</text>
<text class="t fk" text-anchor="end" x="2515" y="3180.7">GND</text>
<text class="t fk" x="2538.5" y="3167.7">77</text>
<path class="k" d="M2529 3172.7H2569"/>
<path class="g" d="M2569 3172.7H2807.5"/>
<text class="t fb" x="2771.5" y="3165.2">77</text>
<text class="t fb" text-anchor="end" x="2515" y="3208.5">I2S2_SDAT_OUT</text>
<text class="t fb" x="2538.5" y="3195.5">76</text>
<path class="r" d="M2529 3200.5H2569"/>
<path class="g" d="M2569 3200.5H2807.5"/>
<text class="t fb" x="2771.5" y="3193">76</text>
<text class="t fb" text-anchor="end" x="2515" y="3236.3">I2S2_BCK</text>
<text class="t fb" x="2538.5" y="3223.3">75</text>
<path class="r" d="M2529 3228.3H2569"/>
<path class="g" d="M2569 3228.3H2807.5"/>
<text class="t fb" x="2771.5" y="3220.8">75</text>
<text class="t fb" text-anchor="end" x="2515" y="3264.1">I2S2_LRCK</text>
<text class="t fb" x="2538.5" y="3251.1">74</text>
<path class="r" d="M2529 3256.1H2569"/>
<path class="g" d="M2569 3256.1H2807.5"/>
<text class="t fb" x="2771.5" y="3248.6">74</text>
<text class="t fb" text-anchor="end" x="2515" y="3291.9">PSM_EXT_INT</text>
<text class="t fb" x="2538.5" y="3278.9">73</text>
<path class="r" d="M2529 3283.9H2569"/>
<path class="g" d="M2569 3283.9H2807.5"/>
<text class="t fb" x="2771.5" y="3276.4">73</text>
<text class="t fR" text-anchor="end" x="2515" y="3319.7">VSIM1</text>
<text class="t fR" x="2538.5" y="3306.7">72</text>
<path class="R" d="M2529 3311.7H2569"/>
<path class="g" d="M2569 3311.7H2807.5"/>
<text class="t fb" x="2771.5" y="3304.2">72</text>
<text class="t fb" text-anchor="end" x="2515" y="3347.5">SIM1_RST/GPIO_31</text>
<text class="t fb" x="2538.5" y="3334.5">71</text>
<path class="r" d="M2529 3339.5H2569"/>
<path class="g" d="M2569 3339.5H2807.5"/>
<text class="t fb" x="2771.5" y="3332">71</text>
<text class="t fb" text-anchor="end" x="2515" y="3375.3">SIM1_DATA/GPIO_30</text>
<text class="t fb" x="2538.5" y="3362.3">70</text>
<path class="r" d="M2529 3367.3H2569"/>
<path class="g" d="M2569 3367.3H2807.5"/>
<text class="t fb" x="2771.5" y="3359.8">70</text>
<text class="t fb" text-anchor="end" x="2515" y="3403.1">SIM1_CLK/GPIO_29</text>
<text class="t fb" x="2538.5" y="3390.1">69</text>
<path class="r" d="M2529 3395.1H2569"/>
<path class="g" d="M2569 3395.1H2807.5"/>
<text class="t fb" x="2771.5" y="3387.6">69</text>
<text class="t fb" text-anchor="end" x="2515" y="3430.9">PWRKEY</text>
<text class="t fb" x="2538.5" y="3417.9">68</text>
<path class="r" d="M2529 3422.9H2569"/>
<text class="t fb" x="2590" y="3415.4">AIR_PBINT</text>
<text class="t fb" text-anchor="end" x="2515" y="3458.7">RESERVED</text>
<text class="t fb" x="2538.5" y="3445.7">67</text>
<path class="r" d="M2529 3450.7H2569"/>
<text class="t fb" text-anchor="end" x="2515" y="3486.5">USB_BOOT/KEYIN0</text>
<text class="t fb" x="2538.5" y="3473.5">66</text>
<path class="r" d="M2529 3478.5H2569"/>
<text class="t fb" x="2590" y="3471">AIR_KEYIN0</text>
<text class="t fR" text-anchor="end" x="2515" y="3514.3">V_GLOABL_1V8</text>
<text class="t fR" x="2538.5" y="3501.3">65</text>
<path class="R" d="M2529 3506.3H2569"/>
<text class="t fg" x="2590" y="3498.8">AIR_1V8</text>
<text class="t fb" text-anchor="end" x="2515" y="3542.1">ADC3</text>
<text class="t fb" x="2538.5" y="3529.1">64</text>
<path class="r" d="M2529 3534.1H2569"/>
<text class="t fb" text-anchor="end" x="2515" y="3569.9">ADC2</text>
<text class="t fb" x="2538.5" y="3556.9">63</text>
<path class="r" d="M2529 3561.9H2569"/>
<text class="t fk" text-anchor="end" x="2515" y="3597.7">GND</text>
<text class="t fk" x="2538.5" y="3584.7">62</text>
<path class="k" d="M2529 3589.7H2569"/>
<text class="t fk" x="2590" y="3582.2">GNDA</text>
<text class="t fk" text-anchor="end" x="2515" y="3625.5">GND</text>
<text class="t fk" x="2538.5" y="3612.5">61</text>
<path class="k" d="M2529 3617.5H2569"/>
<text class="t fk" x="2590" y="3610">GNDA</text>
<text class="t fR" text-anchor="end" x="2515" y="3653.3">VBAT</text>
<text class="t fR" x="2538.5" y="3640.3">60</text>
<path class="R" d="M2529 3645.3H2569"/>
<text class="t fg" x="2590" y="3637.8">AIR_VBAT</text>
<rect class="r" x="2196.5" y="3395.4" width="55" height="305.5" rx="6"/>
<text class="s fn" text-anchor="middle" transform="translate(2219.5 3498) rotate(-90)">AIRH6_2</text>
<path class="k" d="M2251.5 3422.9H2280"/>
<text class="s fk" text-anchor="end" x="2238.5" y="3432.9">1</text>
<path class="g" d="M2280 3422.9H2765"/>
<circle class="j" cx="2570" cy="3422.9" r="7"/>
<path class="k" d="M2251.5 3450.7H2280"/>
<text class="s fk" text-anchor="end" x="2238.5" y="3460.7">2</text>
<path class="g" d="M2280 3450.7H2571.5"/>
<path class="k" d="M2251.5 3478.5H2280"/>
<text class="s fk" text-anchor="end" x="2238.5" y="3488.5">3</text>
<path class="g" d="M2280 3478.5H2765"/>
<circle class="j" cx="2570" cy="3478.5" r="7"/>
<path class="k" d="M2251.5 3506.3H2280"/>
<text class="s fk" text-anchor="end" x="2238.5" y="3516.3">4</text>
<path class="g" d="M2280 3506.3H2696.5"/>
<circle class="j" cx="2570" cy="3506.3" r="7"/>
<path class="k" d="M2251.5 3534.1H2280"/>
<text class="s fk" text-anchor="end" x="2238.5" y="3544.1">5</text>
<path class="g" d="M2280 3534.1H2571.5"/>
<path class="k" d="M2251.5 3561.9H2280"/>
<text class="s fk" text-anchor="end" x="2238.5" y="3571.9">6</text>
<path class="g" d="M2280 3561.9H2571.5"/>
<path class="k" d="M2251.5 3589.7H2280"/>
<text class="s fk" text-anchor="end" x="2238.5" y="3599.7">7</text>
<path class="g" d="M2280 3589.7H2668.5"/>
<circle class="j" cx="2570" cy="3589.7" r="7"/>
<path class="k" d="M2251.5 3617.5H2280"/>
<text class="s fk" text-anchor="end" x="2238.5" y="3627.5">8</text>
<path class="g" d="M2280 3617.5H2696.5"/>
<circle class="j" cx="2570" cy="3617.5" r="7"/>
<path class="k" d="M2251.5 3645.3H2280"/>
<text class="s fk" text-anchor="end" x="2238.5" y="3655.3">9</text>
<path class="g" d="M2280 3645.3H2765"/>
<circle class="j" cx="2570" cy="3645.3" r="7"/>
<path class="k" d="M2251.5 3673.1H2280"/>
<text class="s fk" text-anchor="end" x="2238.5" y="3683.1">10</text>
<path class="r" d="M2696.5 3506.3V3555"/>
<path class="r" d="M2672.5 3555H2720"/>
<path class="r" d="M2672.5 3567.5H2720"/>
<path class="r" d="M2696.5 3567.5V3617.5"/>
<text class="s fn" x="2725" y="3569">C56</text>
<text class="s fn" x="2725" y="3592.5">10uF</text>
<path class="g" d="M2280 3673.1H2306.5V3700.9"/>
<path class="k" d="M2306.5 3700.9H2334"/>
<rect class="r" x="2334" y="3689.9" width="57" height="22.5" style="fill:#fff"/>
<path class="k" d="M2391 3700.9H2419"/>
<path class="g" d="M2419 3700.9H2529"/>
<text class="s fn" text-anchor="middle" x="2362.5" y="3709.9">10K</text>
<text class="s fn" x="2340" y="3680.9">R70</text>
<text class="t fk" x="2425" y="3693.4">GNDA</text>
<rect class="r" x="1389.8" y="3868.5" width="584.2" height="54.2" rx="6"/>
<rect class="r" x="1946.4" y="3868.5" width="582.2" height="54.2" rx="6"/>
<rect class="r" x="2501.5" y="3868.5" width="305.5" height="54.2" rx="6"/>
<text class="s fn" x="1445.7" y="3917">AIR2</text>
<text class="s fn" x="2002.4" y="3917">AIR4</text>
<text class="s fn" x="2536.8" y="3917">AIRH6_1</text>
<text class="s fk" text-anchor="end" transform="translate(1427.5 3881) rotate(-90)">1</text>
<path class="k" d="M1417.5 3868.5V3842"/>
<path class="g" d="M1417.5 3842V3782.7"/>
<text class="t fb" transform="translate(1411.5 3819) rotate(-90)">91</text>
<text class="s fk" text-anchor="end" transform="translate(1455.3 3881) rotate(-90)">2</text>
<path class="k" d="M1445.3 3868.5V3842"/>
<path class="g" d="M1445.3 3842V3782.7"/>
<text class="t fb" transform="translate(1439.3 3819) rotate(-90)">100</text>
<text class="s fk" text-anchor="end" transform="translate(1483.1 3881) rotate(-90)">3</text>
<path class="k" d="M1473.1 3868.5V3842"/>
<path class="g" d="M1473.1 3842V3782.7"/>
<text class="t fb" transform="translate(1467.1 3819) rotate(-90)">109</text>
<text class="s fk" text-anchor="end" transform="translate(1510.9 3881) rotate(-90)">4</text>
<path class="k" d="M1500.9 3868.5V3842"/>
<path class="g" d="M1500.9 3842V3782.7"/>
<text class="t fb" transform="translate(1494.9 3819) rotate(-90)">92</text>
<text class="s fk" text-anchor="end" transform="translate(1538.7 3881) rotate(-90)">5</text>
<path class="k" d="M1528.7 3868.5V3842"/>
<path class="g" d="M1528.7 3842V3782.7"/>
<text class="t fb" transform="translate(1522.7 3819) rotate(-90)">101</text>
<text class="s fk" text-anchor="end" transform="translate(1566.5 3881) rotate(-90)">6</text>
<path class="k" d="M1556.5 3868.5V3842"/>
<path class="g" d="M1556.5 3842V3782.7"/>
<text class="t fb" transform="translate(1550.5 3819) rotate(-90)">110</text>
<text class="s fk" text-anchor="end" transform="translate(1594.3 3881) rotate(-90)">7</text>
<path class="k" d="M1584.3 3868.5V3842"/>
<path class="g" d="M1584.3 3842V3782.7"/>
<text class="t fb" transform="translate(1578.3 3819) rotate(-90)">93</text>
<text class="s fk" text-anchor="end" transform="translate(1622.1 3881) rotate(-90)">8</text>
<path class="k" d="M1612.1 3868.5V3842"/>
<path class="g" d="M1612.1 3842V3782.7"/>
<text class="t fb" transform="translate(1606.1 3819) rotate(-90)">102</text>
<text class="s fk" text-anchor="end" transform="translate(1649.9 3881) rotate(-90)">9</text>
<path class="k" d="M1639.9 3868.5V3842"/>
<path class="g" d="M1639.9 3842V3782.7"/>
<text class="t fb" transform="translate(1633.9 3819) rotate(-90)">111</text>
<text class="s fk" text-anchor="end" transform="translate(1677.7 3881) rotate(-90)">10</text>
<path class="k" d="M1667.7 3868.5V3842"/>
<path class="g" d="M1667.7 3842V3782.7"/>
<text class="t fb" transform="translate(1661.7 3819) rotate(-90)">94</text>
<text class="s fk" text-anchor="end" transform="translate(1705.5 3881) rotate(-90)">11</text>
<path class="k" d="M1695.5 3868.5V3842"/>
<path class="g" d="M1695.5 3842V3782.7"/>
<text class="t fb" transform="translate(1689.5 3819) rotate(-90)">103</text>
<text class="s fk" text-anchor="end" transform="translate(1733.3 3881) rotate(-90)">12</text>
<path class="k" d="M1723.3 3868.5V3842"/>
<path class="g" d="M1723.3 3842V3782.7"/>
<text class="t fb" transform="translate(1717.3 3819) rotate(-90)">112</text>
<text class="s fk" text-anchor="end" transform="translate(1761.1 3881) rotate(-90)">13</text>
<path class="k" d="M1751.1 3868.5V3842"/>
<path class="g" d="M1751.1 3842V3782.7"/>
<text class="t fb" transform="translate(1745.1 3819) rotate(-90)">95</text>
<text class="s fk" text-anchor="end" transform="translate(1788.9 3881) rotate(-90)">14</text>
<path class="k" d="M1778.9 3868.5V3842"/>
<path class="g" d="M1778.9 3842V3782.7"/>
<text class="t fb" transform="translate(1772.9 3819) rotate(-90)">104</text>
<text class="s fk" text-anchor="end" transform="translate(1816.7 3881) rotate(-90)">15</text>
<path class="k" d="M1806.7 3868.5V3842"/>
<path class="g" d="M1806.7 3842V3782.7"/>
<text class="t fb" transform="translate(1800.7 3819) rotate(-90)">113</text>
<text class="s fk" text-anchor="end" transform="translate(1844.5 3881) rotate(-90)">16</text>
<path class="k" d="M1834.5 3868.5V3842"/>
<path class="g" d="M1834.5 3842V3782.7"/>
<text class="t fb" transform="translate(1828.5 3819) rotate(-90)">96</text>
<text class="s fk" text-anchor="end" transform="translate(1872.3 3881) rotate(-90)">17</text>
<path class="k" d="M1862.3 3868.5V3842"/>
<path class="g" d="M1862.3 3842V3782.7"/>
<text class="t fb" transform="translate(1856.3 3819) rotate(-90)">105</text>
<text class="s fk" text-anchor="end" transform="translate(1900.1 3881) rotate(-90)">18</text>
<path class="k" d="M1890.1 3868.5V3842"/>
<path class="g" d="M1890.1 3842V3782.7"/>
<text class="t fb" transform="translate(1884.1 3819) rotate(-90)">114</text>
<text class="s fk" text-anchor="end" transform="translate(1927.9 3881) rotate(-90)">19</text>
<path class="k" d="M1917.9 3868.5V3842"/>
<path class="g" d="M1917.9 3842V3782.7"/>
<text class="t fb" transform="translate(1911.9 3819) rotate(-90)">106</text>
<text class="s fk" text-anchor="end" transform="translate(1955.7 3881) rotate(-90)">20</text>
<path class="k" d="M1945.7 3868.5V3842"/>
<path class="g" d="M1945.7 3842V3782.7"/>
<text class="t fb" transform="translate(1939.7 3819) rotate(-90)">115</text>
<text class="s fk" text-anchor="end" transform="translate(1983.5 3881) rotate(-90)">1</text>
<path class="k" d="M1973.5 3868.5V3842"/>
<path class="g" d="M1973.5 3842V3782.7"/>
<text class="t fb" transform="translate(1967.5 3819) rotate(-90)">107</text>
<text class="s fk" text-anchor="end" transform="translate(2011.3 3881) rotate(-90)">2</text>
<path class="k" d="M2001.3 3868.5V3842"/>
<path class="g" d="M2001.3 3842V3782.7"/>
<text class="t fb" transform="translate(1995.3 3819) rotate(-90)">108</text>
<text class="s fk" text-anchor="end" transform="translate(2039.1 3881) rotate(-90)">3</text>
<path class="k" d="M2029.1 3868.5V3842"/>
<path class="g" d="M2029.1 3842V3782.7"/>
<text class="t fb" transform="translate(2023.1 3819) rotate(-90)">116</text>
<text class="s fk" text-anchor="end" transform="translate(2066.9 3881) rotate(-90)">4</text>
<path class="k" d="M2056.9 3868.5V3842"/>
<path class="g" d="M2056.9 3842V3782.7"/>
<text class="t fb" transform="translate(2050.9 3819) rotate(-90)">117</text>
<text class="s fk" text-anchor="end" transform="translate(2094.7 3881) rotate(-90)">5</text>
<path class="k" d="M2084.7 3868.5V3842"/>
<path class="g" d="M2084.7 3842V3782.7"/>
<text class="t fb" transform="translate(2078.7 3819) rotate(-90)">97</text>
<text class="s fk" text-anchor="end" transform="translate(2122.5 3881) rotate(-90)">6</text>
<path class="k" d="M2112.5 3868.5V3842"/>
<path class="g" d="M2112.5 3842V3782.7"/>
<text class="t fb" transform="translate(2106.5 3819) rotate(-90)">98</text>
<text class="s fk" text-anchor="end" transform="translate(2150.3 3881) rotate(-90)">7</text>
<path class="k" d="M2140.3 3868.5V3842"/>
<path class="g" d="M2140.3 3842V3782.7"/>
<text class="t fb" transform="translate(2134.3 3819) rotate(-90)">99</text>
<text class="s fk" text-anchor="end" transform="translate(2178.1 3881) rotate(-90)">8</text>
<path class="k" d="M2168.1 3868.5V3842"/>
<path class="G" d="M2157.1 3829.5L2179.1 3851.5"/>
<path class="G" d="M2157.1 3851.5L2179.1 3829.5"/>
<text class="s fk" text-anchor="end" transform="translate(2205.9 3881) rotate(-90)">9</text>
<path class="k" d="M2195.9 3868.5V3842"/>
<path class="g" d="M2195.9 3842V3782.7"/>
<text class="t fb" transform="translate(2189.9 3819) rotate(-90)">81</text>
<text class="s fk" text-anchor="end" transform="translate(2233.7 3881) rotate(-90)">10</text>
<path class="k" d="M2223.7 3868.5V3842"/>
<path class="g" d="M2223.7 3842V3782.7"/>
<text class="t fb" transform="translate(2217.7 3819) rotate(-90)">90</text>
<text class="s fk" text-anchor="end" transform="translate(2261.5 3881) rotate(-90)">11</text>
<path class="k" d="M2251.5 3868.5V3842"/>
<path class="g" d="M2251.5 3842V3782.7"/>
<text class="t fb" transform="translate(2245.5 3819) rotate(-90)">80</text>
<text class="s fk" text-anchor="end" transform="translate(2289.3 3881) rotate(-90)">12</text>
<path class="k" d="M2279.3 3868.5V3842"/>
<path class="g" d="M2279.3 3842V3782.7"/>
<text class="t fb" transform="translate(2273.3 3819) rotate(-90)">89</text>
<text class="s fk" text-anchor="end" transform="translate(2317.1 3881) rotate(-90)">13</text>
<path class="k" d="M2307.1 3868.5V3842"/>
<path class="g" d="M2307.1 3842V3782.7"/>
<text class="t fb" transform="translate(2301.1 3819) rotate(-90)">79</text>
<text class="s fk" text-anchor="end" transform="translate(2344.9 3881) rotate(-90)">14</text>
<path class="k" d="M2334.9 3868.5V3842"/>
<path class="g" d="M2334.9 3842V3782.7"/>
<text class="t fb" transform="translate(2328.9 3819) rotate(-90)">88</text>
<text class="s fk" text-anchor="end" transform="translate(2372.7 3881) rotate(-90)">15</text>
<path class="k" d="M2362.7 3868.5V3842"/>
<path class="g" d="M2362.7 3842V3782.7"/>
<text class="t fb" transform="translate(2356.7 3819) rotate(-90)">78</text>
<text class="s fk" text-anchor="end" transform="translate(2400.5 3881) rotate(-90)">16</text>
<path class="k" d="M2390.5 3868.5V3842"/>
<path class="g" d="M2390.5 3842V3782.7"/>
<text class="t fb" transform="translate(2384.5 3819) rotate(-90)">87</text>
<text class="s fk" text-anchor="end" transform="translate(2428.3 3881) rotate(-90)">17</text>
<path class="k" d="M2418.3 3868.5V3842"/>
<path class="g" d="M2418.3 3842V3782.7"/>
<text class="t fb" transform="translate(2412.3 3819) rotate(-90)">77</text>
<text class="s fk" text-anchor="end" transform="translate(2456.1 3881) rotate(-90)">18</text>
<path class="k" d="M2446.1 3868.5V3842"/>
<path class="g" d="M2446.1 3842V3782.7"/>
<text class="t fb" transform="translate(2440.1 3819) rotate(-90)">86</text>
<text class="s fk" text-anchor="end" transform="translate(2483.9 3881) rotate(-90)">19</text>
<path class="k" d="M2473.9 3868.5V3842"/>
<path class="g" d="M2473.9 3842V3782.7"/>
<text class="t fb" transform="translate(2467.9 3819) rotate(-90)">76</text>
<text class="s fk" text-anchor="end" transform="translate(2511.7 3881) rotate(-90)">20</text>
<path class="k" d="M2501.7 3868.5V3842"/>
<path class="g" d="M2501.7 3842V3782.7"/>
<text class="t fb" transform="translate(2495.7 3819) rotate(-90)">72</text>
<text class="s fk" text-anchor="end" transform="translate(2539.5 3881) rotate(-90)">1</text>
<path class="k" d="M2529.5 3868.5V3842"/>
<path class="g" d="M2529.5 3842V3782.7"/>
<text class="t fb" transform="translate(2523.5 3819) rotate(-90)">85</text>
<text class="s fk" text-anchor="end" transform="translate(2567.3 3881) rotate(-90)">2</text>
<path class="k" d="M2557.3 3868.5V3842"/>
<path class="g" d="M2557.3 3842V3782.7"/>
<text class="t fb" transform="translate(2551.3 3819) rotate(-90)">71</text>
<text class="s fk" text-anchor="end" transform="translate(2595.1 3881) rotate(-90)">3</text>
<path class="k" d="M2585.1 3868.5V3842"/>
<path class="g" d="M2585.1 3842V3782.7"/>
<text class="t fb" transform="translate(2579.1 3819) rotate(-90)">75</text>
<text class="s fk" text-anchor="end" transform="translate(2622.9 3881) rotate(-90)">4</text>
<path class="k" d="M2612.9 3868.5V3842"/>
<path class="g" d="M2612.9 3842V3782.7"/>
<text class="t fb" transform="translate(2606.9 3819) rotate(-90)">84</text>
<text class="s fk" text-anchor="end" transform="translate(2650.7 3881) rotate(-90)">5</text>
<path class="k" d="M2640.7 3868.5V3842"/>
<path class="g" d="M2640.7 3842V3782.7"/>
<text class="t fb" transform="translate(2634.7 3819) rotate(-90)">70</text>
<text class="s fk" text-anchor="end" transform="translate(2678.5 3881) rotate(-90)">6</text>
<path class="k" d="M2668.5 3868.5V3842"/>
<path class="g" d="M2668.5 3842V3782.7"/>
<text class="t fb" transform="translate(2662.5 3819) rotate(-90)">74</text>
<text class="s fk" text-anchor="end" transform="translate(2706.3 3881) rotate(-90)">7</text>
<path class="k" d="M2696.3 3868.5V3842"/>
<path class="g" d="M2696.3 3842V3782.7"/>
<text class="t fb" transform="translate(2690.3 3819) rotate(-90)">83</text>
<text class="s fk" text-anchor="end" transform="translate(2734.1 3881) rotate(-90)">8</text>
<path class="k" d="M2724.1 3868.5V3842"/>
<path class="g" d="M2724.1 3842V3782.7"/>
<text class="t fb" transform="translate(2718.1 3819) rotate(-90)">69</text>
<text class="s fk" text-anchor="end" transform="translate(2761.9 3881) rotate(-90)">9</text>
<path class="k" d="M2751.9 3868.5V3842"/>
<path class="g" d="M2751.9 3842V3782.7"/>
<text class="t fb" transform="translate(2745.9 3819) rotate(-90)">73</text>
<text class="s fk" text-anchor="end" transform="translate(2789.7 3881) rotate(-90)">10</text>
<path class="k" d="M2779.7 3868.5V3842"/>
<path class="g" d="M2779.7 3842V3782.7"/>
<text class="t fb" transform="translate(2773.7 3819) rotate(-90)">82</text>
<g transform="translate(2040 4280) scale(0.18083)" style="fill:none;stroke:#5588ff;stroke-width:40;stroke-linecap:round;stroke-linejoin:round"><path style="stroke:#5588ff;stroke-width:40" d="M385 425H420C470 425 488 390 482 350C476 315 452 300 425 300C412 255 375 232 330 232C285 232 255 255 245 280C190 275 138 305 138 350C138 385 160 410 190 428"/><circle cx="250" cy="425" r="36"/><path style="stroke:#5588ff;stroke-width:40" d="M285 400L378 360"/></g>
<text class="c" transform="translate(2137 4358.5) skewX(-12)" style="font-size:41px;font-weight:bold;fill:#5588ff;stroke:#5588ff;stroke-width:1.5" textLength="84" lengthAdjust="spacingAndGlyphs">立创</text>
<text class="s" x="2223.5" y="4358.5" style="font-size:47px;font-weight:bold;font-style:italic;fill:#5588ff;stroke:#5588ff;stroke-width:1.5" textLength="94" lengthAdjust="spacingAndGlyphs">EDA</text>
</svg>
</body></html>
